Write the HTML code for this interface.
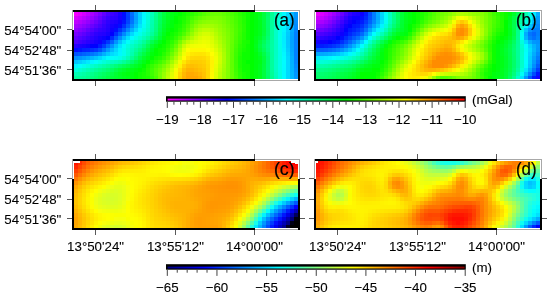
<!DOCTYPE html>
<html><head><meta charset="utf-8"><style>
html,body{margin:0;padding:0;background:#fff;}
svg{display:block;will-change:transform;}
text{font-family:"Liberation Sans",sans-serif;fill:#000;stroke:#000;stroke-width:0.1px;}
</style></head><body>
<svg width="550" height="297" viewBox="0 0 550 297" shape-rendering="crispEdges">
<defs><filter id="bl" x="-2%" y="-5%" width="104%" height="110%"><feGaussianBlur stdDeviation="0.7"/></filter></defs>
<g filter="url(#bl)"><rect x="74" y="12" width="4" height="4" fill="#f700ff"/>
<rect x="78" y="12" width="4" height="4" fill="#e700ff"/>
<rect x="82" y="12" width="4" height="4" fill="#d500ff"/>
<rect x="86" y="12" width="4" height="4" fill="#c100ff"/>
<rect x="90" y="12" width="4" height="4" fill="#ab00ff"/>
<rect x="94" y="12" width="4" height="4" fill="#9400ff"/>
<rect x="98" y="12" width="4" height="4" fill="#7b00ff"/>
<rect x="102" y="12" width="4" height="4" fill="#6200ff"/>
<rect x="106" y="12" width="4" height="4" fill="#4c00ff"/>
<rect x="110" y="12" width="4" height="4" fill="#3c00ff"/>
<rect x="114" y="12" width="4" height="4" fill="#3100ff"/>
<rect x="118" y="12" width="4" height="4" fill="#1b00ff"/>
<rect x="122" y="12" width="4" height="4" fill="#000bff"/>
<rect x="126" y="12" width="4" height="4" fill="#003dff"/>
<rect x="130" y="12" width="4" height="4" fill="#006fff"/>
<rect x="134" y="12" width="4" height="4" fill="#00a1ff"/>
<rect x="138" y="12" width="4" height="4" fill="#00d0ff"/>
<rect x="142" y="12" width="4" height="4" fill="#00f9ff"/>
<rect x="146" y="12" width="4" height="4" fill="#00ffe0"/>
<rect x="150" y="12" width="4" height="4" fill="#00ffbb"/>
<rect x="154" y="12" width="4" height="4" fill="#00ff91"/>
<rect x="158" y="12" width="4" height="4" fill="#00ff64"/>
<rect x="162" y="12" width="4" height="4" fill="#00ff3f"/>
<rect x="166" y="12" width="4" height="4" fill="#00ff26"/>
<rect x="170" y="12" width="4" height="4" fill="#00ff16"/>
<rect x="174" y="12" width="4" height="4" fill="#00ff09"/>
<rect x="178" y="12" width="4" height="4" fill="#04ff00"/>
<rect x="182" y="12" width="4" height="4" fill="#11ff00"/>
<rect x="186" y="12" width="4" height="4" fill="#1dff00"/>
<rect x="190" y="12" width="4" height="4" fill="#2aff00"/>
<rect x="194" y="12" width="4" height="4" fill="#37ff00"/>
<rect x="198" y="12" width="4" height="4" fill="#45ff00"/>
<rect x="202" y="12" width="4" height="4" fill="#53ff00"/>
<rect x="206" y="12" width="4" height="4" fill="#5fff00"/>
<rect x="210" y="12" width="4" height="4" fill="#67ff00"/>
<rect x="214" y="12" width="4" height="4" fill="#6bff00"/>
<rect x="218" y="12" width="4" height="4" fill="#69ff00"/>
<rect x="222" y="12" width="4" height="4" fill="#61ff00"/>
<rect x="226" y="12" width="4" height="4" fill="#56ff00"/>
<rect x="230" y="12" width="4" height="4" fill="#49ff00"/>
<rect x="234" y="12" width="4" height="4" fill="#3aff00"/>
<rect x="238" y="12" width="4" height="4" fill="#2cff00"/>
<rect x="242" y="12" width="4" height="4" fill="#1dff00"/>
<rect x="246" y="12" width="4" height="4" fill="#0eff00"/>
<rect x="250" y="12" width="4" height="4" fill="#00ff00"/>
<rect x="254" y="12" width="4" height="4" fill="#00ff0e"/>
<rect x="258" y="12" width="4" height="4" fill="#00ff1f"/>
<rect x="262" y="12" width="4" height="4" fill="#00ff3c"/>
<rect x="266" y="12" width="4" height="4" fill="#00ff64"/>
<rect x="270" y="12" width="4" height="4" fill="#00ff92"/>
<rect x="274" y="12" width="4" height="4" fill="#00ffbc"/>
<rect x="278" y="12" width="4" height="4" fill="#00ffe0"/>
<rect x="282" y="12" width="4" height="4" fill="#00fbff"/>
<rect x="286" y="12" width="4" height="4" fill="#00daff"/>
<rect x="290" y="12" width="4" height="4" fill="#00b9ff"/>
<rect x="294" y="12" width="4" height="4" fill="#0098ff"/>
<rect x="74" y="16" width="4" height="4" fill="#da00ff"/>
<rect x="78" y="16" width="4" height="4" fill="#cd00ff"/>
<rect x="82" y="16" width="4" height="4" fill="#bd00ff"/>
<rect x="86" y="16" width="4" height="4" fill="#ab00ff"/>
<rect x="90" y="16" width="4" height="4" fill="#9700ff"/>
<rect x="94" y="16" width="4" height="4" fill="#8100ff"/>
<rect x="98" y="16" width="4" height="4" fill="#6900ff"/>
<rect x="102" y="16" width="4" height="4" fill="#5000ff"/>
<rect x="106" y="16" width="4" height="4" fill="#3b00ff"/>
<rect x="110" y="16" width="4" height="4" fill="#2e00ff"/>
<rect x="114" y="16" width="4" height="4" fill="#2900ff"/>
<rect x="118" y="16" width="4" height="4" fill="#1800ff"/>
<rect x="122" y="16" width="4" height="4" fill="#000aff"/>
<rect x="126" y="16" width="4" height="4" fill="#003aff"/>
<rect x="130" y="16" width="4" height="4" fill="#006bff"/>
<rect x="134" y="16" width="4" height="4" fill="#009eff"/>
<rect x="138" y="16" width="4" height="4" fill="#00d0ff"/>
<rect x="142" y="16" width="4" height="4" fill="#00fbff"/>
<rect x="146" y="16" width="4" height="4" fill="#00ffdd"/>
<rect x="150" y="16" width="4" height="4" fill="#00ffb6"/>
<rect x="154" y="16" width="4" height="4" fill="#00ff8d"/>
<rect x="158" y="16" width="4" height="4" fill="#00ff60"/>
<rect x="162" y="16" width="4" height="4" fill="#00ff3b"/>
<rect x="166" y="16" width="4" height="4" fill="#00ff22"/>
<rect x="170" y="16" width="4" height="4" fill="#00ff13"/>
<rect x="174" y="16" width="4" height="4" fill="#00ff04"/>
<rect x="178" y="16" width="4" height="4" fill="#0aff00"/>
<rect x="182" y="16" width="4" height="4" fill="#19ff00"/>
<rect x="186" y="16" width="4" height="4" fill="#2bff00"/>
<rect x="190" y="16" width="4" height="4" fill="#40ff00"/>
<rect x="194" y="16" width="4" height="4" fill="#53ff00"/>
<rect x="198" y="16" width="4" height="4" fill="#62ff00"/>
<rect x="202" y="16" width="4" height="4" fill="#6dff00"/>
<rect x="206" y="16" width="4" height="4" fill="#75ff00"/>
<rect x="210" y="16" width="4" height="4" fill="#7aff00"/>
<rect x="214" y="16" width="4" height="4" fill="#7cff00"/>
<rect x="218" y="16" width="4" height="4" fill="#78ff00"/>
<rect x="222" y="16" width="4" height="4" fill="#6eff00"/>
<rect x="226" y="16" width="4" height="4" fill="#61ff00"/>
<rect x="230" y="16" width="4" height="4" fill="#52ff00"/>
<rect x="234" y="16" width="4" height="4" fill="#42ff00"/>
<rect x="238" y="16" width="4" height="4" fill="#32ff00"/>
<rect x="242" y="16" width="4" height="4" fill="#21ff00"/>
<rect x="246" y="16" width="4" height="4" fill="#10ff00"/>
<rect x="250" y="16" width="4" height="4" fill="#00ff00"/>
<rect x="254" y="16" width="4" height="4" fill="#00ff0f"/>
<rect x="258" y="16" width="4" height="4" fill="#00ff20"/>
<rect x="262" y="16" width="4" height="4" fill="#00ff3d"/>
<rect x="266" y="16" width="4" height="4" fill="#00ff68"/>
<rect x="270" y="16" width="4" height="4" fill="#00ff98"/>
<rect x="274" y="16" width="4" height="4" fill="#00ffc1"/>
<rect x="278" y="16" width="4" height="4" fill="#00ffe2"/>
<rect x="282" y="16" width="4" height="4" fill="#00fcff"/>
<rect x="286" y="16" width="4" height="4" fill="#00dbff"/>
<rect x="290" y="16" width="4" height="4" fill="#00b8ff"/>
<rect x="294" y="16" width="4" height="4" fill="#0094ff"/>
<rect x="74" y="20" width="4" height="4" fill="#bf00ff"/>
<rect x="78" y="20" width="4" height="4" fill="#b300ff"/>
<rect x="82" y="20" width="4" height="4" fill="#a400ff"/>
<rect x="86" y="20" width="4" height="4" fill="#9400ff"/>
<rect x="90" y="20" width="4" height="4" fill="#8100ff"/>
<rect x="94" y="20" width="4" height="4" fill="#6d00ff"/>
<rect x="98" y="20" width="4" height="4" fill="#5800ff"/>
<rect x="102" y="20" width="4" height="4" fill="#4100ff"/>
<rect x="106" y="20" width="4" height="4" fill="#2e00ff"/>
<rect x="110" y="20" width="4" height="4" fill="#2200ff"/>
<rect x="114" y="20" width="4" height="4" fill="#1c00ff"/>
<rect x="118" y="20" width="4" height="4" fill="#0b00ff"/>
<rect x="122" y="20" width="4" height="4" fill="#0017ff"/>
<rect x="126" y="20" width="4" height="4" fill="#0044ff"/>
<rect x="130" y="20" width="4" height="4" fill="#0075ff"/>
<rect x="134" y="20" width="4" height="4" fill="#00a7ff"/>
<rect x="138" y="20" width="4" height="4" fill="#00d7ff"/>
<rect x="142" y="20" width="4" height="4" fill="#00fffc"/>
<rect x="146" y="20" width="4" height="4" fill="#00ffd7"/>
<rect x="150" y="20" width="4" height="4" fill="#00ffb2"/>
<rect x="154" y="20" width="4" height="4" fill="#00ff88"/>
<rect x="158" y="20" width="4" height="4" fill="#00ff5b"/>
<rect x="162" y="20" width="4" height="4" fill="#00ff36"/>
<rect x="166" y="20" width="4" height="4" fill="#00ff1d"/>
<rect x="170" y="20" width="4" height="4" fill="#00ff0e"/>
<rect x="174" y="20" width="4" height="4" fill="#01ff00"/>
<rect x="178" y="20" width="4" height="4" fill="#10ff00"/>
<rect x="182" y="20" width="4" height="4" fill="#22ff00"/>
<rect x="186" y="20" width="4" height="4" fill="#39ff00"/>
<rect x="190" y="20" width="4" height="4" fill="#55ff00"/>
<rect x="194" y="20" width="4" height="4" fill="#6eff00"/>
<rect x="198" y="20" width="4" height="4" fill="#7fff00"/>
<rect x="202" y="20" width="4" height="4" fill="#88ff00"/>
<rect x="206" y="20" width="4" height="4" fill="#8dff00"/>
<rect x="210" y="20" width="4" height="4" fill="#8eff00"/>
<rect x="214" y="20" width="4" height="4" fill="#8bff00"/>
<rect x="218" y="20" width="4" height="4" fill="#84ff00"/>
<rect x="222" y="20" width="4" height="4" fill="#79ff00"/>
<rect x="226" y="20" width="4" height="4" fill="#6aff00"/>
<rect x="230" y="20" width="4" height="4" fill="#5aff00"/>
<rect x="234" y="20" width="4" height="4" fill="#48ff00"/>
<rect x="238" y="20" width="4" height="4" fill="#36ff00"/>
<rect x="242" y="20" width="4" height="4" fill="#24ff00"/>
<rect x="246" y="20" width="4" height="4" fill="#11ff00"/>
<rect x="250" y="20" width="4" height="4" fill="#00ff00"/>
<rect x="254" y="20" width="4" height="4" fill="#00ff0f"/>
<rect x="258" y="20" width="4" height="4" fill="#00ff1f"/>
<rect x="262" y="20" width="4" height="4" fill="#00ff3d"/>
<rect x="266" y="20" width="4" height="4" fill="#00ff69"/>
<rect x="270" y="20" width="4" height="4" fill="#00ff9c"/>
<rect x="274" y="20" width="4" height="4" fill="#00ffc5"/>
<rect x="278" y="20" width="4" height="4" fill="#00ffe4"/>
<rect x="282" y="20" width="4" height="4" fill="#00fcff"/>
<rect x="286" y="20" width="4" height="4" fill="#00daff"/>
<rect x="290" y="20" width="4" height="4" fill="#00b6ff"/>
<rect x="294" y="20" width="4" height="4" fill="#008fff"/>
<rect x="74" y="24" width="4" height="4" fill="#a600ff"/>
<rect x="78" y="24" width="4" height="4" fill="#9a00ff"/>
<rect x="82" y="24" width="4" height="4" fill="#8c00ff"/>
<rect x="86" y="24" width="4" height="4" fill="#7c00ff"/>
<rect x="90" y="24" width="4" height="4" fill="#6b00ff"/>
<rect x="94" y="24" width="4" height="4" fill="#5800ff"/>
<rect x="98" y="24" width="4" height="4" fill="#4700ff"/>
<rect x="102" y="24" width="4" height="4" fill="#3600ff"/>
<rect x="106" y="24" width="4" height="4" fill="#2700ff"/>
<rect x="110" y="24" width="4" height="4" fill="#1800ff"/>
<rect x="114" y="24" width="4" height="4" fill="#0a00ff"/>
<rect x="118" y="24" width="4" height="4" fill="#000dff"/>
<rect x="122" y="24" width="4" height="4" fill="#0031ff"/>
<rect x="126" y="24" width="4" height="4" fill="#005eff"/>
<rect x="130" y="24" width="4" height="4" fill="#008cff"/>
<rect x="134" y="24" width="4" height="4" fill="#00b9ff"/>
<rect x="138" y="24" width="4" height="4" fill="#00e5ff"/>
<rect x="142" y="24" width="4" height="4" fill="#00fff3"/>
<rect x="146" y="24" width="4" height="4" fill="#00ffd1"/>
<rect x="150" y="24" width="4" height="4" fill="#00ffae"/>
<rect x="154" y="24" width="4" height="4" fill="#00ff84"/>
<rect x="158" y="24" width="4" height="4" fill="#00ff55"/>
<rect x="162" y="24" width="4" height="4" fill="#00ff2f"/>
<rect x="166" y="24" width="4" height="4" fill="#00ff17"/>
<rect x="170" y="24" width="4" height="4" fill="#00ff08"/>
<rect x="174" y="24" width="4" height="4" fill="#07ff00"/>
<rect x="178" y="24" width="4" height="4" fill="#18ff00"/>
<rect x="182" y="24" width="4" height="4" fill="#2dff00"/>
<rect x="186" y="24" width="4" height="4" fill="#48ff00"/>
<rect x="190" y="24" width="4" height="4" fill="#69ff00"/>
<rect x="194" y="24" width="4" height="4" fill="#86ff00"/>
<rect x="198" y="24" width="4" height="4" fill="#9aff00"/>
<rect x="202" y="24" width="4" height="4" fill="#a3ff00"/>
<rect x="206" y="24" width="4" height="4" fill="#a5ff00"/>
<rect x="210" y="24" width="4" height="4" fill="#a2ff00"/>
<rect x="214" y="24" width="4" height="4" fill="#9aff00"/>
<rect x="218" y="24" width="4" height="4" fill="#8fff00"/>
<rect x="222" y="24" width="4" height="4" fill="#81ff00"/>
<rect x="226" y="24" width="4" height="4" fill="#72ff00"/>
<rect x="230" y="24" width="4" height="4" fill="#60ff00"/>
<rect x="234" y="24" width="4" height="4" fill="#4dff00"/>
<rect x="238" y="24" width="4" height="4" fill="#39ff00"/>
<rect x="242" y="24" width="4" height="4" fill="#25ff00"/>
<rect x="246" y="24" width="4" height="4" fill="#11ff00"/>
<rect x="250" y="24" width="4" height="4" fill="#00ff00"/>
<rect x="254" y="24" width="4" height="4" fill="#00ff0e"/>
<rect x="258" y="24" width="4" height="4" fill="#00ff1d"/>
<rect x="262" y="24" width="4" height="4" fill="#00ff3b"/>
<rect x="266" y="24" width="4" height="4" fill="#00ff69"/>
<rect x="270" y="24" width="4" height="4" fill="#00ff9d"/>
<rect x="274" y="24" width="4" height="4" fill="#00ffc7"/>
<rect x="278" y="24" width="4" height="4" fill="#00ffe7"/>
<rect x="282" y="24" width="4" height="4" fill="#00f9ff"/>
<rect x="286" y="24" width="4" height="4" fill="#00d7ff"/>
<rect x="290" y="24" width="4" height="4" fill="#00b2ff"/>
<rect x="294" y="24" width="4" height="4" fill="#008aff"/>
<rect x="74" y="28" width="4" height="4" fill="#8f00ff"/>
<rect x="78" y="28" width="4" height="4" fill="#8200ff"/>
<rect x="82" y="28" width="4" height="4" fill="#7400ff"/>
<rect x="86" y="28" width="4" height="4" fill="#6400ff"/>
<rect x="90" y="28" width="4" height="4" fill="#5300ff"/>
<rect x="94" y="28" width="4" height="4" fill="#4200ff"/>
<rect x="98" y="28" width="4" height="4" fill="#3600ff"/>
<rect x="102" y="28" width="4" height="4" fill="#2f00ff"/>
<rect x="106" y="28" width="4" height="4" fill="#2400ff"/>
<rect x="110" y="28" width="4" height="4" fill="#1000ff"/>
<rect x="114" y="28" width="4" height="4" fill="#000dff"/>
<rect x="118" y="28" width="4" height="4" fill="#0030ff"/>
<rect x="122" y="28" width="4" height="4" fill="#0059ff"/>
<rect x="126" y="28" width="4" height="4" fill="#0086ff"/>
<rect x="130" y="28" width="4" height="4" fill="#00b0ff"/>
<rect x="134" y="28" width="4" height="4" fill="#00d7ff"/>
<rect x="138" y="28" width="4" height="4" fill="#00faff"/>
<rect x="142" y="28" width="4" height="4" fill="#00ffe5"/>
<rect x="146" y="28" width="4" height="4" fill="#00ffc9"/>
<rect x="150" y="28" width="4" height="4" fill="#00ffa9"/>
<rect x="154" y="28" width="4" height="4" fill="#00ff80"/>
<rect x="158" y="28" width="4" height="4" fill="#00ff4e"/>
<rect x="162" y="28" width="4" height="4" fill="#00ff27"/>
<rect x="166" y="28" width="4" height="4" fill="#00ff0e"/>
<rect x="170" y="28" width="4" height="4" fill="#00ff01"/>
<rect x="174" y="28" width="4" height="4" fill="#0eff00"/>
<rect x="178" y="28" width="4" height="4" fill="#21ff00"/>
<rect x="182" y="28" width="4" height="4" fill="#39ff00"/>
<rect x="186" y="28" width="4" height="4" fill="#58ff00"/>
<rect x="190" y="28" width="4" height="4" fill="#7dff00"/>
<rect x="194" y="28" width="4" height="4" fill="#9eff00"/>
<rect x="198" y="28" width="4" height="4" fill="#b3ff00"/>
<rect x="202" y="28" width="4" height="4" fill="#beff00"/>
<rect x="206" y="28" width="4" height="4" fill="#bfff00"/>
<rect x="210" y="28" width="4" height="4" fill="#b7ff00"/>
<rect x="214" y="28" width="4" height="4" fill="#a7ff00"/>
<rect x="218" y="28" width="4" height="4" fill="#97ff00"/>
<rect x="222" y="28" width="4" height="4" fill="#88ff00"/>
<rect x="226" y="28" width="4" height="4" fill="#78ff00"/>
<rect x="230" y="28" width="4" height="4" fill="#65ff00"/>
<rect x="234" y="28" width="4" height="4" fill="#50ff00"/>
<rect x="238" y="28" width="4" height="4" fill="#3aff00"/>
<rect x="242" y="28" width="4" height="4" fill="#25ff00"/>
<rect x="246" y="28" width="4" height="4" fill="#11ff00"/>
<rect x="250" y="28" width="4" height="4" fill="#00ff00"/>
<rect x="254" y="28" width="4" height="4" fill="#00ff0d"/>
<rect x="258" y="28" width="4" height="4" fill="#00ff1a"/>
<rect x="262" y="28" width="4" height="4" fill="#00ff38"/>
<rect x="266" y="28" width="4" height="4" fill="#00ff66"/>
<rect x="270" y="28" width="4" height="4" fill="#00ff9c"/>
<rect x="274" y="28" width="4" height="4" fill="#00ffc8"/>
<rect x="278" y="28" width="4" height="4" fill="#00ffea"/>
<rect x="282" y="28" width="4" height="4" fill="#00f4ff"/>
<rect x="286" y="28" width="4" height="4" fill="#00d1ff"/>
<rect x="290" y="28" width="4" height="4" fill="#00acff"/>
<rect x="294" y="28" width="4" height="4" fill="#0084ff"/>
<rect x="74" y="32" width="4" height="4" fill="#7800ff"/>
<rect x="78" y="32" width="4" height="4" fill="#6b00ff"/>
<rect x="82" y="32" width="4" height="4" fill="#5d00ff"/>
<rect x="86" y="32" width="4" height="4" fill="#4e00ff"/>
<rect x="90" y="32" width="4" height="4" fill="#3e00ff"/>
<rect x="94" y="32" width="4" height="4" fill="#2f00ff"/>
<rect x="98" y="32" width="4" height="4" fill="#2600ff"/>
<rect x="102" y="32" width="4" height="4" fill="#2300ff"/>
<rect x="106" y="32" width="4" height="4" fill="#1800ff"/>
<rect x="110" y="32" width="4" height="4" fill="#0003ff"/>
<rect x="114" y="32" width="4" height="4" fill="#002dff"/>
<rect x="118" y="32" width="4" height="4" fill="#005aff"/>
<rect x="122" y="32" width="4" height="4" fill="#0087ff"/>
<rect x="126" y="32" width="4" height="4" fill="#00b2ff"/>
<rect x="130" y="32" width="4" height="4" fill="#00d8ff"/>
<rect x="134" y="32" width="4" height="4" fill="#00f7ff"/>
<rect x="138" y="32" width="4" height="4" fill="#00ffec"/>
<rect x="142" y="32" width="4" height="4" fill="#00ffd2"/>
<rect x="146" y="32" width="4" height="4" fill="#00ffb9"/>
<rect x="150" y="32" width="4" height="4" fill="#00ff9b"/>
<rect x="154" y="32" width="4" height="4" fill="#00ff73"/>
<rect x="158" y="32" width="4" height="4" fill="#00ff43"/>
<rect x="162" y="32" width="4" height="4" fill="#00ff1c"/>
<rect x="166" y="32" width="4" height="4" fill="#00ff05"/>
<rect x="170" y="32" width="4" height="4" fill="#09ff00"/>
<rect x="174" y="32" width="4" height="4" fill="#1aff00"/>
<rect x="178" y="32" width="4" height="4" fill="#32ff00"/>
<rect x="182" y="32" width="4" height="4" fill="#4eff00"/>
<rect x="186" y="32" width="4" height="4" fill="#6fff00"/>
<rect x="190" y="32" width="4" height="4" fill="#94ff00"/>
<rect x="194" y="32" width="4" height="4" fill="#b4ff00"/>
<rect x="198" y="32" width="4" height="4" fill="#c9ff00"/>
<rect x="202" y="32" width="8" height="4" fill="#d5ff00"/>
<rect x="210" y="32" width="4" height="4" fill="#c8ff00"/>
<rect x="214" y="32" width="4" height="4" fill="#b3ff00"/>
<rect x="218" y="32" width="4" height="4" fill="#9fff00"/>
<rect x="222" y="32" width="4" height="4" fill="#8dff00"/>
<rect x="226" y="32" width="4" height="4" fill="#7cff00"/>
<rect x="230" y="32" width="4" height="4" fill="#68ff00"/>
<rect x="234" y="32" width="4" height="4" fill="#50ff00"/>
<rect x="238" y="32" width="4" height="4" fill="#39ff00"/>
<rect x="242" y="32" width="4" height="4" fill="#24ff00"/>
<rect x="246" y="32" width="4" height="4" fill="#11ff00"/>
<rect x="250" y="32" width="4" height="4" fill="#00ff00"/>
<rect x="254" y="32" width="4" height="4" fill="#00ff0e"/>
<rect x="258" y="32" width="4" height="4" fill="#00ff1c"/>
<rect x="262" y="32" width="4" height="4" fill="#00ff3a"/>
<rect x="266" y="32" width="4" height="4" fill="#00ff67"/>
<rect x="270" y="32" width="4" height="4" fill="#00ff9b"/>
<rect x="274" y="32" width="4" height="4" fill="#00ffc8"/>
<rect x="278" y="32" width="4" height="4" fill="#00ffec"/>
<rect x="282" y="32" width="4" height="4" fill="#00efff"/>
<rect x="286" y="32" width="4" height="4" fill="#00cbff"/>
<rect x="290" y="32" width="4" height="4" fill="#00a6ff"/>
<rect x="294" y="32" width="4" height="4" fill="#0080ff"/>
<rect x="74" y="36" width="4" height="4" fill="#6200ff"/>
<rect x="78" y="36" width="4" height="4" fill="#5500ff"/>
<rect x="82" y="36" width="4" height="4" fill="#4800ff"/>
<rect x="86" y="36" width="4" height="4" fill="#3b00ff"/>
<rect x="90" y="36" width="4" height="4" fill="#2e00ff"/>
<rect x="94" y="36" width="4" height="4" fill="#2200ff"/>
<rect x="98" y="36" width="4" height="4" fill="#1700ff"/>
<rect x="102" y="36" width="4" height="4" fill="#0d00ff"/>
<rect x="106" y="36" width="4" height="4" fill="#0006ff"/>
<rect x="110" y="36" width="4" height="4" fill="#0029ff"/>
<rect x="114" y="36" width="4" height="4" fill="#005bff"/>
<rect x="118" y="36" width="4" height="4" fill="#008bff"/>
<rect x="122" y="36" width="4" height="4" fill="#00b7ff"/>
<rect x="126" y="36" width="4" height="4" fill="#00ddff"/>
<rect x="130" y="36" width="4" height="4" fill="#00fdff"/>
<rect x="134" y="36" width="4" height="4" fill="#00ffe8"/>
<rect x="138" y="36" width="4" height="4" fill="#00ffd2"/>
<rect x="142" y="36" width="4" height="4" fill="#00ffb9"/>
<rect x="146" y="36" width="4" height="4" fill="#00ff9d"/>
<rect x="150" y="36" width="4" height="4" fill="#00ff7d"/>
<rect x="154" y="36" width="4" height="4" fill="#00ff59"/>
<rect x="158" y="36" width="4" height="4" fill="#00ff31"/>
<rect x="162" y="36" width="4" height="4" fill="#00ff10"/>
<rect x="166" y="36" width="4" height="4" fill="#07ff00"/>
<rect x="170" y="36" width="4" height="4" fill="#17ff00"/>
<rect x="174" y="36" width="4" height="4" fill="#2fff00"/>
<rect x="178" y="36" width="4" height="4" fill="#4eff00"/>
<rect x="182" y="36" width="4" height="4" fill="#72ff00"/>
<rect x="186" y="36" width="4" height="4" fill="#92ff00"/>
<rect x="190" y="36" width="4" height="4" fill="#b0ff00"/>
<rect x="194" y="36" width="4" height="4" fill="#c9ff00"/>
<rect x="198" y="36" width="4" height="4" fill="#daff00"/>
<rect x="202" y="36" width="4" height="4" fill="#e4ff00"/>
<rect x="206" y="36" width="4" height="4" fill="#e2ff00"/>
<rect x="210" y="36" width="4" height="4" fill="#d5ff00"/>
<rect x="214" y="36" width="4" height="4" fill="#bdff00"/>
<rect x="218" y="36" width="4" height="4" fill="#a7ff00"/>
<rect x="222" y="36" width="4" height="4" fill="#93ff00"/>
<rect x="226" y="36" width="4" height="4" fill="#7fff00"/>
<rect x="230" y="36" width="4" height="4" fill="#68ff00"/>
<rect x="234" y="36" width="4" height="4" fill="#4eff00"/>
<rect x="238" y="36" width="4" height="4" fill="#36ff00"/>
<rect x="242" y="36" width="4" height="4" fill="#22ff00"/>
<rect x="246" y="36" width="4" height="4" fill="#11ff00"/>
<rect x="250" y="36" width="4" height="4" fill="#00ff00"/>
<rect x="254" y="36" width="4" height="4" fill="#00ff12"/>
<rect x="258" y="36" width="4" height="4" fill="#00ff27"/>
<rect x="262" y="36" width="4" height="4" fill="#00ff46"/>
<rect x="266" y="36" width="4" height="4" fill="#00ff6f"/>
<rect x="270" y="36" width="4" height="4" fill="#00ff9d"/>
<rect x="274" y="36" width="4" height="4" fill="#00ffc7"/>
<rect x="278" y="36" width="4" height="4" fill="#00ffed"/>
<rect x="282" y="36" width="4" height="4" fill="#00edff"/>
<rect x="286" y="36" width="4" height="4" fill="#00c8ff"/>
<rect x="290" y="36" width="4" height="4" fill="#00a4ff"/>
<rect x="294" y="36" width="4" height="4" fill="#007fff"/>
<rect x="74" y="40" width="4" height="4" fill="#4b00ff"/>
<rect x="78" y="40" width="4" height="4" fill="#3f00ff"/>
<rect x="82" y="40" width="4" height="4" fill="#3400ff"/>
<rect x="86" y="40" width="4" height="4" fill="#2b00ff"/>
<rect x="90" y="40" width="4" height="4" fill="#2300ff"/>
<rect x="94" y="40" width="4" height="4" fill="#1900ff"/>
<rect x="98" y="40" width="4" height="4" fill="#0700ff"/>
<rect x="102" y="40" width="4" height="4" fill="#0013ff"/>
<rect x="106" y="40" width="4" height="4" fill="#0036ff"/>
<rect x="110" y="40" width="4" height="4" fill="#0061ff"/>
<rect x="114" y="40" width="4" height="4" fill="#0093ff"/>
<rect x="118" y="40" width="4" height="4" fill="#00c1ff"/>
<rect x="122" y="40" width="4" height="4" fill="#00e6ff"/>
<rect x="126" y="40" width="4" height="4" fill="#00fff9"/>
<rect x="130" y="40" width="4" height="4" fill="#00ffdf"/>
<rect x="134" y="40" width="4" height="4" fill="#00ffcb"/>
<rect x="138" y="40" width="4" height="4" fill="#00ffb6"/>
<rect x="142" y="40" width="4" height="4" fill="#00ff9a"/>
<rect x="146" y="40" width="4" height="4" fill="#00ff75"/>
<rect x="150" y="40" width="4" height="4" fill="#00ff51"/>
<rect x="154" y="40" width="4" height="4" fill="#00ff32"/>
<rect x="158" y="40" width="4" height="4" fill="#00ff18"/>
<rect x="162" y="40" width="4" height="4" fill="#00ff01"/>
<rect x="166" y="40" width="4" height="4" fill="#14ff00"/>
<rect x="170" y="40" width="4" height="4" fill="#2aff00"/>
<rect x="174" y="40" width="4" height="4" fill="#4aff00"/>
<rect x="178" y="40" width="4" height="4" fill="#74ff00"/>
<rect x="182" y="40" width="4" height="4" fill="#a1ff00"/>
<rect x="186" y="40" width="4" height="4" fill="#c0ff00"/>
<rect x="190" y="40" width="4" height="4" fill="#d2ff00"/>
<rect x="194" y="40" width="4" height="4" fill="#ddff00"/>
<rect x="198" y="40" width="4" height="4" fill="#e6ff00"/>
<rect x="202" y="40" width="4" height="4" fill="#ecff00"/>
<rect x="206" y="40" width="4" height="4" fill="#e9ff00"/>
<rect x="210" y="40" width="4" height="4" fill="#dcff00"/>
<rect x="214" y="40" width="4" height="4" fill="#c6ff00"/>
<rect x="218" y="40" width="4" height="4" fill="#b0ff00"/>
<rect x="222" y="40" width="4" height="4" fill="#98ff00"/>
<rect x="226" y="40" width="4" height="4" fill="#80ff00"/>
<rect x="230" y="40" width="4" height="4" fill="#66ff00"/>
<rect x="234" y="40" width="4" height="4" fill="#4aff00"/>
<rect x="238" y="40" width="4" height="4" fill="#31ff00"/>
<rect x="242" y="40" width="4" height="4" fill="#1eff00"/>
<rect x="246" y="40" width="4" height="4" fill="#12ff00"/>
<rect x="250" y="40" width="4" height="4" fill="#00ff00"/>
<rect x="254" y="40" width="4" height="4" fill="#00ff19"/>
<rect x="258" y="40" width="4" height="4" fill="#00ff38"/>
<rect x="262" y="40" width="4" height="4" fill="#00ff59"/>
<rect x="266" y="40" width="4" height="4" fill="#00ff7c"/>
<rect x="270" y="40" width="4" height="4" fill="#00ffa0"/>
<rect x="274" y="40" width="4" height="4" fill="#00ffc5"/>
<rect x="278" y="40" width="4" height="4" fill="#00ffeb"/>
<rect x="282" y="40" width="4" height="4" fill="#00edff"/>
<rect x="286" y="40" width="4" height="4" fill="#00c8ff"/>
<rect x="290" y="40" width="4" height="4" fill="#00a3ff"/>
<rect x="294" y="40" width="4" height="4" fill="#007fff"/>
<rect x="74" y="44" width="4" height="4" fill="#2600ff"/>
<rect x="78" y="44" width="4" height="4" fill="#1b00ff"/>
<rect x="82" y="44" width="4" height="4" fill="#1200ff"/>
<rect x="86" y="44" width="4" height="4" fill="#0b00ff"/>
<rect x="90" y="44" width="4" height="4" fill="#0600ff"/>
<rect x="94" y="44" width="4" height="4" fill="#0003ff"/>
<rect x="98" y="44" width="4" height="4" fill="#001aff"/>
<rect x="102" y="44" width="4" height="4" fill="#003eff"/>
<rect x="106" y="44" width="4" height="4" fill="#0068ff"/>
<rect x="110" y="44" width="4" height="4" fill="#0093ff"/>
<rect x="114" y="44" width="4" height="4" fill="#00bfff"/>
<rect x="118" y="44" width="4" height="4" fill="#00e5ff"/>
<rect x="122" y="44" width="4" height="4" fill="#00fff8"/>
<rect x="126" y="44" width="4" height="4" fill="#00ffde"/>
<rect x="130" y="44" width="4" height="4" fill="#00ffc6"/>
<rect x="134" y="44" width="4" height="4" fill="#00ffb2"/>
<rect x="138" y="44" width="4" height="4" fill="#00ff9b"/>
<rect x="142" y="44" width="4" height="4" fill="#00ff7b"/>
<rect x="146" y="44" width="4" height="4" fill="#00ff53"/>
<rect x="150" y="44" width="4" height="4" fill="#00ff2e"/>
<rect x="154" y="44" width="4" height="4" fill="#00ff14"/>
<rect x="158" y="44" width="4" height="4" fill="#00ff04"/>
<rect x="162" y="44" width="4" height="4" fill="#0dff00"/>
<rect x="166" y="44" width="4" height="4" fill="#22ff00"/>
<rect x="170" y="44" width="4" height="4" fill="#3eff00"/>
<rect x="174" y="44" width="4" height="4" fill="#64ff00"/>
<rect x="178" y="44" width="4" height="4" fill="#96ff00"/>
<rect x="182" y="44" width="4" height="4" fill="#c7ff00"/>
<rect x="186" y="44" width="4" height="4" fill="#e5ff00"/>
<rect x="190" y="44" width="4" height="4" fill="#efff00"/>
<rect x="194" y="44" width="4" height="4" fill="#f2ff00"/>
<rect x="198" y="44" width="4" height="4" fill="#f4ff00"/>
<rect x="202" y="44" width="4" height="4" fill="#f7ff00"/>
<rect x="206" y="44" width="4" height="4" fill="#f2ff00"/>
<rect x="210" y="44" width="4" height="4" fill="#e5ff00"/>
<rect x="214" y="44" width="4" height="4" fill="#d1ff00"/>
<rect x="218" y="44" width="4" height="4" fill="#b9ff00"/>
<rect x="222" y="44" width="4" height="4" fill="#9eff00"/>
<rect x="226" y="44" width="4" height="4" fill="#82ff00"/>
<rect x="230" y="44" width="4" height="4" fill="#64ff00"/>
<rect x="234" y="44" width="4" height="4" fill="#45ff00"/>
<rect x="238" y="44" width="4" height="4" fill="#2bff00"/>
<rect x="242" y="44" width="4" height="4" fill="#1aff00"/>
<rect x="246" y="44" width="4" height="4" fill="#11ff00"/>
<rect x="250" y="44" width="4" height="4" fill="#00ff00"/>
<rect x="254" y="44" width="4" height="4" fill="#00ff1b"/>
<rect x="258" y="44" width="4" height="4" fill="#00ff3f"/>
<rect x="262" y="44" width="4" height="4" fill="#00ff62"/>
<rect x="266" y="44" width="4" height="4" fill="#00ff82"/>
<rect x="270" y="44" width="4" height="4" fill="#00ffa2"/>
<rect x="274" y="44" width="4" height="4" fill="#00ffc4"/>
<rect x="278" y="44" width="4" height="4" fill="#00ffe9"/>
<rect x="282" y="44" width="4" height="4" fill="#00efff"/>
<rect x="286" y="44" width="4" height="4" fill="#00c9ff"/>
<rect x="290" y="44" width="4" height="4" fill="#00a4ff"/>
<rect x="294" y="44" width="4" height="4" fill="#0080ff"/>
<rect x="74" y="48" width="4" height="4" fill="#000fff"/>
<rect x="78" y="48" width="4" height="4" fill="#0019ff"/>
<rect x="82" y="48" width="4" height="4" fill="#0021ff"/>
<rect x="86" y="48" width="4" height="4" fill="#0028ff"/>
<rect x="90" y="48" width="4" height="4" fill="#002fff"/>
<rect x="94" y="48" width="4" height="4" fill="#0039ff"/>
<rect x="98" y="48" width="4" height="4" fill="#0050ff"/>
<rect x="102" y="48" width="4" height="4" fill="#0073ff"/>
<rect x="106" y="48" width="4" height="4" fill="#0099ff"/>
<rect x="110" y="48" width="4" height="4" fill="#00baff"/>
<rect x="114" y="48" width="4" height="4" fill="#00d8ff"/>
<rect x="118" y="48" width="4" height="4" fill="#00f5ff"/>
<rect x="122" y="48" width="4" height="4" fill="#00ffee"/>
<rect x="126" y="48" width="4" height="4" fill="#00ffd3"/>
<rect x="130" y="48" width="4" height="4" fill="#00ffb8"/>
<rect x="134" y="48" width="4" height="4" fill="#00ff9d"/>
<rect x="138" y="48" width="4" height="4" fill="#00ff80"/>
<rect x="142" y="48" width="4" height="4" fill="#00ff5f"/>
<rect x="146" y="48" width="4" height="4" fill="#00ff3a"/>
<rect x="150" y="48" width="4" height="4" fill="#00ff1a"/>
<rect x="154" y="48" width="4" height="4" fill="#00ff04"/>
<rect x="158" y="48" width="4" height="4" fill="#08ff00"/>
<rect x="162" y="48" width="4" height="4" fill="#19ff00"/>
<rect x="166" y="48" width="4" height="4" fill="#31ff00"/>
<rect x="170" y="48" width="4" height="4" fill="#51ff00"/>
<rect x="174" y="48" width="4" height="4" fill="#7bff00"/>
<rect x="178" y="48" width="4" height="4" fill="#afff00"/>
<rect x="182" y="48" width="4" height="4" fill="#e1ff00"/>
<rect x="186" y="48" width="4" height="4" fill="#fdff00"/>
<rect x="190" y="48" width="16" height="4" fill="#fff800"/>
<rect x="206" y="48" width="4" height="4" fill="#fffe00"/>
<rect x="210" y="48" width="4" height="4" fill="#f2ff00"/>
<rect x="214" y="48" width="4" height="4" fill="#ddff00"/>
<rect x="218" y="48" width="4" height="4" fill="#c3ff00"/>
<rect x="222" y="48" width="4" height="4" fill="#a5ff00"/>
<rect x="226" y="48" width="4" height="4" fill="#83ff00"/>
<rect x="230" y="48" width="4" height="4" fill="#62ff00"/>
<rect x="234" y="48" width="4" height="4" fill="#41ff00"/>
<rect x="238" y="48" width="4" height="4" fill="#26ff00"/>
<rect x="242" y="48" width="4" height="4" fill="#15ff00"/>
<rect x="246" y="48" width="4" height="4" fill="#0eff00"/>
<rect x="250" y="48" width="4" height="4" fill="#00ff00"/>
<rect x="254" y="48" width="4" height="4" fill="#00ff18"/>
<rect x="258" y="48" width="4" height="4" fill="#00ff38"/>
<rect x="262" y="48" width="4" height="4" fill="#00ff59"/>
<rect x="266" y="48" width="4" height="4" fill="#00ff7d"/>
<rect x="270" y="48" width="4" height="4" fill="#00ffa1"/>
<rect x="274" y="48" width="4" height="4" fill="#00ffc4"/>
<rect x="278" y="48" width="4" height="4" fill="#00ffe7"/>
<rect x="282" y="48" width="4" height="4" fill="#00f3ff"/>
<rect x="286" y="48" width="4" height="4" fill="#00ceff"/>
<rect x="290" y="48" width="4" height="4" fill="#00a7ff"/>
<rect x="294" y="48" width="4" height="4" fill="#007fff"/>
<rect x="74" y="52" width="4" height="4" fill="#0051ff"/>
<rect x="78" y="52" width="4" height="4" fill="#0059ff"/>
<rect x="82" y="52" width="4" height="4" fill="#0062ff"/>
<rect x="86" y="52" width="4" height="4" fill="#006bff"/>
<rect x="90" y="52" width="4" height="4" fill="#0075ff"/>
<rect x="94" y="52" width="4" height="4" fill="#0082ff"/>
<rect x="98" y="52" width="4" height="4" fill="#0096ff"/>
<rect x="102" y="52" width="4" height="4" fill="#00b0ff"/>
<rect x="106" y="52" width="4" height="4" fill="#00c9ff"/>
<rect x="110" y="52" width="4" height="4" fill="#00dbff"/>
<rect x="114" y="52" width="4" height="4" fill="#00e7ff"/>
<rect x="118" y="52" width="4" height="4" fill="#00f8ff"/>
<rect x="122" y="52" width="4" height="4" fill="#00ffee"/>
<rect x="126" y="52" width="4" height="4" fill="#00ffd0"/>
<rect x="130" y="52" width="4" height="4" fill="#00ffaf"/>
<rect x="134" y="52" width="4" height="4" fill="#00ff8a"/>
<rect x="138" y="52" width="4" height="4" fill="#00ff65"/>
<rect x="142" y="52" width="4" height="4" fill="#00ff44"/>
<rect x="146" y="52" width="4" height="4" fill="#00ff28"/>
<rect x="150" y="52" width="4" height="4" fill="#00ff10"/>
<rect x="154" y="52" width="4" height="4" fill="#02ff00"/>
<rect x="158" y="52" width="4" height="4" fill="#11ff00"/>
<rect x="162" y="52" width="4" height="4" fill="#25ff00"/>
<rect x="166" y="52" width="4" height="4" fill="#42ff00"/>
<rect x="170" y="52" width="4" height="4" fill="#67ff00"/>
<rect x="174" y="52" width="4" height="4" fill="#91ff00"/>
<rect x="178" y="52" width="4" height="4" fill="#c2ff00"/>
<rect x="182" y="52" width="4" height="4" fill="#f0ff00"/>
<rect x="186" y="52" width="4" height="4" fill="#fff200"/>
<rect x="190" y="52" width="4" height="4" fill="#ffe800"/>
<rect x="194" y="52" width="4" height="4" fill="#ffe500"/>
<rect x="198" y="52" width="4" height="4" fill="#ffe400"/>
<rect x="202" y="52" width="4" height="4" fill="#ffe600"/>
<rect x="206" y="52" width="4" height="4" fill="#ffef00"/>
<rect x="210" y="52" width="4" height="4" fill="#fffe00"/>
<rect x="214" y="52" width="4" height="4" fill="#eaff00"/>
<rect x="218" y="52" width="4" height="4" fill="#cdff00"/>
<rect x="222" y="52" width="4" height="4" fill="#abff00"/>
<rect x="226" y="52" width="4" height="4" fill="#85ff00"/>
<rect x="230" y="52" width="4" height="4" fill="#61ff00"/>
<rect x="234" y="52" width="4" height="4" fill="#3dff00"/>
<rect x="238" y="52" width="4" height="4" fill="#21ff00"/>
<rect x="242" y="52" width="4" height="4" fill="#10ff00"/>
<rect x="246" y="52" width="4" height="4" fill="#0aff00"/>
<rect x="250" y="52" width="4" height="4" fill="#00ff00"/>
<rect x="254" y="52" width="4" height="4" fill="#00ff10"/>
<rect x="258" y="52" width="4" height="4" fill="#00ff26"/>
<rect x="262" y="52" width="4" height="4" fill="#00ff46"/>
<rect x="266" y="52" width="4" height="4" fill="#00ff70"/>
<rect x="270" y="52" width="4" height="4" fill="#00ff9e"/>
<rect x="274" y="52" width="4" height="4" fill="#00ffc5"/>
<rect x="278" y="52" width="4" height="4" fill="#00ffe5"/>
<rect x="282" y="52" width="4" height="4" fill="#00f8ff"/>
<rect x="286" y="52" width="4" height="4" fill="#00d4ff"/>
<rect x="290" y="52" width="4" height="4" fill="#00abff"/>
<rect x="294" y="52" width="4" height="4" fill="#007fff"/>
<rect x="74" y="56" width="4" height="4" fill="#008eff"/>
<rect x="78" y="56" width="4" height="4" fill="#0096ff"/>
<rect x="82" y="56" width="4" height="4" fill="#00a0ff"/>
<rect x="86" y="56" width="4" height="4" fill="#00acff"/>
<rect x="90" y="56" width="4" height="4" fill="#00b9ff"/>
<rect x="94" y="56" width="4" height="4" fill="#00c7ff"/>
<rect x="98" y="56" width="4" height="4" fill="#00d8ff"/>
<rect x="102" y="56" width="4" height="4" fill="#00ecff"/>
<rect x="106" y="56" width="4" height="4" fill="#00fcff"/>
<rect x="110" y="56" width="4" height="4" fill="#00fff8"/>
<rect x="114" y="56" width="4" height="4" fill="#00fff3"/>
<rect x="118" y="56" width="4" height="4" fill="#00ffe8"/>
<rect x="122" y="56" width="4" height="4" fill="#00ffd3"/>
<rect x="126" y="56" width="4" height="4" fill="#00ffb6"/>
<rect x="130" y="56" width="4" height="4" fill="#00ff94"/>
<rect x="134" y="56" width="4" height="4" fill="#00ff6f"/>
<rect x="138" y="56" width="4" height="4" fill="#00ff49"/>
<rect x="142" y="56" width="4" height="4" fill="#00ff2b"/>
<rect x="146" y="56" width="4" height="4" fill="#00ff13"/>
<rect x="150" y="56" width="4" height="4" fill="#00ff00"/>
<rect x="154" y="56" width="4" height="4" fill="#12ff00"/>
<rect x="158" y="56" width="4" height="4" fill="#22ff00"/>
<rect x="162" y="56" width="4" height="4" fill="#39ff00"/>
<rect x="166" y="56" width="4" height="4" fill="#59ff00"/>
<rect x="170" y="56" width="4" height="4" fill="#80ff00"/>
<rect x="174" y="56" width="4" height="4" fill="#abff00"/>
<rect x="178" y="56" width="4" height="4" fill="#d8ff00"/>
<rect x="182" y="56" width="4" height="4" fill="#fffd00"/>
<rect x="186" y="56" width="4" height="4" fill="#ffe300"/>
<rect x="190" y="56" width="4" height="4" fill="#ffd800"/>
<rect x="194" y="56" width="8" height="4" fill="#ffd600"/>
<rect x="202" y="56" width="4" height="4" fill="#ffd900"/>
<rect x="206" y="56" width="4" height="4" fill="#ffe300"/>
<rect x="210" y="56" width="4" height="4" fill="#fff500"/>
<rect x="214" y="56" width="4" height="4" fill="#f0ff00"/>
<rect x="218" y="56" width="4" height="4" fill="#d1ff00"/>
<rect x="222" y="56" width="4" height="4" fill="#adff00"/>
<rect x="226" y="56" width="4" height="4" fill="#86ff00"/>
<rect x="230" y="56" width="4" height="4" fill="#60ff00"/>
<rect x="234" y="56" width="4" height="4" fill="#3bff00"/>
<rect x="238" y="56" width="4" height="4" fill="#1eff00"/>
<rect x="242" y="56" width="4" height="4" fill="#0dff00"/>
<rect x="246" y="56" width="4" height="4" fill="#07ff00"/>
<rect x="250" y="56" width="4" height="4" fill="#00ff00"/>
<rect x="254" y="56" width="4" height="4" fill="#00ff0b"/>
<rect x="258" y="56" width="4" height="4" fill="#00ff1b"/>
<rect x="262" y="56" width="4" height="4" fill="#00ff3a"/>
<rect x="266" y="56" width="4" height="4" fill="#00ff69"/>
<rect x="270" y="56" width="4" height="4" fill="#00ff9d"/>
<rect x="274" y="56" width="4" height="4" fill="#00ffc6"/>
<rect x="278" y="56" width="4" height="4" fill="#00ffe5"/>
<rect x="282" y="56" width="4" height="4" fill="#00fbff"/>
<rect x="286" y="56" width="4" height="4" fill="#00d8ff"/>
<rect x="290" y="56" width="4" height="4" fill="#00afff"/>
<rect x="294" y="56" width="4" height="4" fill="#0080ff"/>
<rect x="74" y="60" width="4" height="4" fill="#00c5ff"/>
<rect x="78" y="60" width="4" height="4" fill="#00d0ff"/>
<rect x="82" y="60" width="4" height="4" fill="#00dcff"/>
<rect x="86" y="60" width="4" height="4" fill="#00e9ff"/>
<rect x="90" y="60" width="4" height="4" fill="#00f7ff"/>
<rect x="94" y="60" width="4" height="4" fill="#00fff8"/>
<rect x="98" y="60" width="4" height="4" fill="#00ffe9"/>
<rect x="102" y="60" width="4" height="4" fill="#00ffda"/>
<rect x="106" y="60" width="4" height="4" fill="#00ffcc"/>
<rect x="110" y="60" width="4" height="4" fill="#00ffc1"/>
<rect x="114" y="60" width="4" height="4" fill="#00ffb9"/>
<rect x="118" y="60" width="4" height="4" fill="#00ffac"/>
<rect x="122" y="60" width="4" height="4" fill="#00ff99"/>
<rect x="126" y="60" width="4" height="4" fill="#00ff82"/>
<rect x="130" y="60" width="4" height="4" fill="#00ff67"/>
<rect x="134" y="60" width="4" height="4" fill="#00ff4a"/>
<rect x="138" y="60" width="4" height="4" fill="#00ff2d"/>
<rect x="142" y="60" width="4" height="4" fill="#00ff12"/>
<rect x="146" y="60" width="4" height="4" fill="#05ff00"/>
<rect x="150" y="60" width="4" height="4" fill="#19ff00"/>
<rect x="154" y="60" width="4" height="4" fill="#2cff00"/>
<rect x="158" y="60" width="4" height="4" fill="#3dff00"/>
<rect x="162" y="60" width="4" height="4" fill="#55ff00"/>
<rect x="166" y="60" width="4" height="4" fill="#76ff00"/>
<rect x="170" y="60" width="4" height="4" fill="#9eff00"/>
<rect x="174" y="60" width="4" height="4" fill="#c8ff00"/>
<rect x="178" y="60" width="4" height="4" fill="#f2ff00"/>
<rect x="182" y="60" width="4" height="4" fill="#ffe700"/>
<rect x="186" y="60" width="4" height="4" fill="#ffd200"/>
<rect x="190" y="60" width="8" height="4" fill="#ffcb00"/>
<rect x="198" y="60" width="4" height="4" fill="#ffcd00"/>
<rect x="202" y="60" width="4" height="4" fill="#ffd100"/>
<rect x="206" y="60" width="4" height="4" fill="#ffdd00"/>
<rect x="210" y="60" width="4" height="4" fill="#fff200"/>
<rect x="214" y="60" width="4" height="4" fill="#eeff00"/>
<rect x="218" y="60" width="4" height="4" fill="#ceff00"/>
<rect x="222" y="60" width="4" height="4" fill="#aaff00"/>
<rect x="226" y="60" width="4" height="4" fill="#85ff00"/>
<rect x="230" y="60" width="4" height="4" fill="#60ff00"/>
<rect x="234" y="60" width="4" height="4" fill="#3bff00"/>
<rect x="238" y="60" width="4" height="4" fill="#1dff00"/>
<rect x="242" y="60" width="4" height="4" fill="#0cff00"/>
<rect x="246" y="60" width="4" height="4" fill="#06ff00"/>
<rect x="250" y="60" width="4" height="4" fill="#00ff00"/>
<rect x="254" y="60" width="4" height="4" fill="#00ff09"/>
<rect x="258" y="60" width="4" height="4" fill="#00ff19"/>
<rect x="262" y="60" width="4" height="4" fill="#00ff38"/>
<rect x="266" y="60" width="4" height="4" fill="#00ff68"/>
<rect x="270" y="60" width="4" height="4" fill="#00ff9d"/>
<rect x="274" y="60" width="4" height="4" fill="#00ffc7"/>
<rect x="278" y="60" width="4" height="4" fill="#00ffe5"/>
<rect x="282" y="60" width="4" height="4" fill="#00fcff"/>
<rect x="286" y="60" width="4" height="4" fill="#00d9ff"/>
<rect x="290" y="60" width="4" height="4" fill="#00b1ff"/>
<rect x="294" y="60" width="4" height="4" fill="#0084ff"/>
<rect x="74" y="64" width="4" height="4" fill="#00f6ff"/>
<rect x="78" y="64" width="4" height="4" fill="#00fffb"/>
<rect x="82" y="64" width="4" height="4" fill="#00ffed"/>
<rect x="86" y="64" width="4" height="4" fill="#00ffdf"/>
<rect x="90" y="64" width="4" height="4" fill="#00ffd1"/>
<rect x="94" y="64" width="4" height="4" fill="#00ffc3"/>
<rect x="98" y="64" width="4" height="4" fill="#00ffb5"/>
<rect x="102" y="64" width="4" height="4" fill="#00ffa7"/>
<rect x="106" y="64" width="4" height="4" fill="#00ff99"/>
<rect x="110" y="64" width="4" height="4" fill="#00ff89"/>
<rect x="114" y="64" width="4" height="4" fill="#00ff78"/>
<rect x="118" y="64" width="4" height="4" fill="#00ff66"/>
<rect x="122" y="64" width="4" height="4" fill="#00ff56"/>
<rect x="126" y="64" width="4" height="4" fill="#00ff46"/>
<rect x="130" y="64" width="4" height="4" fill="#00ff35"/>
<rect x="134" y="64" width="4" height="4" fill="#00ff25"/>
<rect x="138" y="64" width="4" height="4" fill="#00ff13"/>
<rect x="142" y="64" width="4" height="4" fill="#03ff00"/>
<rect x="146" y="64" width="4" height="4" fill="#1bff00"/>
<rect x="150" y="64" width="4" height="4" fill="#32ff00"/>
<rect x="154" y="64" width="4" height="4" fill="#47ff00"/>
<rect x="158" y="64" width="4" height="4" fill="#5bff00"/>
<rect x="162" y="64" width="4" height="4" fill="#74ff00"/>
<rect x="166" y="64" width="4" height="4" fill="#95ff00"/>
<rect x="170" y="64" width="4" height="4" fill="#bcff00"/>
<rect x="174" y="64" width="4" height="4" fill="#e4ff00"/>
<rect x="178" y="64" width="4" height="4" fill="#fff300"/>
<rect x="182" y="64" width="4" height="4" fill="#ffd200"/>
<rect x="186" y="64" width="4" height="4" fill="#ffc000"/>
<rect x="190" y="64" width="4" height="4" fill="#ffbe00"/>
<rect x="194" y="64" width="4" height="4" fill="#ffc200"/>
<rect x="198" y="64" width="4" height="4" fill="#ffc700"/>
<rect x="202" y="64" width="4" height="4" fill="#ffcc00"/>
<rect x="206" y="64" width="4" height="4" fill="#ffda00"/>
<rect x="210" y="64" width="4" height="4" fill="#fff300"/>
<rect x="214" y="64" width="4" height="4" fill="#e9ff00"/>
<rect x="218" y="64" width="4" height="4" fill="#c7ff00"/>
<rect x="222" y="64" width="4" height="4" fill="#a6ff00"/>
<rect x="226" y="64" width="4" height="4" fill="#84ff00"/>
<rect x="230" y="64" width="4" height="4" fill="#61ff00"/>
<rect x="234" y="64" width="4" height="4" fill="#3cff00"/>
<rect x="238" y="64" width="4" height="4" fill="#1eff00"/>
<rect x="242" y="64" width="4" height="4" fill="#0dff00"/>
<rect x="246" y="64" width="4" height="4" fill="#07ff00"/>
<rect x="250" y="64" width="4" height="4" fill="#00ff00"/>
<rect x="254" y="64" width="4" height="4" fill="#00ff0b"/>
<rect x="258" y="64" width="4" height="4" fill="#00ff1c"/>
<rect x="262" y="64" width="4" height="4" fill="#00ff3b"/>
<rect x="266" y="64" width="4" height="4" fill="#00ff6a"/>
<rect x="270" y="64" width="4" height="4" fill="#00ff9d"/>
<rect x="274" y="64" width="4" height="4" fill="#00ffc7"/>
<rect x="278" y="64" width="4" height="4" fill="#00ffe6"/>
<rect x="282" y="64" width="4" height="4" fill="#00fbff"/>
<rect x="286" y="64" width="4" height="4" fill="#00d9ff"/>
<rect x="290" y="64" width="4" height="4" fill="#00b3ff"/>
<rect x="294" y="64" width="4" height="4" fill="#008aff"/>
<rect x="74" y="68" width="4" height="4" fill="#00ffde"/>
<rect x="78" y="68" width="4" height="4" fill="#00ffd0"/>
<rect x="82" y="68" width="4" height="4" fill="#00ffc3"/>
<rect x="86" y="68" width="4" height="4" fill="#00ffb5"/>
<rect x="90" y="68" width="4" height="4" fill="#00ffa8"/>
<rect x="94" y="68" width="4" height="4" fill="#00ff9a"/>
<rect x="98" y="68" width="4" height="4" fill="#00ff8c"/>
<rect x="102" y="68" width="4" height="4" fill="#00ff7f"/>
<rect x="106" y="68" width="4" height="4" fill="#00ff71"/>
<rect x="110" y="68" width="4" height="4" fill="#00ff5f"/>
<rect x="114" y="68" width="4" height="4" fill="#00ff4b"/>
<rect x="118" y="68" width="4" height="4" fill="#00ff39"/>
<rect x="122" y="68" width="4" height="4" fill="#00ff2a"/>
<rect x="126" y="68" width="4" height="4" fill="#00ff1f"/>
<rect x="130" y="68" width="4" height="4" fill="#00ff15"/>
<rect x="134" y="68" width="4" height="4" fill="#00ff0c"/>
<rect x="138" y="68" width="4" height="4" fill="#00ff01"/>
<rect x="142" y="68" width="4" height="4" fill="#10ff00"/>
<rect x="146" y="68" width="4" height="4" fill="#26ff00"/>
<rect x="150" y="68" width="4" height="4" fill="#3eff00"/>
<rect x="154" y="68" width="4" height="4" fill="#56ff00"/>
<rect x="158" y="68" width="4" height="4" fill="#6dff00"/>
<rect x="162" y="68" width="4" height="4" fill="#89ff00"/>
<rect x="166" y="68" width="4" height="4" fill="#abff00"/>
<rect x="170" y="68" width="4" height="4" fill="#d2ff00"/>
<rect x="174" y="68" width="4" height="4" fill="#f8ff00"/>
<rect x="178" y="68" width="4" height="4" fill="#ffe100"/>
<rect x="182" y="68" width="4" height="4" fill="#ffc200"/>
<rect x="186" y="68" width="8" height="4" fill="#ffb300"/>
<rect x="194" y="68" width="4" height="4" fill="#ffb900"/>
<rect x="198" y="68" width="4" height="4" fill="#ffc000"/>
<rect x="202" y="68" width="4" height="4" fill="#ffc700"/>
<rect x="206" y="68" width="4" height="4" fill="#ffd800"/>
<rect x="210" y="68" width="4" height="4" fill="#fff500"/>
<rect x="214" y="68" width="4" height="4" fill="#e4ff00"/>
<rect x="218" y="68" width="4" height="4" fill="#c1ff00"/>
<rect x="222" y="68" width="4" height="4" fill="#a1ff00"/>
<rect x="226" y="68" width="4" height="4" fill="#83ff00"/>
<rect x="230" y="68" width="4" height="4" fill="#62ff00"/>
<rect x="234" y="68" width="4" height="4" fill="#3eff00"/>
<rect x="238" y="68" width="4" height="4" fill="#21ff00"/>
<rect x="242" y="68" width="4" height="4" fill="#0fff00"/>
<rect x="246" y="68" width="4" height="4" fill="#08ff00"/>
<rect x="250" y="68" width="4" height="4" fill="#00ff00"/>
<rect x="254" y="68" width="4" height="4" fill="#00ff0c"/>
<rect x="258" y="68" width="4" height="4" fill="#00ff1e"/>
<rect x="262" y="68" width="4" height="4" fill="#00ff3d"/>
<rect x="266" y="68" width="4" height="4" fill="#00ff6a"/>
<rect x="270" y="68" width="4" height="4" fill="#00ff9b"/>
<rect x="274" y="68" width="4" height="4" fill="#00ffc5"/>
<rect x="278" y="68" width="4" height="4" fill="#00ffe5"/>
<rect x="282" y="68" width="4" height="4" fill="#00faff"/>
<rect x="286" y="68" width="4" height="4" fill="#00d9ff"/>
<rect x="290" y="68" width="4" height="4" fill="#00b5ff"/>
<rect x="294" y="68" width="4" height="4" fill="#008fff"/>
<rect x="74" y="72" width="4" height="4" fill="#00ffb8"/>
<rect x="78" y="72" width="4" height="4" fill="#00ffaf"/>
<rect x="82" y="72" width="4" height="4" fill="#00ffa5"/>
<rect x="86" y="72" width="4" height="4" fill="#00ff99"/>
<rect x="90" y="72" width="4" height="4" fill="#00ff8c"/>
<rect x="94" y="72" width="4" height="4" fill="#00ff7d"/>
<rect x="98" y="72" width="4" height="4" fill="#00ff70"/>
<rect x="102" y="72" width="4" height="4" fill="#00ff62"/>
<rect x="106" y="72" width="4" height="4" fill="#00ff54"/>
<rect x="110" y="72" width="4" height="4" fill="#00ff44"/>
<rect x="114" y="72" width="4" height="4" fill="#00ff33"/>
<rect x="118" y="72" width="4" height="4" fill="#00ff23"/>
<rect x="122" y="72" width="4" height="4" fill="#00ff18"/>
<rect x="126" y="72" width="4" height="4" fill="#00ff0f"/>
<rect x="130" y="72" width="4" height="4" fill="#00ff07"/>
<rect x="134" y="72" width="4" height="4" fill="#00ff00"/>
<rect x="138" y="72" width="4" height="4" fill="#08ff00"/>
<rect x="142" y="72" width="4" height="4" fill="#15ff00"/>
<rect x="146" y="72" width="4" height="4" fill="#26ff00"/>
<rect x="150" y="72" width="4" height="4" fill="#3cff00"/>
<rect x="154" y="72" width="4" height="4" fill="#56ff00"/>
<rect x="158" y="72" width="4" height="4" fill="#74ff00"/>
<rect x="162" y="72" width="4" height="4" fill="#96ff00"/>
<rect x="166" y="72" width="4" height="4" fill="#b9ff00"/>
<rect x="170" y="72" width="4" height="4" fill="#dfff00"/>
<rect x="174" y="72" width="4" height="4" fill="#fffa00"/>
<rect x="178" y="72" width="4" height="4" fill="#ffd600"/>
<rect x="182" y="72" width="4" height="4" fill="#ffb900"/>
<rect x="186" y="72" width="8" height="4" fill="#ffa900"/>
<rect x="194" y="72" width="4" height="4" fill="#ffaf00"/>
<rect x="198" y="72" width="4" height="4" fill="#ffb700"/>
<rect x="202" y="72" width="4" height="4" fill="#ffc300"/>
<rect x="206" y="72" width="4" height="4" fill="#ffd800"/>
<rect x="210" y="72" width="4" height="4" fill="#fff800"/>
<rect x="214" y="72" width="4" height="4" fill="#dfff00"/>
<rect x="218" y="72" width="4" height="4" fill="#bbff00"/>
<rect x="222" y="72" width="4" height="4" fill="#9dff00"/>
<rect x="226" y="72" width="4" height="4" fill="#82ff00"/>
<rect x="230" y="72" width="4" height="4" fill="#63ff00"/>
<rect x="234" y="72" width="4" height="4" fill="#42ff00"/>
<rect x="238" y="72" width="4" height="4" fill="#25ff00"/>
<rect x="242" y="72" width="4" height="4" fill="#13ff00"/>
<rect x="246" y="72" width="4" height="4" fill="#0aff00"/>
<rect x="250" y="72" width="4" height="4" fill="#00ff00"/>
<rect x="254" y="72" width="4" height="4" fill="#00ff0d"/>
<rect x="258" y="72" width="4" height="4" fill="#00ff1f"/>
<rect x="262" y="72" width="4" height="4" fill="#00ff3d"/>
<rect x="266" y="72" width="4" height="4" fill="#00ff67"/>
<rect x="270" y="72" width="4" height="4" fill="#00ff97"/>
<rect x="274" y="72" width="4" height="4" fill="#00ffc0"/>
<rect x="278" y="72" width="4" height="4" fill="#00ffe3"/>
<rect x="282" y="72" width="4" height="4" fill="#00faff"/>
<rect x="286" y="72" width="4" height="4" fill="#00d9ff"/>
<rect x="290" y="72" width="4" height="4" fill="#00b7ff"/>
<rect x="294" y="72" width="4" height="4" fill="#0094ff"/>
<rect x="74" y="76" width="4" height="3" fill="#00ff9d"/>
<rect x="78" y="76" width="4" height="3" fill="#00ff9a"/>
<rect x="82" y="76" width="4" height="3" fill="#00ff94"/>
<rect x="86" y="76" width="4" height="3" fill="#00ff8b"/>
<rect x="90" y="76" width="4" height="3" fill="#00ff7e"/>
<rect x="94" y="76" width="4" height="3" fill="#00ff6f"/>
<rect x="98" y="76" width="4" height="3" fill="#00ff60"/>
<rect x="102" y="76" width="4" height="3" fill="#00ff52"/>
<rect x="106" y="76" width="4" height="3" fill="#00ff44"/>
<rect x="110" y="76" width="4" height="3" fill="#00ff39"/>
<rect x="114" y="76" width="4" height="3" fill="#00ff2e"/>
<rect x="118" y="76" width="4" height="3" fill="#00ff25"/>
<rect x="122" y="76" width="4" height="3" fill="#00ff1b"/>
<rect x="126" y="76" width="4" height="3" fill="#00ff12"/>
<rect x="130" y="76" width="4" height="3" fill="#00ff09"/>
<rect x="134" y="76" width="4" height="3" fill="#00ff00"/>
<rect x="138" y="76" width="4" height="3" fill="#08ff00"/>
<rect x="142" y="76" width="4" height="3" fill="#12ff00"/>
<rect x="146" y="76" width="4" height="3" fill="#1eff00"/>
<rect x="150" y="76" width="4" height="3" fill="#30ff00"/>
<rect x="154" y="76" width="4" height="3" fill="#4cff00"/>
<rect x="158" y="76" width="4" height="3" fill="#72ff00"/>
<rect x="162" y="76" width="4" height="3" fill="#99ff00"/>
<rect x="166" y="76" width="4" height="3" fill="#bfff00"/>
<rect x="170" y="76" width="4" height="3" fill="#e4ff00"/>
<rect x="174" y="76" width="4" height="3" fill="#fff600"/>
<rect x="178" y="76" width="4" height="3" fill="#ffd300"/>
<rect x="182" y="76" width="4" height="3" fill="#ffb500"/>
<rect x="186" y="76" width="12" height="3" fill="#ffa600"/>
<rect x="198" y="76" width="4" height="3" fill="#ffaf00"/>
<rect x="202" y="76" width="4" height="3" fill="#ffc000"/>
<rect x="206" y="76" width="4" height="3" fill="#ffd900"/>
<rect x="210" y="76" width="4" height="3" fill="#fffb00"/>
<rect x="214" y="76" width="4" height="3" fill="#dbff00"/>
<rect x="218" y="76" width="4" height="3" fill="#b8ff00"/>
<rect x="222" y="76" width="4" height="3" fill="#9bff00"/>
<rect x="226" y="76" width="4" height="3" fill="#81ff00"/>
<rect x="230" y="76" width="4" height="3" fill="#64ff00"/>
<rect x="234" y="76" width="4" height="3" fill="#46ff00"/>
<rect x="238" y="76" width="4" height="3" fill="#2bff00"/>
<rect x="242" y="76" width="4" height="3" fill="#18ff00"/>
<rect x="246" y="76" width="4" height="3" fill="#0cff00"/>
<rect x="250" y="76" width="4" height="3" fill="#00ff00"/>
<rect x="254" y="76" width="4" height="3" fill="#00ff0e"/>
<rect x="258" y="76" width="4" height="3" fill="#00ff1f"/>
<rect x="262" y="76" width="4" height="3" fill="#00ff3b"/>
<rect x="266" y="76" width="4" height="3" fill="#00ff64"/>
<rect x="270" y="76" width="4" height="3" fill="#00ff91"/>
<rect x="274" y="76" width="4" height="3" fill="#00ffbb"/>
<rect x="278" y="76" width="4" height="3" fill="#00ffe0"/>
<rect x="282" y="76" width="4" height="3" fill="#00fbff"/>
<rect x="286" y="76" width="4" height="3" fill="#00d9ff"/>
<rect x="290" y="76" width="4" height="3" fill="#00b8ff"/>
<rect x="294" y="76" width="4" height="3" fill="#0098ff"/></g>
<g filter="url(#bl)"><rect x="316" y="12" width="4" height="4" fill="#ec00ff"/>
<rect x="320" y="12" width="4" height="4" fill="#db00ff"/>
<rect x="324" y="12" width="4" height="4" fill="#c900ff"/>
<rect x="328" y="12" width="4" height="4" fill="#b500ff"/>
<rect x="332" y="12" width="4" height="4" fill="#9f00ff"/>
<rect x="336" y="12" width="4" height="4" fill="#8600ff"/>
<rect x="340" y="12" width="4" height="4" fill="#6b00ff"/>
<rect x="344" y="12" width="4" height="4" fill="#4c00ff"/>
<rect x="348" y="12" width="4" height="4" fill="#3300ff"/>
<rect x="352" y="12" width="4" height="4" fill="#2300ff"/>
<rect x="356" y="12" width="4" height="4" fill="#1c00ff"/>
<rect x="360" y="12" width="4" height="4" fill="#0900ff"/>
<rect x="364" y="12" width="4" height="4" fill="#001bff"/>
<rect x="368" y="12" width="4" height="4" fill="#004dff"/>
<rect x="372" y="12" width="4" height="4" fill="#007dff"/>
<rect x="376" y="12" width="4" height="4" fill="#00aaff"/>
<rect x="380" y="12" width="4" height="4" fill="#00d7ff"/>
<rect x="384" y="12" width="4" height="4" fill="#00fff5"/>
<rect x="388" y="12" width="4" height="4" fill="#00ffc0"/>
<rect x="392" y="12" width="4" height="4" fill="#00ff8d"/>
<rect x="396" y="12" width="4" height="4" fill="#00ff5f"/>
<rect x="400" y="12" width="4" height="4" fill="#00ff38"/>
<rect x="404" y="12" width="4" height="4" fill="#00ff1a"/>
<rect x="408" y="12" width="4" height="4" fill="#00ff07"/>
<rect x="412" y="12" width="4" height="4" fill="#02ff00"/>
<rect x="416" y="12" width="4" height="4" fill="#0dff00"/>
<rect x="420" y="12" width="4" height="4" fill="#1bff00"/>
<rect x="424" y="12" width="4" height="4" fill="#2bff00"/>
<rect x="428" y="12" width="4" height="4" fill="#3dff00"/>
<rect x="432" y="12" width="4" height="4" fill="#50ff00"/>
<rect x="436" y="12" width="4" height="4" fill="#62ff00"/>
<rect x="440" y="12" width="4" height="4" fill="#70ff00"/>
<rect x="444" y="12" width="4" height="4" fill="#7aff00"/>
<rect x="448" y="12" width="4" height="4" fill="#87ff00"/>
<rect x="452" y="12" width="4" height="4" fill="#97ff00"/>
<rect x="456" y="12" width="4" height="4" fill="#a8ff00"/>
<rect x="460" y="12" width="4" height="4" fill="#afff00"/>
<rect x="464" y="12" width="4" height="4" fill="#aaff00"/>
<rect x="468" y="12" width="4" height="4" fill="#9eff00"/>
<rect x="472" y="12" width="4" height="4" fill="#96ff00"/>
<rect x="476" y="12" width="4" height="4" fill="#8fff00"/>
<rect x="480" y="12" width="4" height="4" fill="#85ff00"/>
<rect x="484" y="12" width="4" height="4" fill="#73ff00"/>
<rect x="488" y="12" width="4" height="4" fill="#5aff00"/>
<rect x="492" y="12" width="4" height="4" fill="#43ff00"/>
<rect x="496" y="12" width="4" height="4" fill="#2eff00"/>
<rect x="500" y="12" width="4" height="4" fill="#1cff00"/>
<rect x="504" y="12" width="4" height="4" fill="#08ff00"/>
<rect x="508" y="12" width="4" height="4" fill="#00ff0f"/>
<rect x="512" y="12" width="4" height="4" fill="#00ff2a"/>
<rect x="516" y="12" width="4" height="4" fill="#00ff4d"/>
<rect x="520" y="12" width="4" height="4" fill="#00ff79"/>
<rect x="524" y="12" width="4" height="4" fill="#00ffaa"/>
<rect x="528" y="12" width="4" height="4" fill="#00ffde"/>
<rect x="532" y="12" width="4" height="4" fill="#00e9ff"/>
<rect x="536" y="12" width="4" height="4" fill="#00aeff"/>
<rect x="316" y="16" width="4" height="4" fill="#d100ff"/>
<rect x="320" y="16" width="4" height="4" fill="#c400ff"/>
<rect x="324" y="16" width="4" height="4" fill="#b300ff"/>
<rect x="328" y="16" width="4" height="4" fill="#9f00ff"/>
<rect x="332" y="16" width="4" height="4" fill="#8700ff"/>
<rect x="336" y="16" width="4" height="4" fill="#6e00ff"/>
<rect x="340" y="16" width="4" height="4" fill="#5200ff"/>
<rect x="344" y="16" width="4" height="4" fill="#3600ff"/>
<rect x="348" y="16" width="4" height="4" fill="#1f00ff"/>
<rect x="352" y="16" width="4" height="4" fill="#1000ff"/>
<rect x="356" y="16" width="4" height="4" fill="#0900ff"/>
<rect x="360" y="16" width="4" height="4" fill="#0008ff"/>
<rect x="364" y="16" width="4" height="4" fill="#0028ff"/>
<rect x="368" y="16" width="4" height="4" fill="#0052ff"/>
<rect x="372" y="16" width="4" height="4" fill="#007dff"/>
<rect x="376" y="16" width="4" height="4" fill="#00a8ff"/>
<rect x="380" y="16" width="4" height="4" fill="#00d4ff"/>
<rect x="384" y="16" width="4" height="4" fill="#00fff9"/>
<rect x="388" y="16" width="4" height="4" fill="#00ffc3"/>
<rect x="392" y="16" width="4" height="4" fill="#00ff8e"/>
<rect x="396" y="16" width="4" height="4" fill="#00ff60"/>
<rect x="400" y="16" width="4" height="4" fill="#00ff38"/>
<rect x="404" y="16" width="4" height="4" fill="#00ff1b"/>
<rect x="408" y="16" width="4" height="4" fill="#00ff09"/>
<rect x="412" y="16" width="4" height="4" fill="#00ff01"/>
<rect x="416" y="16" width="4" height="4" fill="#0cff00"/>
<rect x="420" y="16" width="4" height="4" fill="#1eff00"/>
<rect x="424" y="16" width="4" height="4" fill="#34ff00"/>
<rect x="428" y="16" width="4" height="4" fill="#47ff00"/>
<rect x="432" y="16" width="4" height="4" fill="#5aff00"/>
<rect x="436" y="16" width="4" height="4" fill="#6bff00"/>
<rect x="440" y="16" width="4" height="4" fill="#7dff00"/>
<rect x="444" y="16" width="4" height="4" fill="#8eff00"/>
<rect x="448" y="16" width="4" height="4" fill="#a6ff00"/>
<rect x="452" y="16" width="4" height="4" fill="#c8ff00"/>
<rect x="456" y="16" width="4" height="4" fill="#edff00"/>
<rect x="460" y="16" width="4" height="4" fill="#fbff00"/>
<rect x="464" y="16" width="4" height="4" fill="#f0ff00"/>
<rect x="468" y="16" width="4" height="4" fill="#d6ff00"/>
<rect x="472" y="16" width="4" height="4" fill="#bdff00"/>
<rect x="476" y="16" width="4" height="4" fill="#a7ff00"/>
<rect x="480" y="16" width="4" height="4" fill="#90ff00"/>
<rect x="484" y="16" width="4" height="4" fill="#79ff00"/>
<rect x="488" y="16" width="4" height="4" fill="#61ff00"/>
<rect x="492" y="16" width="4" height="4" fill="#4bff00"/>
<rect x="496" y="16" width="4" height="4" fill="#36ff00"/>
<rect x="500" y="16" width="4" height="4" fill="#21ff00"/>
<rect x="504" y="16" width="4" height="4" fill="#07ff00"/>
<rect x="508" y="16" width="4" height="4" fill="#00ff1a"/>
<rect x="512" y="16" width="4" height="4" fill="#00ff3f"/>
<rect x="516" y="16" width="4" height="4" fill="#00ff67"/>
<rect x="520" y="16" width="4" height="4" fill="#00ff92"/>
<rect x="524" y="16" width="4" height="4" fill="#00ffc0"/>
<rect x="528" y="16" width="4" height="4" fill="#00fff2"/>
<rect x="532" y="16" width="4" height="4" fill="#00d7ff"/>
<rect x="536" y="16" width="4" height="4" fill="#009fff"/>
<rect x="316" y="20" width="4" height="4" fill="#b500ff"/>
<rect x="320" y="20" width="4" height="4" fill="#a900ff"/>
<rect x="324" y="20" width="4" height="4" fill="#9a00ff"/>
<rect x="328" y="20" width="4" height="4" fill="#8700ff"/>
<rect x="332" y="20" width="4" height="4" fill="#7000ff"/>
<rect x="336" y="20" width="4" height="4" fill="#5700ff"/>
<rect x="340" y="20" width="4" height="4" fill="#3d00ff"/>
<rect x="344" y="20" width="4" height="4" fill="#2300ff"/>
<rect x="348" y="20" width="4" height="4" fill="#0d00ff"/>
<rect x="352" y="20" width="4" height="4" fill="#0002ff"/>
<rect x="356" y="20" width="4" height="4" fill="#000aff"/>
<rect x="360" y="20" width="4" height="4" fill="#001cff"/>
<rect x="364" y="20" width="4" height="4" fill="#003aff"/>
<rect x="368" y="20" width="4" height="4" fill="#0062ff"/>
<rect x="372" y="20" width="4" height="4" fill="#008aff"/>
<rect x="376" y="20" width="4" height="4" fill="#00b3ff"/>
<rect x="380" y="20" width="4" height="4" fill="#00deff"/>
<rect x="384" y="20" width="4" height="4" fill="#00fff0"/>
<rect x="388" y="20" width="4" height="4" fill="#00ffb9"/>
<rect x="392" y="20" width="4" height="4" fill="#00ff86"/>
<rect x="396" y="20" width="4" height="4" fill="#00ff5a"/>
<rect x="400" y="20" width="4" height="4" fill="#00ff36"/>
<rect x="404" y="20" width="4" height="4" fill="#00ff1a"/>
<rect x="408" y="20" width="4" height="4" fill="#00ff08"/>
<rect x="412" y="20" width="4" height="4" fill="#04ff00"/>
<rect x="416" y="20" width="4" height="4" fill="#16ff00"/>
<rect x="420" y="20" width="4" height="4" fill="#2eff00"/>
<rect x="424" y="20" width="4" height="4" fill="#49ff00"/>
<rect x="428" y="20" width="4" height="4" fill="#60ff00"/>
<rect x="432" y="20" width="4" height="4" fill="#72ff00"/>
<rect x="436" y="20" width="4" height="4" fill="#83ff00"/>
<rect x="440" y="20" width="4" height="4" fill="#95ff00"/>
<rect x="444" y="20" width="4" height="4" fill="#a9ff00"/>
<rect x="448" y="20" width="4" height="4" fill="#c8ff00"/>
<rect x="452" y="20" width="4" height="4" fill="#f4ff00"/>
<rect x="456" y="20" width="4" height="4" fill="#ffda00"/>
<rect x="460" y="20" width="4" height="4" fill="#ffc800"/>
<rect x="464" y="20" width="4" height="4" fill="#ffd800"/>
<rect x="468" y="20" width="4" height="4" fill="#fffd00"/>
<rect x="472" y="20" width="4" height="4" fill="#deff00"/>
<rect x="476" y="20" width="4" height="4" fill="#bcff00"/>
<rect x="480" y="20" width="4" height="4" fill="#9bff00"/>
<rect x="484" y="20" width="4" height="4" fill="#7fff00"/>
<rect x="488" y="20" width="4" height="4" fill="#65ff00"/>
<rect x="492" y="20" width="4" height="4" fill="#4dff00"/>
<rect x="496" y="20" width="4" height="4" fill="#38ff00"/>
<rect x="500" y="20" width="4" height="4" fill="#22ff00"/>
<rect x="504" y="20" width="4" height="4" fill="#05ff00"/>
<rect x="508" y="20" width="4" height="4" fill="#00ff1f"/>
<rect x="512" y="20" width="4" height="4" fill="#00ff4b"/>
<rect x="516" y="20" width="4" height="4" fill="#00ff7a"/>
<rect x="520" y="20" width="4" height="4" fill="#00ffac"/>
<rect x="524" y="20" width="4" height="4" fill="#00ffdf"/>
<rect x="528" y="20" width="4" height="4" fill="#00eeff"/>
<rect x="532" y="20" width="4" height="4" fill="#00bfff"/>
<rect x="536" y="20" width="4" height="4" fill="#0092ff"/>
<rect x="316" y="24" width="4" height="4" fill="#9600ff"/>
<rect x="320" y="24" width="4" height="4" fill="#8c00ff"/>
<rect x="324" y="24" width="4" height="4" fill="#7f00ff"/>
<rect x="328" y="24" width="4" height="4" fill="#6e00ff"/>
<rect x="332" y="24" width="4" height="4" fill="#5900ff"/>
<rect x="336" y="24" width="4" height="4" fill="#4200ff"/>
<rect x="340" y="24" width="4" height="4" fill="#2a00ff"/>
<rect x="344" y="24" width="4" height="4" fill="#1100ff"/>
<rect x="348" y="24" width="4" height="4" fill="#0004ff"/>
<rect x="352" y="24" width="4" height="4" fill="#0013ff"/>
<rect x="356" y="24" width="4" height="4" fill="#001eff"/>
<rect x="360" y="24" width="4" height="4" fill="#0031ff"/>
<rect x="364" y="24" width="4" height="4" fill="#0052ff"/>
<rect x="368" y="24" width="4" height="4" fill="#007cff"/>
<rect x="372" y="24" width="4" height="4" fill="#00a6ff"/>
<rect x="376" y="24" width="4" height="4" fill="#00cdff"/>
<rect x="380" y="24" width="4" height="4" fill="#00f5ff"/>
<rect x="384" y="24" width="4" height="4" fill="#00ffda"/>
<rect x="388" y="24" width="4" height="4" fill="#00ffa5"/>
<rect x="392" y="24" width="4" height="4" fill="#00ff74"/>
<rect x="396" y="24" width="4" height="4" fill="#00ff4d"/>
<rect x="400" y="24" width="4" height="4" fill="#00ff31"/>
<rect x="404" y="24" width="4" height="4" fill="#00ff19"/>
<rect x="408" y="24" width="4" height="4" fill="#00ff03"/>
<rect x="412" y="24" width="4" height="4" fill="#12ff00"/>
<rect x="416" y="24" width="4" height="4" fill="#2cff00"/>
<rect x="420" y="24" width="4" height="4" fill="#4cff00"/>
<rect x="424" y="24" width="4" height="4" fill="#6cff00"/>
<rect x="428" y="24" width="4" height="4" fill="#86ff00"/>
<rect x="432" y="24" width="4" height="4" fill="#99ff00"/>
<rect x="436" y="24" width="4" height="4" fill="#aaff00"/>
<rect x="440" y="24" width="4" height="4" fill="#baff00"/>
<rect x="444" y="24" width="4" height="4" fill="#ccff00"/>
<rect x="448" y="24" width="4" height="4" fill="#eaff00"/>
<rect x="452" y="24" width="4" height="4" fill="#ffe500"/>
<rect x="456" y="24" width="4" height="4" fill="#ffb100"/>
<rect x="460" y="24" width="4" height="4" fill="#ff9f00"/>
<rect x="464" y="24" width="4" height="4" fill="#ffb200"/>
<rect x="468" y="24" width="4" height="4" fill="#ffdd00"/>
<rect x="472" y="24" width="4" height="4" fill="#f7ff00"/>
<rect x="476" y="24" width="4" height="4" fill="#ceff00"/>
<rect x="480" y="24" width="4" height="4" fill="#a7ff00"/>
<rect x="484" y="24" width="4" height="4" fill="#84ff00"/>
<rect x="488" y="24" width="4" height="4" fill="#65ff00"/>
<rect x="492" y="24" width="4" height="4" fill="#4aff00"/>
<rect x="496" y="24" width="4" height="4" fill="#34ff00"/>
<rect x="500" y="24" width="4" height="4" fill="#20ff00"/>
<rect x="504" y="24" width="4" height="4" fill="#04ff00"/>
<rect x="508" y="24" width="4" height="4" fill="#00ff20"/>
<rect x="512" y="24" width="4" height="4" fill="#00ff4e"/>
<rect x="516" y="24" width="4" height="4" fill="#00ff86"/>
<rect x="520" y="24" width="4" height="4" fill="#00ffc8"/>
<rect x="524" y="24" width="4" height="4" fill="#00f7ff"/>
<rect x="528" y="24" width="4" height="4" fill="#00c5ff"/>
<rect x="532" y="24" width="4" height="4" fill="#00a0ff"/>
<rect x="536" y="24" width="4" height="4" fill="#0088ff"/>
<rect x="316" y="28" width="4" height="4" fill="#7500ff"/>
<rect x="320" y="28" width="4" height="4" fill="#6c00ff"/>
<rect x="324" y="28" width="4" height="4" fill="#6000ff"/>
<rect x="328" y="28" width="4" height="4" fill="#5200ff"/>
<rect x="332" y="28" width="4" height="4" fill="#4200ff"/>
<rect x="336" y="28" width="4" height="4" fill="#2f00ff"/>
<rect x="340" y="28" width="4" height="4" fill="#1a00ff"/>
<rect x="344" y="28" width="4" height="4" fill="#0200ff"/>
<rect x="348" y="28" width="4" height="4" fill="#0014ff"/>
<rect x="352" y="28" width="4" height="4" fill="#0024ff"/>
<rect x="356" y="28" width="4" height="4" fill="#0031ff"/>
<rect x="360" y="28" width="4" height="4" fill="#0049ff"/>
<rect x="364" y="28" width="4" height="4" fill="#0070ff"/>
<rect x="368" y="28" width="4" height="4" fill="#00a2ff"/>
<rect x="372" y="28" width="4" height="4" fill="#00cfff"/>
<rect x="376" y="28" width="4" height="4" fill="#00f5ff"/>
<rect x="380" y="28" width="4" height="4" fill="#00ffe5"/>
<rect x="384" y="28" width="4" height="4" fill="#00ffb9"/>
<rect x="388" y="28" width="4" height="4" fill="#00ff85"/>
<rect x="392" y="28" width="4" height="4" fill="#00ff57"/>
<rect x="396" y="28" width="4" height="4" fill="#00ff39"/>
<rect x="400" y="28" width="4" height="4" fill="#00ff29"/>
<rect x="404" y="28" width="4" height="4" fill="#00ff16"/>
<rect x="408" y="28" width="4" height="4" fill="#06ff00"/>
<rect x="412" y="28" width="4" height="4" fill="#28ff00"/>
<rect x="416" y="28" width="4" height="4" fill="#4eff00"/>
<rect x="420" y="28" width="4" height="4" fill="#76ff00"/>
<rect x="424" y="28" width="4" height="4" fill="#9cff00"/>
<rect x="428" y="28" width="4" height="4" fill="#baff00"/>
<rect x="432" y="28" width="4" height="4" fill="#cfff00"/>
<rect x="436" y="28" width="4" height="4" fill="#dfff00"/>
<rect x="440" y="28" width="4" height="4" fill="#ebff00"/>
<rect x="444" y="28" width="4" height="4" fill="#f7ff00"/>
<rect x="448" y="28" width="4" height="4" fill="#ffef00"/>
<rect x="452" y="28" width="4" height="4" fill="#ffc500"/>
<rect x="456" y="28" width="4" height="4" fill="#ff9500"/>
<rect x="460" y="28" width="4" height="4" fill="#ff8c00"/>
<rect x="464" y="28" width="4" height="4" fill="#ff9c00"/>
<rect x="468" y="28" width="4" height="4" fill="#ffc900"/>
<rect x="472" y="28" width="4" height="4" fill="#fff500"/>
<rect x="476" y="28" width="4" height="4" fill="#deff00"/>
<rect x="480" y="28" width="4" height="4" fill="#b3ff00"/>
<rect x="484" y="28" width="4" height="4" fill="#8aff00"/>
<rect x="488" y="28" width="4" height="4" fill="#62ff00"/>
<rect x="492" y="28" width="4" height="4" fill="#42ff00"/>
<rect x="496" y="28" width="4" height="4" fill="#2bff00"/>
<rect x="500" y="28" width="4" height="4" fill="#1aff00"/>
<rect x="504" y="28" width="4" height="4" fill="#03ff00"/>
<rect x="508" y="28" width="4" height="4" fill="#00ff1c"/>
<rect x="512" y="28" width="4" height="4" fill="#00ff48"/>
<rect x="516" y="28" width="4" height="4" fill="#00ff8b"/>
<rect x="520" y="28" width="4" height="4" fill="#00ffe5"/>
<rect x="524" y="28" width="4" height="4" fill="#00c7ff"/>
<rect x="528" y="28" width="4" height="4" fill="#0093ff"/>
<rect x="532" y="28" width="4" height="4" fill="#007bff"/>
<rect x="536" y="28" width="4" height="4" fill="#0080ff"/>
<rect x="316" y="32" width="4" height="4" fill="#5500ff"/>
<rect x="320" y="32" width="4" height="4" fill="#4c00ff"/>
<rect x="324" y="32" width="4" height="4" fill="#4200ff"/>
<rect x="328" y="32" width="4" height="4" fill="#3700ff"/>
<rect x="332" y="32" width="4" height="4" fill="#2a00ff"/>
<rect x="336" y="32" width="4" height="4" fill="#1b00ff"/>
<rect x="340" y="32" width="4" height="4" fill="#0800ff"/>
<rect x="344" y="32" width="4" height="4" fill="#0010ff"/>
<rect x="348" y="32" width="4" height="4" fill="#0027ff"/>
<rect x="352" y="32" width="4" height="4" fill="#003bff"/>
<rect x="356" y="32" width="4" height="4" fill="#004cff"/>
<rect x="360" y="32" width="4" height="4" fill="#0069ff"/>
<rect x="364" y="32" width="4" height="4" fill="#0096ff"/>
<rect x="368" y="32" width="4" height="4" fill="#00ceff"/>
<rect x="372" y="32" width="4" height="4" fill="#00feff"/>
<rect x="376" y="32" width="4" height="4" fill="#00ffda"/>
<rect x="380" y="32" width="4" height="4" fill="#00ffb8"/>
<rect x="384" y="32" width="4" height="4" fill="#00ff8f"/>
<rect x="388" y="32" width="4" height="4" fill="#00ff5f"/>
<rect x="392" y="32" width="4" height="4" fill="#00ff36"/>
<rect x="396" y="32" width="4" height="4" fill="#00ff1f"/>
<rect x="400" y="32" width="4" height="4" fill="#00ff17"/>
<rect x="404" y="32" width="4" height="4" fill="#00ff07"/>
<rect x="408" y="32" width="4" height="4" fill="#1aff00"/>
<rect x="412" y="32" width="4" height="4" fill="#47ff00"/>
<rect x="416" y="32" width="4" height="4" fill="#74ff00"/>
<rect x="420" y="32" width="4" height="4" fill="#a2ff00"/>
<rect x="424" y="32" width="4" height="4" fill="#cbff00"/>
<rect x="428" y="32" width="4" height="4" fill="#eaff00"/>
<rect x="432" y="32" width="4" height="4" fill="#ffff00"/>
<rect x="436" y="32" width="4" height="4" fill="#fff100"/>
<rect x="440" y="32" width="4" height="4" fill="#ffe700"/>
<rect x="444" y="32" width="4" height="4" fill="#ffe200"/>
<rect x="448" y="32" width="4" height="4" fill="#ffd100"/>
<rect x="452" y="32" width="4" height="4" fill="#ffb300"/>
<rect x="456" y="32" width="4" height="4" fill="#ff9000"/>
<rect x="460" y="32" width="4" height="4" fill="#ff8c00"/>
<rect x="464" y="32" width="4" height="4" fill="#ffa000"/>
<rect x="468" y="32" width="4" height="4" fill="#ffcb00"/>
<rect x="472" y="32" width="4" height="4" fill="#fff600"/>
<rect x="476" y="32" width="4" height="4" fill="#deff00"/>
<rect x="480" y="32" width="4" height="4" fill="#b4ff00"/>
<rect x="484" y="32" width="4" height="4" fill="#87ff00"/>
<rect x="488" y="32" width="4" height="4" fill="#5aff00"/>
<rect x="492" y="32" width="4" height="4" fill="#36ff00"/>
<rect x="496" y="32" width="4" height="4" fill="#1fff00"/>
<rect x="500" y="32" width="4" height="4" fill="#10ff00"/>
<rect x="504" y="32" width="4" height="4" fill="#00ff03"/>
<rect x="508" y="32" width="4" height="4" fill="#00ff1c"/>
<rect x="512" y="32" width="4" height="4" fill="#00ff45"/>
<rect x="516" y="32" width="4" height="4" fill="#00ff8e"/>
<rect x="520" y="32" width="4" height="4" fill="#00fff6"/>
<rect x="524" y="32" width="4" height="4" fill="#00abff"/>
<rect x="528" y="32" width="4" height="4" fill="#0076ff"/>
<rect x="532" y="32" width="4" height="4" fill="#0067ff"/>
<rect x="536" y="32" width="4" height="4" fill="#007fff"/>
<rect x="316" y="36" width="4" height="4" fill="#3500ff"/>
<rect x="320" y="36" width="4" height="4" fill="#2e00ff"/>
<rect x="324" y="36" width="4" height="4" fill="#2600ff"/>
<rect x="328" y="36" width="4" height="4" fill="#1d00ff"/>
<rect x="332" y="36" width="4" height="4" fill="#1200ff"/>
<rect x="336" y="36" width="4" height="4" fill="#0400ff"/>
<rect x="340" y="36" width="4" height="4" fill="#0010ff"/>
<rect x="344" y="36" width="4" height="4" fill="#0029ff"/>
<rect x="348" y="36" width="4" height="4" fill="#0043ff"/>
<rect x="352" y="36" width="4" height="4" fill="#005bff"/>
<rect x="356" y="36" width="4" height="4" fill="#0073ff"/>
<rect x="360" y="36" width="4" height="4" fill="#0095ff"/>
<rect x="364" y="36" width="4" height="4" fill="#00c5ff"/>
<rect x="368" y="36" width="4" height="4" fill="#00feff"/>
<rect x="372" y="36" width="4" height="4" fill="#00ffcf"/>
<rect x="376" y="36" width="4" height="4" fill="#00ffa9"/>
<rect x="380" y="36" width="4" height="4" fill="#00ff87"/>
<rect x="384" y="36" width="4" height="4" fill="#00ff60"/>
<rect x="388" y="36" width="4" height="4" fill="#00ff36"/>
<rect x="392" y="36" width="4" height="4" fill="#00ff12"/>
<rect x="396" y="36" width="4" height="4" fill="#02ff00"/>
<rect x="400" y="36" width="4" height="4" fill="#09ff00"/>
<rect x="404" y="36" width="4" height="4" fill="#1bff00"/>
<rect x="408" y="36" width="4" height="4" fill="#3eff00"/>
<rect x="412" y="36" width="4" height="4" fill="#6dff00"/>
<rect x="416" y="36" width="4" height="4" fill="#9cff00"/>
<rect x="420" y="36" width="4" height="4" fill="#c8ff00"/>
<rect x="424" y="36" width="4" height="4" fill="#efff00"/>
<rect x="428" y="36" width="4" height="4" fill="#fff300"/>
<rect x="432" y="36" width="4" height="4" fill="#ffe100"/>
<rect x="436" y="36" width="4" height="4" fill="#ffd600"/>
<rect x="440" y="36" width="4" height="4" fill="#ffce00"/>
<rect x="444" y="36" width="4" height="4" fill="#ffc900"/>
<rect x="448" y="36" width="4" height="4" fill="#ffc000"/>
<rect x="452" y="36" width="4" height="4" fill="#ffb300"/>
<rect x="456" y="36" width="4" height="4" fill="#ffa500"/>
<rect x="460" y="36" width="4" height="4" fill="#ffab00"/>
<rect x="464" y="36" width="4" height="4" fill="#ffc500"/>
<rect x="468" y="36" width="4" height="4" fill="#ffeb00"/>
<rect x="472" y="36" width="4" height="4" fill="#edff00"/>
<rect x="476" y="36" width="4" height="4" fill="#c7ff00"/>
<rect x="480" y="36" width="4" height="4" fill="#a0ff00"/>
<rect x="484" y="36" width="4" height="4" fill="#76ff00"/>
<rect x="488" y="36" width="4" height="4" fill="#4aff00"/>
<rect x="492" y="36" width="4" height="4" fill="#28ff00"/>
<rect x="496" y="36" width="4" height="4" fill="#11ff00"/>
<rect x="500" y="36" width="4" height="4" fill="#03ff00"/>
<rect x="504" y="36" width="4" height="4" fill="#00ff0f"/>
<rect x="508" y="36" width="4" height="4" fill="#00ff26"/>
<rect x="512" y="36" width="4" height="4" fill="#00ff4d"/>
<rect x="516" y="36" width="4" height="4" fill="#00ff91"/>
<rect x="520" y="36" width="4" height="4" fill="#00fff3"/>
<rect x="524" y="36" width="4" height="4" fill="#00b4ff"/>
<rect x="528" y="36" width="4" height="4" fill="#0081ff"/>
<rect x="532" y="36" width="4" height="4" fill="#0071ff"/>
<rect x="536" y="36" width="4" height="4" fill="#0085ff"/>
<rect x="316" y="40" width="4" height="4" fill="#1500ff"/>
<rect x="320" y="40" width="4" height="4" fill="#1100ff"/>
<rect x="324" y="40" width="4" height="4" fill="#0b00ff"/>
<rect x="328" y="40" width="4" height="4" fill="#0200ff"/>
<rect x="332" y="40" width="4" height="4" fill="#0009ff"/>
<rect x="336" y="40" width="4" height="4" fill="#0018ff"/>
<rect x="340" y="40" width="4" height="4" fill="#002dff"/>
<rect x="344" y="40" width="4" height="4" fill="#0048ff"/>
<rect x="348" y="40" width="4" height="4" fill="#0066ff"/>
<rect x="352" y="40" width="4" height="4" fill="#0085ff"/>
<rect x="356" y="40" width="4" height="4" fill="#00a6ff"/>
<rect x="360" y="40" width="4" height="4" fill="#00cdff"/>
<rect x="364" y="40" width="4" height="4" fill="#00fdff"/>
<rect x="368" y="40" width="4" height="4" fill="#00ffcc"/>
<rect x="372" y="40" width="4" height="4" fill="#00ff9d"/>
<rect x="376" y="40" width="4" height="4" fill="#00ff75"/>
<rect x="380" y="40" width="4" height="4" fill="#00ff51"/>
<rect x="384" y="40" width="4" height="4" fill="#00ff2e"/>
<rect x="388" y="40" width="4" height="4" fill="#00ff0b"/>
<rect x="392" y="40" width="4" height="4" fill="#12ff00"/>
<rect x="396" y="40" width="4" height="4" fill="#28ff00"/>
<rect x="400" y="40" width="4" height="4" fill="#36ff00"/>
<rect x="404" y="40" width="4" height="4" fill="#4cff00"/>
<rect x="408" y="40" width="4" height="4" fill="#6fff00"/>
<rect x="412" y="40" width="4" height="4" fill="#9aff00"/>
<rect x="416" y="40" width="4" height="4" fill="#c3ff00"/>
<rect x="420" y="40" width="4" height="4" fill="#e9ff00"/>
<rect x="424" y="40" width="4" height="4" fill="#fff500"/>
<rect x="428" y="40" width="4" height="4" fill="#ffdf00"/>
<rect x="432" y="40" width="4" height="4" fill="#ffd400"/>
<rect x="436" y="40" width="4" height="4" fill="#ffcc00"/>
<rect x="440" y="40" width="4" height="4" fill="#ffc400"/>
<rect x="444" y="40" width="4" height="4" fill="#ffbc00"/>
<rect x="448" y="40" width="4" height="4" fill="#ffbb00"/>
<rect x="452" y="40" width="4" height="4" fill="#ffc200"/>
<rect x="456" y="40" width="4" height="4" fill="#ffd200"/>
<rect x="460" y="40" width="4" height="4" fill="#ffe800"/>
<rect x="464" y="40" width="4" height="4" fill="#fbff00"/>
<rect x="468" y="40" width="4" height="4" fill="#dcff00"/>
<rect x="472" y="40" width="4" height="4" fill="#bdff00"/>
<rect x="476" y="40" width="4" height="4" fill="#9dff00"/>
<rect x="480" y="40" width="4" height="4" fill="#7dff00"/>
<rect x="484" y="40" width="4" height="4" fill="#5aff00"/>
<rect x="488" y="40" width="4" height="4" fill="#35ff00"/>
<rect x="492" y="40" width="4" height="4" fill="#17ff00"/>
<rect x="496" y="40" width="4" height="4" fill="#03ff00"/>
<rect x="500" y="40" width="4" height="4" fill="#00ff0c"/>
<rect x="504" y="40" width="4" height="4" fill="#00ff20"/>
<rect x="508" y="40" width="4" height="4" fill="#00ff3a"/>
<rect x="512" y="40" width="4" height="4" fill="#00ff5e"/>
<rect x="516" y="40" width="4" height="4" fill="#00ff94"/>
<rect x="520" y="40" width="4" height="4" fill="#00ffdd"/>
<rect x="524" y="40" width="4" height="4" fill="#00deff"/>
<rect x="528" y="40" width="4" height="4" fill="#00b0ff"/>
<rect x="532" y="40" width="4" height="4" fill="#0097ff"/>
<rect x="536" y="40" width="4" height="4" fill="#0092ff"/>
<rect x="316" y="44" width="4" height="4" fill="#001aff"/>
<rect x="320" y="44" width="4" height="4" fill="#001bff"/>
<rect x="324" y="44" width="4" height="4" fill="#0021ff"/>
<rect x="328" y="44" width="4" height="4" fill="#0029ff"/>
<rect x="332" y="44" width="4" height="4" fill="#0034ff"/>
<rect x="336" y="44" width="4" height="4" fill="#0043ff"/>
<rect x="340" y="44" width="4" height="4" fill="#0058ff"/>
<rect x="344" y="44" width="4" height="4" fill="#0072ff"/>
<rect x="348" y="44" width="4" height="4" fill="#0091ff"/>
<rect x="352" y="44" width="4" height="4" fill="#00b2ff"/>
<rect x="356" y="44" width="4" height="4" fill="#00d6ff"/>
<rect x="360" y="44" width="4" height="4" fill="#00ffff"/>
<rect x="364" y="44" width="4" height="4" fill="#00ffd2"/>
<rect x="368" y="44" width="4" height="4" fill="#00ffa1"/>
<rect x="372" y="44" width="4" height="4" fill="#00ff75"/>
<rect x="376" y="44" width="4" height="4" fill="#00ff4d"/>
<rect x="380" y="44" width="4" height="4" fill="#00ff2a"/>
<rect x="384" y="44" width="4" height="4" fill="#00ff0a"/>
<rect x="388" y="44" width="4" height="4" fill="#13ff00"/>
<rect x="392" y="44" width="4" height="4" fill="#2dff00"/>
<rect x="396" y="44" width="4" height="4" fill="#44ff00"/>
<rect x="400" y="44" width="4" height="4" fill="#58ff00"/>
<rect x="404" y="44" width="4" height="4" fill="#73ff00"/>
<rect x="408" y="44" width="4" height="4" fill="#95ff00"/>
<rect x="412" y="44" width="4" height="4" fill="#bdff00"/>
<rect x="416" y="44" width="4" height="4" fill="#e1ff00"/>
<rect x="420" y="44" width="4" height="4" fill="#fffd00"/>
<rect x="424" y="44" width="4" height="4" fill="#ffe300"/>
<rect x="428" y="44" width="4" height="4" fill="#ffd100"/>
<rect x="432" y="44" width="4" height="4" fill="#ffc800"/>
<rect x="436" y="44" width="4" height="4" fill="#ffc100"/>
<rect x="440" y="44" width="4" height="4" fill="#ffb800"/>
<rect x="444" y="44" width="4" height="4" fill="#ffaf00"/>
<rect x="448" y="44" width="4" height="4" fill="#ffb300"/>
<rect x="452" y="44" width="4" height="4" fill="#ffc600"/>
<rect x="456" y="44" width="4" height="4" fill="#ffe700"/>
<rect x="460" y="44" width="4" height="4" fill="#f7ff00"/>
<rect x="464" y="44" width="4" height="4" fill="#dbff00"/>
<rect x="468" y="44" width="4" height="4" fill="#c0ff00"/>
<rect x="472" y="44" width="4" height="4" fill="#a5ff00"/>
<rect x="476" y="44" width="4" height="4" fill="#8bff00"/>
<rect x="480" y="44" width="4" height="4" fill="#6eff00"/>
<rect x="484" y="44" width="4" height="4" fill="#4dff00"/>
<rect x="488" y="44" width="4" height="4" fill="#2aff00"/>
<rect x="492" y="44" width="4" height="4" fill="#0dff00"/>
<rect x="496" y="44" width="4" height="4" fill="#00ff08"/>
<rect x="500" y="44" width="4" height="4" fill="#00ff17"/>
<rect x="504" y="44" width="4" height="4" fill="#00ff2c"/>
<rect x="508" y="44" width="4" height="4" fill="#00ff47"/>
<rect x="512" y="44" width="4" height="4" fill="#00ff6a"/>
<rect x="516" y="44" width="4" height="4" fill="#00ff97"/>
<rect x="520" y="44" width="4" height="4" fill="#00ffcd"/>
<rect x="524" y="44" width="4" height="4" fill="#00feff"/>
<rect x="528" y="44" width="4" height="4" fill="#00d3ff"/>
<rect x="532" y="44" width="4" height="4" fill="#00b2ff"/>
<rect x="536" y="44" width="4" height="4" fill="#0099ff"/>
<rect x="316" y="48" width="4" height="4" fill="#0059ff"/>
<rect x="320" y="48" width="4" height="4" fill="#005bff"/>
<rect x="324" y="48" width="4" height="4" fill="#005fff"/>
<rect x="328" y="48" width="4" height="4" fill="#0067ff"/>
<rect x="332" y="48" width="4" height="4" fill="#0071ff"/>
<rect x="336" y="48" width="4" height="4" fill="#007fff"/>
<rect x="340" y="48" width="4" height="4" fill="#0091ff"/>
<rect x="344" y="48" width="4" height="4" fill="#00a8ff"/>
<rect x="348" y="48" width="4" height="4" fill="#00c2ff"/>
<rect x="352" y="48" width="4" height="4" fill="#00e0ff"/>
<rect x="356" y="48" width="4" height="4" fill="#00fffc"/>
<rect x="360" y="48" width="4" height="4" fill="#00ffd7"/>
<rect x="364" y="48" width="4" height="4" fill="#00ffad"/>
<rect x="368" y="48" width="4" height="4" fill="#00ff81"/>
<rect x="372" y="48" width="4" height="4" fill="#00ff59"/>
<rect x="376" y="48" width="4" height="4" fill="#00ff35"/>
<rect x="380" y="48" width="4" height="4" fill="#00ff16"/>
<rect x="384" y="48" width="4" height="4" fill="#07ff00"/>
<rect x="388" y="48" width="4" height="4" fill="#22ff00"/>
<rect x="392" y="48" width="4" height="4" fill="#3bff00"/>
<rect x="396" y="48" width="4" height="4" fill="#53ff00"/>
<rect x="400" y="48" width="4" height="4" fill="#6aff00"/>
<rect x="404" y="48" width="4" height="4" fill="#87ff00"/>
<rect x="408" y="48" width="4" height="4" fill="#aaff00"/>
<rect x="412" y="48" width="4" height="4" fill="#d2ff00"/>
<rect x="416" y="48" width="4" height="4" fill="#f4ff00"/>
<rect x="420" y="48" width="4" height="4" fill="#ffee00"/>
<rect x="424" y="48" width="4" height="4" fill="#ffd800"/>
<rect x="428" y="48" width="4" height="4" fill="#ffc600"/>
<rect x="432" y="48" width="4" height="4" fill="#ffbb00"/>
<rect x="436" y="48" width="4" height="4" fill="#ffb100"/>
<rect x="440" y="48" width="4" height="4" fill="#ffa700"/>
<rect x="444" y="48" width="4" height="4" fill="#ffa000"/>
<rect x="448" y="48" width="4" height="4" fill="#ffa400"/>
<rect x="452" y="48" width="4" height="4" fill="#ffb800"/>
<rect x="456" y="48" width="4" height="4" fill="#ffd800"/>
<rect x="460" y="48" width="4" height="4" fill="#fff700"/>
<rect x="464" y="48" width="4" height="4" fill="#e9ff00"/>
<rect x="468" y="48" width="4" height="4" fill="#cdff00"/>
<rect x="472" y="48" width="4" height="4" fill="#b3ff00"/>
<rect x="476" y="48" width="4" height="4" fill="#9aff00"/>
<rect x="480" y="48" width="4" height="4" fill="#7dff00"/>
<rect x="484" y="48" width="4" height="4" fill="#58ff00"/>
<rect x="488" y="48" width="4" height="4" fill="#2dff00"/>
<rect x="492" y="48" width="4" height="4" fill="#0aff00"/>
<rect x="496" y="48" width="4" height="4" fill="#00ff0d"/>
<rect x="500" y="48" width="4" height="4" fill="#00ff1b"/>
<rect x="504" y="48" width="4" height="4" fill="#00ff30"/>
<rect x="508" y="48" width="4" height="4" fill="#00ff4c"/>
<rect x="512" y="48" width="4" height="4" fill="#00ff6f"/>
<rect x="516" y="48" width="4" height="4" fill="#00ff98"/>
<rect x="520" y="48" width="4" height="4" fill="#00ffc7"/>
<rect x="524" y="48" width="4" height="4" fill="#00fff6"/>
<rect x="528" y="48" width="4" height="4" fill="#00ddff"/>
<rect x="532" y="48" width="4" height="4" fill="#00b7ff"/>
<rect x="536" y="48" width="4" height="4" fill="#0096ff"/>
<rect x="316" y="52" width="4" height="4" fill="#00a5ff"/>
<rect x="320" y="52" width="4" height="4" fill="#00a8ff"/>
<rect x="324" y="52" width="4" height="4" fill="#00acff"/>
<rect x="328" y="52" width="4" height="4" fill="#00b3ff"/>
<rect x="332" y="52" width="4" height="4" fill="#00bcff"/>
<rect x="336" y="52" width="4" height="4" fill="#00c7ff"/>
<rect x="340" y="52" width="4" height="4" fill="#00d5ff"/>
<rect x="344" y="52" width="4" height="4" fill="#00e5ff"/>
<rect x="348" y="52" width="4" height="4" fill="#00f9ff"/>
<rect x="352" y="52" width="4" height="4" fill="#00ffee"/>
<rect x="356" y="52" width="4" height="4" fill="#00ffd4"/>
<rect x="360" y="52" width="4" height="4" fill="#00ffb5"/>
<rect x="364" y="52" width="4" height="4" fill="#00ff91"/>
<rect x="368" y="52" width="4" height="4" fill="#00ff69"/>
<rect x="372" y="52" width="4" height="4" fill="#00ff46"/>
<rect x="376" y="52" width="4" height="4" fill="#00ff2a"/>
<rect x="380" y="52" width="4" height="4" fill="#00ff10"/>
<rect x="384" y="52" width="4" height="4" fill="#0aff00"/>
<rect x="388" y="52" width="4" height="4" fill="#25ff00"/>
<rect x="392" y="52" width="4" height="4" fill="#3fff00"/>
<rect x="396" y="52" width="4" height="4" fill="#58ff00"/>
<rect x="400" y="52" width="4" height="4" fill="#70ff00"/>
<rect x="404" y="52" width="4" height="4" fill="#8eff00"/>
<rect x="408" y="52" width="4" height="4" fill="#b2ff00"/>
<rect x="412" y="52" width="4" height="4" fill="#dbff00"/>
<rect x="416" y="52" width="4" height="4" fill="#feff00"/>
<rect x="420" y="52" width="4" height="4" fill="#ffe600"/>
<rect x="424" y="52" width="4" height="4" fill="#ffd100"/>
<rect x="428" y="52" width="4" height="4" fill="#ffbe00"/>
<rect x="432" y="52" width="4" height="4" fill="#ffab00"/>
<rect x="436" y="52" width="4" height="4" fill="#ff9c00"/>
<rect x="440" y="52" width="4" height="4" fill="#ff9300"/>
<rect x="444" y="52" width="4" height="4" fill="#ff8f00"/>
<rect x="448" y="52" width="4" height="4" fill="#ff9300"/>
<rect x="452" y="52" width="4" height="4" fill="#ff9e00"/>
<rect x="456" y="52" width="4" height="4" fill="#ffb000"/>
<rect x="460" y="52" width="4" height="4" fill="#ffc900"/>
<rect x="464" y="52" width="4" height="4" fill="#ffe700"/>
<rect x="468" y="52" width="4" height="4" fill="#f6ff00"/>
<rect x="472" y="52" width="4" height="4" fill="#d9ff00"/>
<rect x="476" y="52" width="4" height="4" fill="#beff00"/>
<rect x="480" y="52" width="4" height="4" fill="#9eff00"/>
<rect x="484" y="52" width="4" height="4" fill="#70ff00"/>
<rect x="488" y="52" width="4" height="4" fill="#38ff00"/>
<rect x="492" y="52" width="4" height="4" fill="#0dff00"/>
<rect x="496" y="52" width="4" height="4" fill="#00ff0d"/>
<rect x="500" y="52" width="4" height="4" fill="#00ff1a"/>
<rect x="504" y="52" width="4" height="4" fill="#00ff2d"/>
<rect x="508" y="52" width="4" height="4" fill="#00ff49"/>
<rect x="512" y="52" width="4" height="4" fill="#00ff6d"/>
<rect x="516" y="52" width="4" height="4" fill="#00ff98"/>
<rect x="520" y="52" width="4" height="4" fill="#00ffca"/>
<rect x="524" y="52" width="4" height="4" fill="#00fffc"/>
<rect x="528" y="52" width="4" height="4" fill="#00d5ff"/>
<rect x="532" y="52" width="4" height="4" fill="#00adff"/>
<rect x="536" y="52" width="4" height="4" fill="#008aff"/>
<rect x="316" y="56" width="4" height="4" fill="#00e9ff"/>
<rect x="320" y="56" width="4" height="4" fill="#00ecff"/>
<rect x="324" y="56" width="4" height="4" fill="#00f1ff"/>
<rect x="328" y="56" width="4" height="4" fill="#00f7ff"/>
<rect x="332" y="56" width="4" height="4" fill="#00fffe"/>
<rect x="336" y="56" width="4" height="4" fill="#00fff5"/>
<rect x="340" y="56" width="4" height="4" fill="#00ffea"/>
<rect x="344" y="56" width="4" height="4" fill="#00ffde"/>
<rect x="348" y="56" width="4" height="4" fill="#00ffd0"/>
<rect x="352" y="56" width="4" height="4" fill="#00ffbe"/>
<rect x="356" y="56" width="4" height="4" fill="#00ffa9"/>
<rect x="360" y="56" width="4" height="4" fill="#00ff8f"/>
<rect x="364" y="56" width="4" height="4" fill="#00ff71"/>
<rect x="368" y="56" width="4" height="4" fill="#00ff50"/>
<rect x="372" y="56" width="4" height="4" fill="#00ff34"/>
<rect x="376" y="56" width="4" height="4" fill="#00ff1e"/>
<rect x="380" y="56" width="4" height="4" fill="#00ff0a"/>
<rect x="384" y="56" width="4" height="4" fill="#0eff00"/>
<rect x="388" y="56" width="4" height="4" fill="#2bff00"/>
<rect x="392" y="56" width="4" height="4" fill="#49ff00"/>
<rect x="396" y="56" width="4" height="4" fill="#64ff00"/>
<rect x="400" y="56" width="4" height="4" fill="#7fff00"/>
<rect x="404" y="56" width="4" height="4" fill="#9eff00"/>
<rect x="408" y="56" width="4" height="4" fill="#c2ff00"/>
<rect x="412" y="56" width="4" height="4" fill="#e9ff00"/>
<rect x="416" y="56" width="4" height="4" fill="#fff400"/>
<rect x="420" y="56" width="4" height="4" fill="#ffdb00"/>
<rect x="424" y="56" width="4" height="4" fill="#ffc600"/>
<rect x="428" y="56" width="4" height="4" fill="#ffb100"/>
<rect x="432" y="56" width="4" height="4" fill="#ff9b00"/>
<rect x="436" y="56" width="16" height="4" fill="#ff8c00"/>
<rect x="452" y="56" width="4" height="4" fill="#ff9400"/>
<rect x="456" y="56" width="4" height="4" fill="#ffa200"/>
<rect x="460" y="56" width="4" height="4" fill="#ffb800"/>
<rect x="464" y="56" width="4" height="4" fill="#ffd700"/>
<rect x="468" y="56" width="4" height="4" fill="#fffb00"/>
<rect x="472" y="56" width="4" height="4" fill="#e2ff00"/>
<rect x="476" y="56" width="4" height="4" fill="#c5ff00"/>
<rect x="480" y="56" width="4" height="4" fill="#a1ff00"/>
<rect x="484" y="56" width="4" height="4" fill="#72ff00"/>
<rect x="488" y="56" width="4" height="4" fill="#39ff00"/>
<rect x="492" y="56" width="4" height="4" fill="#0cff00"/>
<rect x="496" y="56" width="4" height="4" fill="#00ff0d"/>
<rect x="500" y="56" width="4" height="4" fill="#00ff19"/>
<rect x="504" y="56" width="4" height="4" fill="#00ff2b"/>
<rect x="508" y="56" width="4" height="4" fill="#00ff46"/>
<rect x="512" y="56" width="4" height="4" fill="#00ff6a"/>
<rect x="516" y="56" width="4" height="4" fill="#00ff96"/>
<rect x="520" y="56" width="4" height="4" fill="#00ffcb"/>
<rect x="524" y="56" width="4" height="4" fill="#00feff"/>
<rect x="528" y="56" width="4" height="4" fill="#00ceff"/>
<rect x="532" y="56" width="4" height="4" fill="#00a2ff"/>
<rect x="536" y="56" width="4" height="4" fill="#007cff"/>
<rect x="316" y="60" width="4" height="4" fill="#00ffdb"/>
<rect x="320" y="60" width="4" height="4" fill="#00ffd8"/>
<rect x="324" y="60" width="4" height="4" fill="#00ffd3"/>
<rect x="328" y="60" width="4" height="4" fill="#00ffcd"/>
<rect x="332" y="60" width="4" height="4" fill="#00ffc4"/>
<rect x="336" y="60" width="4" height="4" fill="#00ffbb"/>
<rect x="340" y="60" width="4" height="4" fill="#00ffb2"/>
<rect x="344" y="60" width="4" height="4" fill="#00ffa9"/>
<rect x="348" y="60" width="4" height="4" fill="#00ff9d"/>
<rect x="352" y="60" width="4" height="4" fill="#00ff8d"/>
<rect x="356" y="60" width="4" height="4" fill="#00ff78"/>
<rect x="360" y="60" width="4" height="4" fill="#00ff63"/>
<rect x="364" y="60" width="4" height="4" fill="#00ff4c"/>
<rect x="368" y="60" width="4" height="4" fill="#00ff35"/>
<rect x="372" y="60" width="4" height="4" fill="#00ff22"/>
<rect x="376" y="60" width="4" height="4" fill="#00ff13"/>
<rect x="380" y="60" width="4" height="4" fill="#00ff03"/>
<rect x="384" y="60" width="4" height="4" fill="#15ff00"/>
<rect x="388" y="60" width="4" height="4" fill="#36ff00"/>
<rect x="392" y="60" width="4" height="4" fill="#58ff00"/>
<rect x="396" y="60" width="4" height="4" fill="#79ff00"/>
<rect x="400" y="60" width="4" height="4" fill="#99ff00"/>
<rect x="404" y="60" width="4" height="4" fill="#baff00"/>
<rect x="408" y="60" width="4" height="4" fill="#dcff00"/>
<rect x="412" y="60" width="4" height="4" fill="#fdff00"/>
<rect x="416" y="60" width="4" height="4" fill="#ffe400"/>
<rect x="420" y="60" width="4" height="4" fill="#ffcb00"/>
<rect x="424" y="60" width="4" height="4" fill="#ffb500"/>
<rect x="428" y="60" width="4" height="4" fill="#ffa000"/>
<rect x="432" y="60" width="16" height="4" fill="#ff8c00"/>
<rect x="448" y="60" width="4" height="4" fill="#ff9000"/>
<rect x="452" y="60" width="4" height="4" fill="#ff9e00"/>
<rect x="456" y="60" width="4" height="4" fill="#ffb000"/>
<rect x="460" y="60" width="4" height="4" fill="#ffc900"/>
<rect x="464" y="60" width="4" height="4" fill="#ffea00"/>
<rect x="468" y="60" width="4" height="4" fill="#efff00"/>
<rect x="472" y="60" width="4" height="4" fill="#cbff00"/>
<rect x="476" y="60" width="4" height="4" fill="#a8ff00"/>
<rect x="480" y="60" width="4" height="4" fill="#84ff00"/>
<rect x="484" y="60" width="4" height="4" fill="#5aff00"/>
<rect x="488" y="60" width="4" height="4" fill="#2cff00"/>
<rect x="492" y="60" width="4" height="4" fill="#09ff00"/>
<rect x="496" y="60" width="4" height="4" fill="#00ff0d"/>
<rect x="500" y="60" width="4" height="4" fill="#00ff18"/>
<rect x="504" y="60" width="4" height="4" fill="#00ff2a"/>
<rect x="508" y="60" width="4" height="4" fill="#00ff44"/>
<rect x="512" y="60" width="4" height="4" fill="#00ff67"/>
<rect x="516" y="60" width="4" height="4" fill="#00ff93"/>
<rect x="520" y="60" width="4" height="4" fill="#00ffc8"/>
<rect x="524" y="60" width="4" height="4" fill="#00ffff"/>
<rect x="528" y="60" width="4" height="4" fill="#00cbff"/>
<rect x="532" y="60" width="4" height="4" fill="#009aff"/>
<rect x="536" y="60" width="4" height="4" fill="#006dff"/>
<rect x="316" y="64" width="4" height="4" fill="#00ffac"/>
<rect x="320" y="64" width="4" height="4" fill="#00ffa9"/>
<rect x="324" y="64" width="4" height="4" fill="#00ffa4"/>
<rect x="328" y="64" width="4" height="4" fill="#00ff9d"/>
<rect x="332" y="64" width="4" height="4" fill="#00ff94"/>
<rect x="336" y="64" width="4" height="4" fill="#00ff8b"/>
<rect x="340" y="64" width="4" height="4" fill="#00ff82"/>
<rect x="344" y="64" width="4" height="4" fill="#00ff7a"/>
<rect x="348" y="64" width="4" height="4" fill="#00ff6f"/>
<rect x="352" y="64" width="4" height="4" fill="#00ff5f"/>
<rect x="356" y="64" width="4" height="4" fill="#00ff4a"/>
<rect x="360" y="64" width="4" height="4" fill="#00ff37"/>
<rect x="364" y="64" width="4" height="4" fill="#00ff28"/>
<rect x="368" y="64" width="4" height="4" fill="#00ff1c"/>
<rect x="372" y="64" width="4" height="4" fill="#00ff11"/>
<rect x="376" y="64" width="4" height="4" fill="#00ff07"/>
<rect x="380" y="64" width="4" height="4" fill="#08ff00"/>
<rect x="384" y="64" width="4" height="4" fill="#20ff00"/>
<rect x="388" y="64" width="4" height="4" fill="#44ff00"/>
<rect x="392" y="64" width="4" height="4" fill="#6bff00"/>
<rect x="396" y="64" width="4" height="4" fill="#92ff00"/>
<rect x="400" y="64" width="4" height="4" fill="#b8ff00"/>
<rect x="404" y="64" width="4" height="4" fill="#d9ff00"/>
<rect x="408" y="64" width="4" height="4" fill="#f7ff00"/>
<rect x="412" y="64" width="4" height="4" fill="#ffee00"/>
<rect x="416" y="64" width="4" height="4" fill="#ffd600"/>
<rect x="420" y="64" width="4" height="4" fill="#ffbf00"/>
<rect x="424" y="64" width="4" height="4" fill="#ffaa00"/>
<rect x="428" y="64" width="4" height="4" fill="#ff9800"/>
<rect x="432" y="64" width="12" height="4" fill="#ff8c00"/>
<rect x="444" y="64" width="4" height="4" fill="#ff9500"/>
<rect x="448" y="64" width="4" height="4" fill="#ffa700"/>
<rect x="452" y="64" width="4" height="4" fill="#ffbc00"/>
<rect x="456" y="64" width="4" height="4" fill="#ffd400"/>
<rect x="460" y="64" width="4" height="4" fill="#fff100"/>
<rect x="464" y="64" width="4" height="4" fill="#ecff00"/>
<rect x="468" y="64" width="4" height="4" fill="#c9ff00"/>
<rect x="472" y="64" width="4" height="4" fill="#a3ff00"/>
<rect x="476" y="64" width="4" height="4" fill="#7cff00"/>
<rect x="480" y="64" width="4" height="4" fill="#58ff00"/>
<rect x="484" y="64" width="4" height="4" fill="#36ff00"/>
<rect x="488" y="64" width="4" height="4" fill="#19ff00"/>
<rect x="492" y="64" width="4" height="4" fill="#03ff00"/>
<rect x="496" y="64" width="4" height="4" fill="#00ff0d"/>
<rect x="500" y="64" width="4" height="4" fill="#00ff18"/>
<rect x="504" y="64" width="4" height="4" fill="#00ff2b"/>
<rect x="508" y="64" width="4" height="4" fill="#00ff45"/>
<rect x="512" y="64" width="4" height="4" fill="#00ff67"/>
<rect x="516" y="64" width="4" height="4" fill="#00ff93"/>
<rect x="520" y="64" width="4" height="4" fill="#00ffca"/>
<rect x="524" y="64" width="4" height="4" fill="#00fcff"/>
<rect x="528" y="64" width="4" height="4" fill="#00c4ff"/>
<rect x="532" y="64" width="4" height="4" fill="#008eff"/>
<rect x="536" y="64" width="4" height="4" fill="#005aff"/>
<rect x="316" y="68" width="4" height="4" fill="#00ff89"/>
<rect x="320" y="68" width="4" height="4" fill="#00ff86"/>
<rect x="324" y="68" width="4" height="4" fill="#00ff81"/>
<rect x="328" y="68" width="4" height="4" fill="#00ff7a"/>
<rect x="332" y="68" width="4" height="4" fill="#00ff71"/>
<rect x="336" y="68" width="4" height="4" fill="#00ff67"/>
<rect x="340" y="68" width="4" height="4" fill="#00ff5e"/>
<rect x="344" y="68" width="4" height="4" fill="#00ff57"/>
<rect x="348" y="68" width="4" height="4" fill="#00ff4d"/>
<rect x="352" y="68" width="4" height="4" fill="#00ff3d"/>
<rect x="356" y="68" width="4" height="4" fill="#00ff28"/>
<rect x="360" y="68" width="4" height="4" fill="#00ff18"/>
<rect x="364" y="68" width="4" height="4" fill="#00ff10"/>
<rect x="368" y="68" width="4" height="4" fill="#00ff0c"/>
<rect x="372" y="68" width="4" height="4" fill="#00ff05"/>
<rect x="376" y="68" width="4" height="4" fill="#05ff00"/>
<rect x="380" y="68" width="4" height="4" fill="#15ff00"/>
<rect x="384" y="68" width="4" height="4" fill="#30ff00"/>
<rect x="388" y="68" width="4" height="4" fill="#56ff00"/>
<rect x="392" y="68" width="4" height="4" fill="#80ff00"/>
<rect x="396" y="68" width="4" height="4" fill="#a8ff00"/>
<rect x="400" y="68" width="4" height="4" fill="#cfff00"/>
<rect x="404" y="68" width="4" height="4" fill="#efff00"/>
<rect x="408" y="68" width="4" height="4" fill="#fff700"/>
<rect x="412" y="68" width="4" height="4" fill="#ffe500"/>
<rect x="416" y="68" width="4" height="4" fill="#ffd400"/>
<rect x="420" y="68" width="4" height="4" fill="#ffc300"/>
<rect x="424" y="68" width="4" height="4" fill="#ffb600"/>
<rect x="428" y="68" width="4" height="4" fill="#ffb000"/>
<rect x="432" y="68" width="4" height="4" fill="#ffb100"/>
<rect x="436" y="68" width="4" height="4" fill="#ffb800"/>
<rect x="440" y="68" width="4" height="4" fill="#ffc200"/>
<rect x="444" y="68" width="4" height="4" fill="#ffd000"/>
<rect x="448" y="68" width="4" height="4" fill="#ffdf00"/>
<rect x="452" y="68" width="4" height="4" fill="#fff100"/>
<rect x="456" y="68" width="4" height="4" fill="#f9ff00"/>
<rect x="460" y="68" width="4" height="4" fill="#e2ff00"/>
<rect x="464" y="68" width="4" height="4" fill="#c7ff00"/>
<rect x="468" y="68" width="4" height="4" fill="#a8ff00"/>
<rect x="472" y="68" width="4" height="4" fill="#86ff00"/>
<rect x="476" y="68" width="4" height="4" fill="#5fff00"/>
<rect x="480" y="68" width="4" height="4" fill="#3cff00"/>
<rect x="484" y="68" width="4" height="4" fill="#21ff00"/>
<rect x="488" y="68" width="4" height="4" fill="#0dff00"/>
<rect x="492" y="68" width="4" height="4" fill="#00ff03"/>
<rect x="496" y="68" width="4" height="4" fill="#00ff0f"/>
<rect x="500" y="68" width="4" height="4" fill="#00ff1a"/>
<rect x="504" y="68" width="4" height="4" fill="#00ff2d"/>
<rect x="508" y="68" width="4" height="4" fill="#00ff49"/>
<rect x="512" y="68" width="4" height="4" fill="#00ff6f"/>
<rect x="516" y="68" width="4" height="4" fill="#00ff9e"/>
<rect x="520" y="68" width="4" height="4" fill="#00ffd9"/>
<rect x="524" y="68" width="4" height="4" fill="#00e8ff"/>
<rect x="528" y="68" width="4" height="4" fill="#00adff"/>
<rect x="532" y="68" width="4" height="4" fill="#0074ff"/>
<rect x="536" y="68" width="4" height="4" fill="#003dff"/>
<rect x="316" y="72" width="4" height="4" fill="#00ff71"/>
<rect x="320" y="72" width="4" height="4" fill="#00ff6f"/>
<rect x="324" y="72" width="4" height="4" fill="#00ff6a"/>
<rect x="328" y="72" width="4" height="4" fill="#00ff63"/>
<rect x="332" y="72" width="4" height="4" fill="#00ff5a"/>
<rect x="336" y="72" width="4" height="4" fill="#00ff4f"/>
<rect x="340" y="72" width="4" height="4" fill="#00ff47"/>
<rect x="344" y="72" width="4" height="4" fill="#00ff40"/>
<rect x="348" y="72" width="4" height="4" fill="#00ff36"/>
<rect x="352" y="72" width="4" height="4" fill="#00ff26"/>
<rect x="356" y="72" width="4" height="4" fill="#00ff13"/>
<rect x="360" y="72" width="4" height="4" fill="#00ff06"/>
<rect x="364" y="72" width="4" height="4" fill="#00ff02"/>
<rect x="368" y="72" width="4" height="4" fill="#00ff04"/>
<rect x="372" y="72" width="4" height="4" fill="#02ff00"/>
<rect x="376" y="72" width="4" height="4" fill="#10ff00"/>
<rect x="380" y="72" width="4" height="4" fill="#26ff00"/>
<rect x="384" y="72" width="4" height="4" fill="#45ff00"/>
<rect x="388" y="72" width="4" height="4" fill="#6cff00"/>
<rect x="392" y="72" width="4" height="4" fill="#94ff00"/>
<rect x="396" y="72" width="4" height="4" fill="#bbff00"/>
<rect x="400" y="72" width="4" height="4" fill="#e0ff00"/>
<rect x="404" y="72" width="4" height="4" fill="#fcff00"/>
<rect x="408" y="72" width="4" height="4" fill="#fff000"/>
<rect x="412" y="72" width="4" height="4" fill="#ffe600"/>
<rect x="416" y="72" width="4" height="4" fill="#ffde00"/>
<rect x="420" y="72" width="4" height="4" fill="#ffd800"/>
<rect x="424" y="72" width="4" height="4" fill="#ffd900"/>
<rect x="428" y="72" width="4" height="4" fill="#ffe600"/>
<rect x="432" y="72" width="4" height="4" fill="#feff00"/>
<rect x="436" y="72" width="4" height="4" fill="#e5ff00"/>
<rect x="440" y="72" width="4" height="4" fill="#d4ff00"/>
<rect x="444" y="72" width="4" height="4" fill="#cbff00"/>
<rect x="448" y="72" width="4" height="4" fill="#c6ff00"/>
<rect x="452" y="72" width="4" height="4" fill="#c2ff00"/>
<rect x="456" y="72" width="4" height="4" fill="#bdff00"/>
<rect x="460" y="72" width="4" height="4" fill="#b3ff00"/>
<rect x="464" y="72" width="4" height="4" fill="#a4ff00"/>
<rect x="468" y="72" width="4" height="4" fill="#8eff00"/>
<rect x="472" y="72" width="4" height="4" fill="#73ff00"/>
<rect x="476" y="72" width="4" height="4" fill="#52ff00"/>
<rect x="480" y="72" width="4" height="4" fill="#32ff00"/>
<rect x="484" y="72" width="4" height="4" fill="#19ff00"/>
<rect x="488" y="72" width="4" height="4" fill="#07ff00"/>
<rect x="492" y="72" width="4" height="4" fill="#00ff08"/>
<rect x="496" y="72" width="4" height="4" fill="#00ff13"/>
<rect x="500" y="72" width="4" height="4" fill="#00ff1e"/>
<rect x="504" y="72" width="4" height="4" fill="#00ff33"/>
<rect x="508" y="72" width="4" height="4" fill="#00ff52"/>
<rect x="512" y="72" width="4" height="4" fill="#00ff7d"/>
<rect x="516" y="72" width="4" height="4" fill="#00ffb4"/>
<rect x="520" y="72" width="4" height="4" fill="#00fff6"/>
<rect x="524" y="72" width="4" height="4" fill="#00c5ff"/>
<rect x="528" y="72" width="4" height="4" fill="#0086ff"/>
<rect x="532" y="72" width="4" height="4" fill="#004cff"/>
<rect x="536" y="72" width="4" height="4" fill="#0016ff"/>
<rect x="316" y="76" width="4" height="3" fill="#00ff67"/>
<rect x="320" y="76" width="4" height="3" fill="#00ff64"/>
<rect x="324" y="76" width="4" height="3" fill="#00ff5f"/>
<rect x="328" y="76" width="4" height="3" fill="#00ff58"/>
<rect x="332" y="76" width="4" height="3" fill="#00ff4f"/>
<rect x="336" y="76" width="4" height="3" fill="#00ff45"/>
<rect x="340" y="76" width="4" height="3" fill="#00ff3c"/>
<rect x="344" y="76" width="4" height="3" fill="#00ff34"/>
<rect x="348" y="76" width="4" height="3" fill="#00ff2a"/>
<rect x="352" y="76" width="4" height="3" fill="#00ff1c"/>
<rect x="356" y="76" width="4" height="3" fill="#00ff0a"/>
<rect x="360" y="76" width="4" height="3" fill="#00ff00"/>
<rect x="364" y="76" width="4" height="3" fill="#01ff00"/>
<rect x="368" y="76" width="4" height="3" fill="#00ff04"/>
<rect x="372" y="76" width="4" height="3" fill="#03ff00"/>
<rect x="376" y="76" width="4" height="3" fill="#19ff00"/>
<rect x="380" y="76" width="4" height="3" fill="#38ff00"/>
<rect x="384" y="76" width="4" height="3" fill="#5bff00"/>
<rect x="388" y="76" width="4" height="3" fill="#81ff00"/>
<rect x="392" y="76" width="4" height="3" fill="#a7ff00"/>
<rect x="396" y="76" width="4" height="3" fill="#caff00"/>
<rect x="400" y="76" width="4" height="3" fill="#e9ff00"/>
<rect x="404" y="76" width="4" height="3" fill="#ffff00"/>
<rect x="408" y="76" width="4" height="3" fill="#fff200"/>
<rect x="412" y="76" width="4" height="3" fill="#ffee00"/>
<rect x="416" y="76" width="4" height="3" fill="#fff000"/>
<rect x="420" y="76" width="4" height="3" fill="#fff800"/>
<rect x="424" y="76" width="4" height="3" fill="#f3ff00"/>
<rect x="428" y="76" width="4" height="3" fill="#cfff00"/>
<rect x="432" y="76" width="4" height="3" fill="#98ff00"/>
<rect x="436" y="76" width="4" height="3" fill="#69ff00"/>
<rect x="440" y="76" width="4" height="3" fill="#53ff00"/>
<rect x="444" y="76" width="4" height="3" fill="#54ff00"/>
<rect x="448" y="76" width="4" height="3" fill="#5dff00"/>
<rect x="452" y="76" width="4" height="3" fill="#6dff00"/>
<rect x="456" y="76" width="4" height="3" fill="#7fff00"/>
<rect x="460" y="76" width="4" height="3" fill="#88ff00"/>
<rect x="464" y="76" width="4" height="3" fill="#86ff00"/>
<rect x="468" y="76" width="4" height="3" fill="#7cff00"/>
<rect x="472" y="76" width="4" height="3" fill="#6aff00"/>
<rect x="476" y="76" width="4" height="3" fill="#52ff00"/>
<rect x="480" y="76" width="4" height="3" fill="#38ff00"/>
<rect x="484" y="76" width="4" height="3" fill="#1eff00"/>
<rect x="488" y="76" width="4" height="3" fill="#06ff00"/>
<rect x="492" y="76" width="4" height="3" fill="#00ff0c"/>
<rect x="496" y="76" width="4" height="3" fill="#00ff18"/>
<rect x="500" y="76" width="4" height="3" fill="#00ff22"/>
<rect x="504" y="76" width="4" height="3" fill="#00ff39"/>
<rect x="508" y="76" width="4" height="3" fill="#00ff5e"/>
<rect x="512" y="76" width="4" height="3" fill="#00ff91"/>
<rect x="516" y="76" width="4" height="3" fill="#00ffd0"/>
<rect x="520" y="76" width="4" height="3" fill="#00e3ff"/>
<rect x="524" y="76" width="4" height="3" fill="#0098ff"/>
<rect x="528" y="76" width="4" height="3" fill="#0056ff"/>
<rect x="532" y="76" width="4" height="3" fill="#001dff"/>
<rect x="536" y="76" width="4" height="3" fill="#1300ff"/></g>
<g filter="url(#bl)"><rect x="74" y="161" width="4" height="4" fill="#ff1200"/>
<rect x="78" y="161" width="4" height="4" fill="#ff3100"/>
<rect x="82" y="161" width="4" height="4" fill="#ff4c00"/>
<rect x="86" y="161" width="4" height="4" fill="#ff6200"/>
<rect x="90" y="161" width="4" height="4" fill="#ff7200"/>
<rect x="94" y="161" width="4" height="4" fill="#ff7e00"/>
<rect x="98" y="161" width="4" height="4" fill="#ff8900"/>
<rect x="102" y="161" width="4" height="4" fill="#ff9200"/>
<rect x="106" y="161" width="4" height="4" fill="#ff9b00"/>
<rect x="110" y="161" width="4" height="4" fill="#ffa500"/>
<rect x="114" y="161" width="4" height="4" fill="#ffaf00"/>
<rect x="118" y="161" width="4" height="4" fill="#ffb800"/>
<rect x="122" y="161" width="4" height="4" fill="#ffbe00"/>
<rect x="126" y="161" width="4" height="4" fill="#ffc200"/>
<rect x="130" y="161" width="4" height="4" fill="#ffc700"/>
<rect x="134" y="161" width="4" height="4" fill="#ffcd00"/>
<rect x="138" y="161" width="4" height="4" fill="#ffd300"/>
<rect x="142" y="161" width="4" height="4" fill="#ffda00"/>
<rect x="146" y="161" width="4" height="4" fill="#ffe100"/>
<rect x="150" y="161" width="4" height="4" fill="#ffe800"/>
<rect x="154" y="161" width="4" height="4" fill="#ffed00"/>
<rect x="158" y="161" width="4" height="4" fill="#fff200"/>
<rect x="162" y="161" width="4" height="4" fill="#fff500"/>
<rect x="166" y="161" width="4" height="4" fill="#fff800"/>
<rect x="170" y="161" width="4" height="4" fill="#fffb00"/>
<rect x="174" y="161" width="4" height="4" fill="#ffff00"/>
<rect x="178" y="161" width="4" height="4" fill="#faff05"/>
<rect x="182" y="161" width="4" height="4" fill="#f6ff09"/>
<rect x="186" y="161" width="4" height="4" fill="#f5ff0a"/>
<rect x="190" y="161" width="4" height="4" fill="#f7ff08"/>
<rect x="194" y="161" width="4" height="4" fill="#fbff04"/>
<rect x="198" y="161" width="4" height="4" fill="#ffff00"/>
<rect x="202" y="161" width="4" height="4" fill="#fffc00"/>
<rect x="206" y="161" width="4" height="4" fill="#fff700"/>
<rect x="210" y="161" width="4" height="4" fill="#fff100"/>
<rect x="214" y="161" width="4" height="4" fill="#ffe900"/>
<rect x="218" y="161" width="4" height="4" fill="#ffe200"/>
<rect x="222" y="161" width="4" height="4" fill="#ffda00"/>
<rect x="226" y="161" width="4" height="4" fill="#ffd300"/>
<rect x="230" y="161" width="4" height="4" fill="#ffcc00"/>
<rect x="234" y="161" width="4" height="4" fill="#ffc600"/>
<rect x="238" y="161" width="4" height="4" fill="#ffbf00"/>
<rect x="242" y="161" width="4" height="4" fill="#ffb700"/>
<rect x="246" y="161" width="4" height="4" fill="#ffae00"/>
<rect x="250" y="161" width="4" height="4" fill="#ffa300"/>
<rect x="254" y="161" width="4" height="4" fill="#ff9700"/>
<rect x="258" y="161" width="4" height="4" fill="#ff8800"/>
<rect x="262" y="161" width="4" height="4" fill="#ff7900"/>
<rect x="266" y="161" width="4" height="4" fill="#ff6700"/>
<rect x="270" y="161" width="4" height="4" fill="#ff5500"/>
<rect x="274" y="161" width="4" height="4" fill="#ff4200"/>
<rect x="278" y="161" width="4" height="4" fill="#ff2e00"/>
<rect x="282" y="161" width="4" height="4" fill="#ff1d00"/>
<rect x="286" y="161" width="4" height="4" fill="#ff0f00"/>
<rect x="290" y="161" width="4" height="4" fill="#ff0500"/>
<rect x="294" y="161" width="4" height="4" fill="#ff0000"/>
<rect x="74" y="165" width="4" height="4" fill="#ff2700"/>
<rect x="78" y="165" width="4" height="4" fill="#ff4400"/>
<rect x="82" y="165" width="4" height="4" fill="#ff5d00"/>
<rect x="86" y="165" width="4" height="4" fill="#ff7200"/>
<rect x="90" y="165" width="4" height="4" fill="#ff8300"/>
<rect x="94" y="165" width="4" height="4" fill="#ff9000"/>
<rect x="98" y="165" width="4" height="4" fill="#ff9b00"/>
<rect x="102" y="165" width="4" height="4" fill="#ffa400"/>
<rect x="106" y="165" width="4" height="4" fill="#ffad00"/>
<rect x="110" y="165" width="4" height="4" fill="#ffb800"/>
<rect x="114" y="165" width="4" height="4" fill="#ffc500"/>
<rect x="118" y="165" width="4" height="4" fill="#ffcf00"/>
<rect x="122" y="165" width="4" height="4" fill="#ffd500"/>
<rect x="126" y="165" width="4" height="4" fill="#ffd900"/>
<rect x="130" y="165" width="4" height="4" fill="#ffdc00"/>
<rect x="134" y="165" width="4" height="4" fill="#ffdf00"/>
<rect x="138" y="165" width="4" height="4" fill="#ffe300"/>
<rect x="142" y="165" width="4" height="4" fill="#ffe800"/>
<rect x="146" y="165" width="4" height="4" fill="#ffee00"/>
<rect x="150" y="165" width="4" height="4" fill="#fff400"/>
<rect x="154" y="165" width="4" height="4" fill="#fff700"/>
<rect x="158" y="165" width="4" height="4" fill="#fff900"/>
<rect x="162" y="165" width="4" height="4" fill="#fffc00"/>
<rect x="166" y="165" width="4" height="4" fill="#fdff02"/>
<rect x="170" y="165" width="4" height="4" fill="#f7ff08"/>
<rect x="174" y="165" width="4" height="4" fill="#f2ff0d"/>
<rect x="178" y="165" width="4" height="4" fill="#efff10"/>
<rect x="182" y="165" width="4" height="4" fill="#edff12"/>
<rect x="186" y="165" width="4" height="4" fill="#eeff11"/>
<rect x="190" y="165" width="4" height="4" fill="#f1ff0e"/>
<rect x="194" y="165" width="4" height="4" fill="#f6ff09"/>
<rect x="198" y="165" width="4" height="4" fill="#fdff02"/>
<rect x="202" y="165" width="4" height="4" fill="#fff800"/>
<rect x="206" y="165" width="4" height="4" fill="#ffef00"/>
<rect x="210" y="165" width="4" height="4" fill="#ffe700"/>
<rect x="214" y="165" width="4" height="4" fill="#ffe000"/>
<rect x="218" y="165" width="4" height="4" fill="#ffd800"/>
<rect x="222" y="165" width="4" height="4" fill="#ffd000"/>
<rect x="226" y="165" width="4" height="4" fill="#ffc800"/>
<rect x="230" y="165" width="4" height="4" fill="#ffc200"/>
<rect x="234" y="165" width="4" height="4" fill="#ffbd00"/>
<rect x="238" y="165" width="4" height="4" fill="#ffb800"/>
<rect x="242" y="165" width="4" height="4" fill="#ffb200"/>
<rect x="246" y="165" width="4" height="4" fill="#ffa900"/>
<rect x="250" y="165" width="4" height="4" fill="#ff9e00"/>
<rect x="254" y="165" width="4" height="4" fill="#ff9200"/>
<rect x="258" y="165" width="4" height="4" fill="#ff8400"/>
<rect x="262" y="165" width="4" height="4" fill="#ff7600"/>
<rect x="266" y="165" width="4" height="4" fill="#ff6800"/>
<rect x="270" y="165" width="4" height="4" fill="#ff5a00"/>
<rect x="274" y="165" width="4" height="4" fill="#ff4900"/>
<rect x="278" y="165" width="4" height="4" fill="#ff3700"/>
<rect x="282" y="165" width="4" height="4" fill="#ff2600"/>
<rect x="286" y="165" width="4" height="4" fill="#ff1800"/>
<rect x="290" y="165" width="4" height="4" fill="#ff0e00"/>
<rect x="294" y="165" width="4" height="4" fill="#ff0700"/>
<rect x="74" y="169" width="4" height="4" fill="#ff3f00"/>
<rect x="78" y="169" width="4" height="4" fill="#ff5a00"/>
<rect x="82" y="169" width="4" height="4" fill="#ff7200"/>
<rect x="86" y="169" width="4" height="4" fill="#ff8600"/>
<rect x="90" y="169" width="4" height="4" fill="#ff9600"/>
<rect x="94" y="169" width="4" height="4" fill="#ffa300"/>
<rect x="98" y="169" width="4" height="4" fill="#ffae00"/>
<rect x="102" y="169" width="4" height="4" fill="#ffb700"/>
<rect x="106" y="169" width="4" height="4" fill="#ffc000"/>
<rect x="110" y="169" width="4" height="4" fill="#ffcb00"/>
<rect x="114" y="169" width="4" height="4" fill="#ffd800"/>
<rect x="118" y="169" width="4" height="4" fill="#ffe300"/>
<rect x="122" y="169" width="4" height="4" fill="#ffe900"/>
<rect x="126" y="169" width="4" height="4" fill="#ffeb00"/>
<rect x="130" y="169" width="4" height="4" fill="#ffec00"/>
<rect x="134" y="169" width="4" height="4" fill="#ffed00"/>
<rect x="138" y="169" width="4" height="4" fill="#ffee00"/>
<rect x="142" y="169" width="4" height="4" fill="#fff000"/>
<rect x="146" y="169" width="4" height="4" fill="#fff500"/>
<rect x="150" y="169" width="4" height="4" fill="#fff900"/>
<rect x="154" y="169" width="8" height="4" fill="#fffa00"/>
<rect x="162" y="169" width="4" height="4" fill="#fffc00"/>
<rect x="166" y="169" width="4" height="4" fill="#feff01"/>
<rect x="170" y="169" width="4" height="4" fill="#f7ff08"/>
<rect x="174" y="169" width="4" height="4" fill="#f3ff0c"/>
<rect x="178" y="169" width="8" height="4" fill="#f1ff0e"/>
<rect x="186" y="169" width="4" height="4" fill="#f3ff0c"/>
<rect x="190" y="169" width="4" height="4" fill="#f6ff09"/>
<rect x="194" y="169" width="4" height="4" fill="#fcff03"/>
<rect x="198" y="169" width="4" height="4" fill="#fff900"/>
<rect x="202" y="169" width="4" height="4" fill="#ffed00"/>
<rect x="206" y="169" width="4" height="4" fill="#ffe200"/>
<rect x="210" y="169" width="4" height="4" fill="#ffd900"/>
<rect x="214" y="169" width="4" height="4" fill="#ffd200"/>
<rect x="218" y="169" width="4" height="4" fill="#ffcb00"/>
<rect x="222" y="169" width="4" height="4" fill="#ffc300"/>
<rect x="226" y="169" width="4" height="4" fill="#ffbc00"/>
<rect x="230" y="169" width="4" height="4" fill="#ffb600"/>
<rect x="234" y="169" width="4" height="4" fill="#ffb300"/>
<rect x="238" y="169" width="4" height="4" fill="#ffb100"/>
<rect x="242" y="169" width="4" height="4" fill="#ffac00"/>
<rect x="246" y="169" width="4" height="4" fill="#ffa600"/>
<rect x="250" y="169" width="4" height="4" fill="#ff9e00"/>
<rect x="254" y="169" width="4" height="4" fill="#ff9300"/>
<rect x="258" y="169" width="4" height="4" fill="#ff8700"/>
<rect x="262" y="169" width="4" height="4" fill="#ff7d00"/>
<rect x="266" y="169" width="4" height="4" fill="#ff7300"/>
<rect x="270" y="169" width="4" height="4" fill="#ff6a00"/>
<rect x="274" y="169" width="4" height="4" fill="#ff5e00"/>
<rect x="278" y="169" width="4" height="4" fill="#ff4f00"/>
<rect x="282" y="169" width="4" height="4" fill="#ff4100"/>
<rect x="286" y="169" width="4" height="4" fill="#ff3600"/>
<rect x="290" y="169" width="4" height="4" fill="#ff2d00"/>
<rect x="294" y="169" width="4" height="4" fill="#ff2700"/>
<rect x="74" y="173" width="4" height="4" fill="#ff5a00"/>
<rect x="78" y="173" width="4" height="4" fill="#ff7300"/>
<rect x="82" y="173" width="4" height="4" fill="#ff8900"/>
<rect x="86" y="173" width="4" height="4" fill="#ff9c00"/>
<rect x="90" y="173" width="4" height="4" fill="#ffaa00"/>
<rect x="94" y="173" width="4" height="4" fill="#ffb600"/>
<rect x="98" y="173" width="4" height="4" fill="#ffc000"/>
<rect x="102" y="173" width="4" height="4" fill="#ffc900"/>
<rect x="106" y="173" width="4" height="4" fill="#ffd300"/>
<rect x="110" y="173" width="4" height="4" fill="#ffde00"/>
<rect x="114" y="173" width="4" height="4" fill="#ffeb00"/>
<rect x="118" y="173" width="4" height="4" fill="#fff400"/>
<rect x="122" y="173" width="8" height="4" fill="#fff800"/>
<rect x="130" y="173" width="4" height="4" fill="#fff700"/>
<rect x="134" y="173" width="4" height="4" fill="#fff500"/>
<rect x="138" y="173" width="8" height="4" fill="#fff400"/>
<rect x="146" y="173" width="12" height="4" fill="#fff600"/>
<rect x="158" y="173" width="8" height="4" fill="#fff400"/>
<rect x="166" y="173" width="4" height="4" fill="#fff600"/>
<rect x="170" y="173" width="4" height="4" fill="#fffb00"/>
<rect x="174" y="173" width="4" height="4" fill="#fffd00"/>
<rect x="178" y="173" width="4" height="4" fill="#fffe00"/>
<rect x="182" y="173" width="4" height="4" fill="#fffc00"/>
<rect x="186" y="173" width="4" height="4" fill="#fffa00"/>
<rect x="190" y="173" width="4" height="4" fill="#fff700"/>
<rect x="194" y="173" width="4" height="4" fill="#fff000"/>
<rect x="198" y="173" width="4" height="4" fill="#ffe600"/>
<rect x="202" y="173" width="4" height="4" fill="#ffd900"/>
<rect x="206" y="173" width="4" height="4" fill="#ffce00"/>
<rect x="210" y="173" width="4" height="4" fill="#ffc700"/>
<rect x="214" y="173" width="4" height="4" fill="#ffc100"/>
<rect x="218" y="173" width="4" height="4" fill="#ffbb00"/>
<rect x="222" y="173" width="4" height="4" fill="#ffb400"/>
<rect x="226" y="173" width="4" height="4" fill="#ffae00"/>
<rect x="230" y="173" width="4" height="4" fill="#ffaa00"/>
<rect x="234" y="173" width="4" height="4" fill="#ffa900"/>
<rect x="238" y="173" width="4" height="4" fill="#ffa800"/>
<rect x="242" y="173" width="4" height="4" fill="#ffa700"/>
<rect x="246" y="173" width="4" height="4" fill="#ffa500"/>
<rect x="250" y="173" width="4" height="4" fill="#ffa100"/>
<rect x="254" y="173" width="4" height="4" fill="#ff9b00"/>
<rect x="258" y="173" width="4" height="4" fill="#ff9300"/>
<rect x="262" y="173" width="4" height="4" fill="#ff8d00"/>
<rect x="266" y="173" width="4" height="4" fill="#ff8900"/>
<rect x="270" y="173" width="4" height="4" fill="#ff8600"/>
<rect x="274" y="173" width="4" height="4" fill="#ff8000"/>
<rect x="278" y="173" width="4" height="4" fill="#ff7700"/>
<rect x="282" y="173" width="4" height="4" fill="#ff6e00"/>
<rect x="286" y="173" width="4" height="4" fill="#ff6600"/>
<rect x="290" y="173" width="4" height="4" fill="#ff6100"/>
<rect x="294" y="173" width="4" height="4" fill="#ff5e00"/>
<rect x="74" y="177" width="4" height="4" fill="#ff7800"/>
<rect x="78" y="177" width="4" height="4" fill="#ff9000"/>
<rect x="82" y="177" width="4" height="4" fill="#ffa400"/>
<rect x="86" y="177" width="4" height="4" fill="#ffb400"/>
<rect x="90" y="177" width="4" height="4" fill="#ffc000"/>
<rect x="94" y="177" width="4" height="4" fill="#ffc900"/>
<rect x="98" y="177" width="4" height="4" fill="#ffd300"/>
<rect x="102" y="177" width="4" height="4" fill="#ffdc00"/>
<rect x="106" y="177" width="4" height="4" fill="#ffe600"/>
<rect x="110" y="177" width="4" height="4" fill="#fff100"/>
<rect x="114" y="177" width="4" height="4" fill="#fffd00"/>
<rect x="118" y="177" width="8" height="4" fill="#faff05"/>
<rect x="126" y="177" width="4" height="4" fill="#ffff00"/>
<rect x="130" y="177" width="4" height="4" fill="#fffb00"/>
<rect x="134" y="177" width="4" height="4" fill="#fff900"/>
<rect x="138" y="177" width="4" height="4" fill="#fff600"/>
<rect x="142" y="177" width="4" height="4" fill="#fff400"/>
<rect x="146" y="177" width="4" height="4" fill="#fff000"/>
<rect x="150" y="177" width="4" height="4" fill="#ffed00"/>
<rect x="154" y="177" width="4" height="4" fill="#ffea00"/>
<rect x="158" y="177" width="4" height="4" fill="#ffe700"/>
<rect x="162" y="177" width="4" height="4" fill="#ffe500"/>
<rect x="166" y="177" width="8" height="4" fill="#ffe300"/>
<rect x="174" y="177" width="4" height="4" fill="#ffe200"/>
<rect x="178" y="177" width="4" height="4" fill="#ffe100"/>
<rect x="182" y="177" width="4" height="4" fill="#ffdf00"/>
<rect x="186" y="177" width="4" height="4" fill="#ffdd00"/>
<rect x="190" y="177" width="4" height="4" fill="#ffd900"/>
<rect x="194" y="177" width="4" height="4" fill="#ffd300"/>
<rect x="198" y="177" width="4" height="4" fill="#ffca00"/>
<rect x="202" y="177" width="4" height="4" fill="#ffbf00"/>
<rect x="206" y="177" width="4" height="4" fill="#ffb600"/>
<rect x="210" y="177" width="4" height="4" fill="#ffb000"/>
<rect x="214" y="177" width="4" height="4" fill="#ffad00"/>
<rect x="218" y="177" width="4" height="4" fill="#ffa900"/>
<rect x="222" y="177" width="4" height="4" fill="#ffa400"/>
<rect x="226" y="177" width="4" height="4" fill="#ff9f00"/>
<rect x="230" y="177" width="8" height="4" fill="#ff9d00"/>
<rect x="238" y="177" width="4" height="4" fill="#ff9f00"/>
<rect x="242" y="177" width="4" height="4" fill="#ffa200"/>
<rect x="246" y="177" width="4" height="4" fill="#ffa700"/>
<rect x="250" y="177" width="8" height="4" fill="#ffa900"/>
<rect x="258" y="177" width="4" height="4" fill="#ffa600"/>
<rect x="262" y="177" width="4" height="4" fill="#ffa700"/>
<rect x="266" y="177" width="4" height="4" fill="#ffaa00"/>
<rect x="270" y="177" width="4" height="4" fill="#ffae00"/>
<rect x="274" y="177" width="4" height="4" fill="#ffaf00"/>
<rect x="278" y="177" width="4" height="4" fill="#ffae00"/>
<rect x="282" y="177" width="4" height="4" fill="#ffac00"/>
<rect x="286" y="177" width="4" height="4" fill="#ffab00"/>
<rect x="290" y="177" width="4" height="4" fill="#ffac00"/>
<rect x="294" y="177" width="4" height="4" fill="#ffae00"/>
<rect x="74" y="181" width="4" height="4" fill="#ff9300"/>
<rect x="78" y="181" width="4" height="4" fill="#ffa900"/>
<rect x="82" y="181" width="4" height="4" fill="#ffbc00"/>
<rect x="86" y="181" width="4" height="4" fill="#ffca00"/>
<rect x="90" y="181" width="4" height="4" fill="#ffd400"/>
<rect x="94" y="181" width="4" height="4" fill="#ffdd00"/>
<rect x="98" y="181" width="4" height="4" fill="#ffe500"/>
<rect x="102" y="181" width="4" height="4" fill="#ffee00"/>
<rect x="106" y="181" width="4" height="4" fill="#fff800"/>
<rect x="110" y="181" width="4" height="4" fill="#fcff03"/>
<rect x="114" y="181" width="4" height="4" fill="#f2ff0d"/>
<rect x="118" y="181" width="4" height="4" fill="#eeff11"/>
<rect x="122" y="181" width="4" height="4" fill="#f2ff0d"/>
<rect x="126" y="181" width="4" height="4" fill="#faff05"/>
<rect x="130" y="181" width="4" height="4" fill="#fffd00"/>
<rect x="134" y="181" width="4" height="4" fill="#fff900"/>
<rect x="138" y="181" width="4" height="4" fill="#fff500"/>
<rect x="142" y="181" width="4" height="4" fill="#fff000"/>
<rect x="146" y="181" width="4" height="4" fill="#ffe900"/>
<rect x="150" y="181" width="4" height="4" fill="#ffe300"/>
<rect x="154" y="181" width="4" height="4" fill="#ffdd00"/>
<rect x="158" y="181" width="4" height="4" fill="#ffd900"/>
<rect x="162" y="181" width="4" height="4" fill="#ffd500"/>
<rect x="166" y="181" width="4" height="4" fill="#ffd100"/>
<rect x="170" y="181" width="4" height="4" fill="#ffcc00"/>
<rect x="174" y="181" width="4" height="4" fill="#ffc900"/>
<rect x="178" y="181" width="4" height="4" fill="#ffc700"/>
<rect x="182" y="181" width="4" height="4" fill="#ffc500"/>
<rect x="186" y="181" width="4" height="4" fill="#ffc200"/>
<rect x="190" y="181" width="4" height="4" fill="#ffbe00"/>
<rect x="194" y="181" width="4" height="4" fill="#ffb900"/>
<rect x="198" y="181" width="4" height="4" fill="#ffb100"/>
<rect x="202" y="181" width="4" height="4" fill="#ffa900"/>
<rect x="206" y="181" width="4" height="4" fill="#ffa200"/>
<rect x="210" y="181" width="4" height="4" fill="#ff9e00"/>
<rect x="214" y="181" width="4" height="4" fill="#ff9d00"/>
<rect x="218" y="181" width="4" height="4" fill="#ff9a00"/>
<rect x="222" y="181" width="4" height="4" fill="#ff9700"/>
<rect x="226" y="181" width="4" height="4" fill="#ff9400"/>
<rect x="230" y="181" width="4" height="4" fill="#ff9300"/>
<rect x="234" y="181" width="4" height="4" fill="#ff9400"/>
<rect x="238" y="181" width="4" height="4" fill="#ff9800"/>
<rect x="242" y="181" width="4" height="4" fill="#ff9f00"/>
<rect x="246" y="181" width="4" height="4" fill="#ffa900"/>
<rect x="250" y="181" width="4" height="4" fill="#ffb100"/>
<rect x="254" y="181" width="4" height="4" fill="#ffb700"/>
<rect x="258" y="181" width="4" height="4" fill="#ffbb00"/>
<rect x="262" y="181" width="4" height="4" fill="#ffc200"/>
<rect x="266" y="181" width="4" height="4" fill="#ffcc00"/>
<rect x="270" y="181" width="4" height="4" fill="#ffd700"/>
<rect x="274" y="181" width="4" height="4" fill="#ffe000"/>
<rect x="278" y="181" width="4" height="4" fill="#ffe700"/>
<rect x="282" y="181" width="4" height="4" fill="#ffed00"/>
<rect x="286" y="181" width="4" height="4" fill="#fff400"/>
<rect x="290" y="181" width="4" height="4" fill="#fffc00"/>
<rect x="294" y="181" width="4" height="4" fill="#faff05"/>
<rect x="74" y="185" width="4" height="4" fill="#ffa800"/>
<rect x="78" y="185" width="4" height="4" fill="#ffbc00"/>
<rect x="82" y="185" width="4" height="4" fill="#ffcd00"/>
<rect x="86" y="185" width="4" height="4" fill="#ffdb00"/>
<rect x="90" y="185" width="4" height="4" fill="#ffe600"/>
<rect x="94" y="185" width="4" height="4" fill="#ffef00"/>
<rect x="98" y="185" width="4" height="4" fill="#fff800"/>
<rect x="102" y="185" width="4" height="4" fill="#fdff02"/>
<rect x="106" y="185" width="4" height="4" fill="#f4ff0b"/>
<rect x="110" y="185" width="4" height="4" fill="#edff12"/>
<rect x="114" y="185" width="4" height="4" fill="#e6ff18"/>
<rect x="118" y="185" width="4" height="4" fill="#e6ff19"/>
<rect x="122" y="185" width="4" height="4" fill="#ecff13"/>
<rect x="126" y="185" width="4" height="4" fill="#f7ff08"/>
<rect x="130" y="185" width="4" height="4" fill="#fffe00"/>
<rect x="134" y="185" width="4" height="4" fill="#fff800"/>
<rect x="138" y="185" width="4" height="4" fill="#fff200"/>
<rect x="142" y="185" width="4" height="4" fill="#ffeb00"/>
<rect x="146" y="185" width="4" height="4" fill="#ffe300"/>
<rect x="150" y="185" width="4" height="4" fill="#ffdb00"/>
<rect x="154" y="185" width="4" height="4" fill="#ffd500"/>
<rect x="158" y="185" width="4" height="4" fill="#ffcf00"/>
<rect x="162" y="185" width="4" height="4" fill="#ffca00"/>
<rect x="166" y="185" width="4" height="4" fill="#ffc500"/>
<rect x="170" y="185" width="4" height="4" fill="#ffc000"/>
<rect x="174" y="185" width="4" height="4" fill="#ffbc00"/>
<rect x="178" y="185" width="4" height="4" fill="#ffb900"/>
<rect x="182" y="185" width="4" height="4" fill="#ffb700"/>
<rect x="186" y="185" width="4" height="4" fill="#ffb400"/>
<rect x="190" y="185" width="4" height="4" fill="#ffaf00"/>
<rect x="194" y="185" width="4" height="4" fill="#ffaa00"/>
<rect x="198" y="185" width="4" height="4" fill="#ffa400"/>
<rect x="202" y="185" width="4" height="4" fill="#ff9f00"/>
<rect x="206" y="185" width="4" height="4" fill="#ff9a00"/>
<rect x="210" y="185" width="4" height="4" fill="#ff9700"/>
<rect x="214" y="185" width="4" height="4" fill="#ff9600"/>
<rect x="218" y="185" width="4" height="4" fill="#ff9400"/>
<rect x="222" y="185" width="4" height="4" fill="#ff9300"/>
<rect x="226" y="185" width="8" height="4" fill="#ff9100"/>
<rect x="234" y="185" width="4" height="4" fill="#ff9200"/>
<rect x="238" y="185" width="4" height="4" fill="#ff9600"/>
<rect x="242" y="185" width="4" height="4" fill="#ff9e00"/>
<rect x="246" y="185" width="4" height="4" fill="#ffa900"/>
<rect x="250" y="185" width="4" height="4" fill="#ffb500"/>
<rect x="254" y="185" width="4" height="4" fill="#ffc000"/>
<rect x="258" y="185" width="4" height="4" fill="#ffcc00"/>
<rect x="262" y="185" width="4" height="4" fill="#ffd900"/>
<rect x="266" y="185" width="4" height="4" fill="#ffe800"/>
<rect x="270" y="185" width="4" height="4" fill="#fff900"/>
<rect x="274" y="185" width="4" height="4" fill="#f5ff0a"/>
<rect x="278" y="185" width="4" height="4" fill="#e5ff1a"/>
<rect x="282" y="185" width="4" height="4" fill="#d5ff2a"/>
<rect x="286" y="185" width="4" height="4" fill="#c6ff39"/>
<rect x="290" y="185" width="4" height="4" fill="#b7ff47"/>
<rect x="294" y="185" width="4" height="4" fill="#a9ff55"/>
<rect x="74" y="189" width="4" height="4" fill="#ffb600"/>
<rect x="78" y="189" width="4" height="4" fill="#ffc800"/>
<rect x="82" y="189" width="4" height="4" fill="#ffd900"/>
<rect x="86" y="189" width="4" height="4" fill="#ffe800"/>
<rect x="90" y="189" width="4" height="4" fill="#fff500"/>
<rect x="94" y="189" width="4" height="4" fill="#feff01"/>
<rect x="98" y="189" width="4" height="4" fill="#f4ff0b"/>
<rect x="102" y="189" width="4" height="4" fill="#ebff14"/>
<rect x="106" y="189" width="4" height="4" fill="#e4ff1b"/>
<rect x="110" y="189" width="4" height="4" fill="#e0ff1f"/>
<rect x="114" y="189" width="4" height="4" fill="#deff21"/>
<rect x="118" y="189" width="4" height="4" fill="#e1ff1e"/>
<rect x="122" y="189" width="4" height="4" fill="#eaff15"/>
<rect x="126" y="189" width="4" height="4" fill="#f6ff09"/>
<rect x="130" y="189" width="4" height="4" fill="#fffe00"/>
<rect x="134" y="189" width="4" height="4" fill="#fff500"/>
<rect x="138" y="189" width="4" height="4" fill="#ffed00"/>
<rect x="142" y="189" width="4" height="4" fill="#ffe600"/>
<rect x="146" y="189" width="4" height="4" fill="#ffde00"/>
<rect x="150" y="189" width="4" height="4" fill="#ffd700"/>
<rect x="154" y="189" width="4" height="4" fill="#ffd000"/>
<rect x="158" y="189" width="4" height="4" fill="#ffc900"/>
<rect x="162" y="189" width="4" height="4" fill="#ffc300"/>
<rect x="166" y="189" width="4" height="4" fill="#ffbf00"/>
<rect x="170" y="189" width="4" height="4" fill="#ffbc00"/>
<rect x="174" y="189" width="4" height="4" fill="#ffb900"/>
<rect x="178" y="189" width="4" height="4" fill="#ffb700"/>
<rect x="182" y="189" width="4" height="4" fill="#ffb400"/>
<rect x="186" y="189" width="4" height="4" fill="#ffb000"/>
<rect x="190" y="189" width="4" height="4" fill="#ffab00"/>
<rect x="194" y="189" width="4" height="4" fill="#ffa600"/>
<rect x="198" y="189" width="4" height="4" fill="#ffa200"/>
<rect x="202" y="189" width="4" height="4" fill="#ff9f00"/>
<rect x="206" y="189" width="4" height="4" fill="#ff9d00"/>
<rect x="210" y="189" width="4" height="4" fill="#ff9a00"/>
<rect x="214" y="189" width="4" height="4" fill="#ff9800"/>
<rect x="218" y="189" width="4" height="4" fill="#ff9600"/>
<rect x="222" y="189" width="16" height="4" fill="#ff9500"/>
<rect x="238" y="189" width="4" height="4" fill="#ff9800"/>
<rect x="242" y="189" width="4" height="4" fill="#ff9f00"/>
<rect x="246" y="189" width="4" height="4" fill="#ffa900"/>
<rect x="250" y="189" width="4" height="4" fill="#ffb700"/>
<rect x="254" y="189" width="4" height="4" fill="#ffc700"/>
<rect x="258" y="189" width="4" height="4" fill="#ffda00"/>
<rect x="262" y="189" width="4" height="4" fill="#ffed00"/>
<rect x="266" y="189" width="4" height="4" fill="#fdff02"/>
<rect x="270" y="189" width="4" height="4" fill="#e9ff16"/>
<rect x="274" y="189" width="4" height="4" fill="#d1ff2d"/>
<rect x="278" y="189" width="4" height="4" fill="#b8ff47"/>
<rect x="282" y="189" width="4" height="4" fill="#9eff60"/>
<rect x="286" y="189" width="4" height="4" fill="#87ff78"/>
<rect x="290" y="189" width="4" height="4" fill="#71ff8d"/>
<rect x="294" y="189" width="4" height="4" fill="#5dffa1"/>
<rect x="74" y="193" width="4" height="4" fill="#ffbf00"/>
<rect x="78" y="193" width="4" height="4" fill="#ffd000"/>
<rect x="82" y="193" width="4" height="4" fill="#ffe000"/>
<rect x="86" y="193" width="4" height="4" fill="#fff000"/>
<rect x="90" y="193" width="4" height="4" fill="#ffff00"/>
<rect x="94" y="193" width="4" height="4" fill="#f2ff0d"/>
<rect x="98" y="193" width="4" height="4" fill="#e7ff18"/>
<rect x="102" y="193" width="4" height="4" fill="#deff20"/>
<rect x="106" y="193" width="4" height="4" fill="#d9ff25"/>
<rect x="110" y="193" width="4" height="4" fill="#d8ff27"/>
<rect x="114" y="193" width="4" height="4" fill="#d9ff25"/>
<rect x="118" y="193" width="4" height="4" fill="#dfff20"/>
<rect x="122" y="193" width="4" height="4" fill="#e9ff16"/>
<rect x="126" y="193" width="4" height="4" fill="#f6ff09"/>
<rect x="130" y="193" width="4" height="4" fill="#fffc00"/>
<rect x="134" y="193" width="4" height="4" fill="#fff200"/>
<rect x="138" y="193" width="4" height="4" fill="#ffe900"/>
<rect x="142" y="193" width="4" height="4" fill="#ffe200"/>
<rect x="146" y="193" width="4" height="4" fill="#ffdb00"/>
<rect x="150" y="193" width="4" height="4" fill="#ffd400"/>
<rect x="154" y="193" width="4" height="4" fill="#ffcd00"/>
<rect x="158" y="193" width="4" height="4" fill="#ffc500"/>
<rect x="162" y="193" width="4" height="4" fill="#ffbf00"/>
<rect x="166" y="193" width="4" height="4" fill="#ffbb00"/>
<rect x="170" y="193" width="4" height="4" fill="#ffba00"/>
<rect x="174" y="193" width="4" height="4" fill="#ffb800"/>
<rect x="178" y="193" width="4" height="4" fill="#ffb600"/>
<rect x="182" y="193" width="4" height="4" fill="#ffb400"/>
<rect x="186" y="193" width="4" height="4" fill="#ffb000"/>
<rect x="190" y="193" width="4" height="4" fill="#ffab00"/>
<rect x="194" y="193" width="4" height="4" fill="#ffa600"/>
<rect x="198" y="193" width="4" height="4" fill="#ffa300"/>
<rect x="202" y="193" width="4" height="4" fill="#ffa100"/>
<rect x="206" y="193" width="4" height="4" fill="#ff9f00"/>
<rect x="210" y="193" width="4" height="4" fill="#ff9d00"/>
<rect x="214" y="193" width="4" height="4" fill="#ff9a00"/>
<rect x="218" y="193" width="12" height="4" fill="#ff9800"/>
<rect x="230" y="193" width="4" height="4" fill="#ff9900"/>
<rect x="234" y="193" width="4" height="4" fill="#ff9a00"/>
<rect x="238" y="193" width="4" height="4" fill="#ff9e00"/>
<rect x="242" y="193" width="4" height="4" fill="#ffa500"/>
<rect x="246" y="193" width="4" height="4" fill="#ffb000"/>
<rect x="250" y="193" width="4" height="4" fill="#ffbf00"/>
<rect x="254" y="193" width="4" height="4" fill="#ffd300"/>
<rect x="258" y="193" width="4" height="4" fill="#ffec00"/>
<rect x="262" y="193" width="4" height="4" fill="#f8ff06"/>
<rect x="266" y="193" width="4" height="4" fill="#deff21"/>
<rect x="270" y="193" width="4" height="4" fill="#c1ff3d"/>
<rect x="274" y="193" width="4" height="4" fill="#a2ff5c"/>
<rect x="278" y="193" width="4" height="4" fill="#81ff7d"/>
<rect x="282" y="193" width="4" height="4" fill="#61ff9e"/>
<rect x="286" y="193" width="4" height="4" fill="#42ffbc"/>
<rect x="290" y="193" width="4" height="4" fill="#26ffd8"/>
<rect x="294" y="193" width="4" height="4" fill="#0dfff2"/>
<rect x="74" y="197" width="4" height="4" fill="#ffc300"/>
<rect x="78" y="197" width="4" height="4" fill="#ffd300"/>
<rect x="82" y="197" width="4" height="4" fill="#ffe400"/>
<rect x="86" y="197" width="4" height="4" fill="#fff400"/>
<rect x="90" y="197" width="4" height="4" fill="#faff05"/>
<rect x="94" y="197" width="4" height="4" fill="#ecff13"/>
<rect x="98" y="197" width="4" height="4" fill="#e1ff1e"/>
<rect x="102" y="197" width="4" height="4" fill="#daff25"/>
<rect x="106" y="197" width="4" height="4" fill="#d6ff29"/>
<rect x="110" y="197" width="4" height="4" fill="#d5ff29"/>
<rect x="114" y="197" width="4" height="4" fill="#d8ff27"/>
<rect x="118" y="197" width="4" height="4" fill="#dfff20"/>
<rect x="122" y="197" width="4" height="4" fill="#eaff15"/>
<rect x="126" y="197" width="4" height="4" fill="#f8ff07"/>
<rect x="130" y="197" width="4" height="4" fill="#fffa00"/>
<rect x="134" y="197" width="4" height="4" fill="#fff000"/>
<rect x="138" y="197" width="4" height="4" fill="#ffe700"/>
<rect x="142" y="197" width="4" height="4" fill="#ffe000"/>
<rect x="146" y="197" width="4" height="4" fill="#ffd900"/>
<rect x="150" y="197" width="4" height="4" fill="#ffd300"/>
<rect x="154" y="197" width="4" height="4" fill="#ffcb00"/>
<rect x="158" y="197" width="4" height="4" fill="#ffc300"/>
<rect x="162" y="197" width="4" height="4" fill="#ffbd00"/>
<rect x="166" y="197" width="4" height="4" fill="#ffb900"/>
<rect x="170" y="197" width="4" height="4" fill="#ffb700"/>
<rect x="174" y="197" width="4" height="4" fill="#ffb500"/>
<rect x="178" y="197" width="4" height="4" fill="#ffb400"/>
<rect x="182" y="197" width="4" height="4" fill="#ffb300"/>
<rect x="186" y="197" width="4" height="4" fill="#ffb100"/>
<rect x="190" y="197" width="4" height="4" fill="#ffad00"/>
<rect x="194" y="197" width="4" height="4" fill="#ffa900"/>
<rect x="198" y="197" width="4" height="4" fill="#ffa500"/>
<rect x="202" y="197" width="4" height="4" fill="#ffa100"/>
<rect x="206" y="197" width="4" height="4" fill="#ff9e00"/>
<rect x="210" y="197" width="4" height="4" fill="#ff9b00"/>
<rect x="214" y="197" width="4" height="4" fill="#ff9900"/>
<rect x="218" y="197" width="4" height="4" fill="#ff9800"/>
<rect x="222" y="197" width="4" height="4" fill="#ff9900"/>
<rect x="226" y="197" width="4" height="4" fill="#ff9a00"/>
<rect x="230" y="197" width="4" height="4" fill="#ff9c00"/>
<rect x="234" y="197" width="4" height="4" fill="#ff9f00"/>
<rect x="238" y="197" width="4" height="4" fill="#ffa600"/>
<rect x="242" y="197" width="4" height="4" fill="#ffb000"/>
<rect x="246" y="197" width="4" height="4" fill="#ffbe00"/>
<rect x="250" y="197" width="4" height="4" fill="#ffd000"/>
<rect x="254" y="197" width="4" height="4" fill="#ffe700"/>
<rect x="258" y="197" width="4" height="4" fill="#faff05"/>
<rect x="262" y="197" width="4" height="4" fill="#d9ff25"/>
<rect x="266" y="197" width="4" height="4" fill="#b4ff4b"/>
<rect x="270" y="197" width="4" height="4" fill="#8bff73"/>
<rect x="274" y="197" width="4" height="4" fill="#64ff9a"/>
<rect x="278" y="197" width="4" height="4" fill="#3effc1"/>
<rect x="282" y="197" width="4" height="4" fill="#19ffe5"/>
<rect x="286" y="197" width="4" height="4" fill="#00f5ff"/>
<rect x="290" y="197" width="4" height="4" fill="#00d4ff"/>
<rect x="294" y="197" width="4" height="4" fill="#00b4ff"/>
<rect x="74" y="201" width="4" height="4" fill="#ffc300"/>
<rect x="78" y="201" width="4" height="4" fill="#ffd300"/>
<rect x="82" y="201" width="4" height="4" fill="#ffe300"/>
<rect x="86" y="201" width="4" height="4" fill="#fff300"/>
<rect x="90" y="201" width="4" height="4" fill="#fbff04"/>
<rect x="94" y="201" width="4" height="4" fill="#edff12"/>
<rect x="98" y="201" width="4" height="4" fill="#e2ff1c"/>
<rect x="102" y="201" width="4" height="4" fill="#dcff23"/>
<rect x="106" y="201" width="8" height="4" fill="#d9ff26"/>
<rect x="114" y="201" width="4" height="4" fill="#dbff24"/>
<rect x="118" y="201" width="4" height="4" fill="#e1ff1d"/>
<rect x="122" y="201" width="4" height="4" fill="#edff12"/>
<rect x="126" y="201" width="4" height="4" fill="#fbff04"/>
<rect x="130" y="201" width="4" height="4" fill="#fff700"/>
<rect x="134" y="201" width="4" height="4" fill="#ffee00"/>
<rect x="138" y="201" width="4" height="4" fill="#ffe700"/>
<rect x="142" y="201" width="4" height="4" fill="#ffe000"/>
<rect x="146" y="201" width="4" height="4" fill="#ffda00"/>
<rect x="150" y="201" width="4" height="4" fill="#ffd300"/>
<rect x="154" y="201" width="4" height="4" fill="#ffcc00"/>
<rect x="158" y="201" width="4" height="4" fill="#ffc400"/>
<rect x="162" y="201" width="4" height="4" fill="#ffbd00"/>
<rect x="166" y="201" width="4" height="4" fill="#ffb800"/>
<rect x="170" y="201" width="4" height="4" fill="#ffb400"/>
<rect x="174" y="201" width="16" height="4" fill="#ffb200"/>
<rect x="190" y="201" width="4" height="4" fill="#ffb000"/>
<rect x="194" y="201" width="4" height="4" fill="#ffad00"/>
<rect x="198" y="201" width="4" height="4" fill="#ffa700"/>
<rect x="202" y="201" width="4" height="4" fill="#ff9f00"/>
<rect x="206" y="201" width="4" height="4" fill="#ff9a00"/>
<rect x="210" y="201" width="8" height="4" fill="#ff9700"/>
<rect x="218" y="201" width="8" height="4" fill="#ff9800"/>
<rect x="226" y="201" width="4" height="4" fill="#ff9a00"/>
<rect x="230" y="201" width="4" height="4" fill="#ff9f00"/>
<rect x="234" y="201" width="4" height="4" fill="#ffa600"/>
<rect x="238" y="201" width="4" height="4" fill="#ffb000"/>
<rect x="242" y="201" width="4" height="4" fill="#ffbf00"/>
<rect x="246" y="201" width="4" height="4" fill="#ffd200"/>
<rect x="250" y="201" width="4" height="4" fill="#ffe900"/>
<rect x="254" y="201" width="4" height="4" fill="#faff05"/>
<rect x="258" y="201" width="4" height="4" fill="#dbff24"/>
<rect x="262" y="201" width="4" height="4" fill="#b2ff4c"/>
<rect x="266" y="201" width="4" height="4" fill="#80ff7e"/>
<rect x="270" y="201" width="4" height="4" fill="#4affb4"/>
<rect x="274" y="201" width="4" height="4" fill="#1bffe4"/>
<rect x="278" y="201" width="4" height="4" fill="#00f1ff"/>
<rect x="282" y="201" width="4" height="4" fill="#00cbff"/>
<rect x="286" y="201" width="4" height="4" fill="#00a5ff"/>
<rect x="290" y="201" width="4" height="4" fill="#007fff"/>
<rect x="294" y="201" width="4" height="4" fill="#0059ff"/>
<rect x="74" y="205" width="4" height="4" fill="#ffbd00"/>
<rect x="78" y="205" width="4" height="4" fill="#ffce00"/>
<rect x="82" y="205" width="4" height="4" fill="#ffde00"/>
<rect x="86" y="205" width="4" height="4" fill="#ffee00"/>
<rect x="90" y="205" width="4" height="4" fill="#fffd00"/>
<rect x="94" y="205" width="4" height="4" fill="#f3ff0c"/>
<rect x="98" y="205" width="4" height="4" fill="#eaff15"/>
<rect x="102" y="205" width="4" height="4" fill="#e5ff1a"/>
<rect x="106" y="205" width="4" height="4" fill="#e2ff1d"/>
<rect x="110" y="205" width="4" height="4" fill="#e1ff1e"/>
<rect x="114" y="205" width="4" height="4" fill="#e2ff1d"/>
<rect x="118" y="205" width="4" height="4" fill="#e7ff18"/>
<rect x="122" y="205" width="4" height="4" fill="#f1ff0e"/>
<rect x="126" y="205" width="4" height="4" fill="#fdff02"/>
<rect x="130" y="205" width="4" height="4" fill="#fff600"/>
<rect x="134" y="205" width="4" height="4" fill="#ffef00"/>
<rect x="138" y="205" width="4" height="4" fill="#ffe900"/>
<rect x="142" y="205" width="4" height="4" fill="#ffe300"/>
<rect x="146" y="205" width="4" height="4" fill="#ffdc00"/>
<rect x="150" y="205" width="4" height="4" fill="#ffd400"/>
<rect x="154" y="205" width="4" height="4" fill="#ffcd00"/>
<rect x="158" y="205" width="4" height="4" fill="#ffc600"/>
<rect x="162" y="205" width="4" height="4" fill="#ffc000"/>
<rect x="166" y="205" width="4" height="4" fill="#ffba00"/>
<rect x="170" y="205" width="4" height="4" fill="#ffb500"/>
<rect x="174" y="205" width="16" height="4" fill="#ffb200"/>
<rect x="190" y="205" width="4" height="4" fill="#ffb000"/>
<rect x="194" y="205" width="4" height="4" fill="#ffad00"/>
<rect x="198" y="205" width="4" height="4" fill="#ffa600"/>
<rect x="202" y="205" width="4" height="4" fill="#ff9e00"/>
<rect x="206" y="205" width="4" height="4" fill="#ff9900"/>
<rect x="210" y="205" width="4" height="4" fill="#ff9700"/>
<rect x="214" y="205" width="4" height="4" fill="#ff9800"/>
<rect x="218" y="205" width="4" height="4" fill="#ff9a00"/>
<rect x="222" y="205" width="4" height="4" fill="#ff9b00"/>
<rect x="226" y="205" width="4" height="4" fill="#ff9e00"/>
<rect x="230" y="205" width="4" height="4" fill="#ffa400"/>
<rect x="234" y="205" width="4" height="4" fill="#ffaf00"/>
<rect x="238" y="205" width="4" height="4" fill="#ffbf00"/>
<rect x="242" y="205" width="4" height="4" fill="#ffd200"/>
<rect x="246" y="205" width="4" height="4" fill="#ffea00"/>
<rect x="250" y="205" width="4" height="4" fill="#f7ff08"/>
<rect x="254" y="205" width="4" height="4" fill="#d5ff29"/>
<rect x="258" y="205" width="4" height="4" fill="#aeff51"/>
<rect x="262" y="205" width="4" height="4" fill="#7eff80"/>
<rect x="266" y="205" width="4" height="4" fill="#45ffb9"/>
<rect x="270" y="205" width="4" height="4" fill="#0afff5"/>
<rect x="274" y="205" width="4" height="4" fill="#00d7ff"/>
<rect x="278" y="205" width="4" height="4" fill="#00adff"/>
<rect x="282" y="205" width="4" height="4" fill="#0085ff"/>
<rect x="286" y="205" width="4" height="4" fill="#005cff"/>
<rect x="290" y="205" width="4" height="4" fill="#0032ff"/>
<rect x="294" y="205" width="4" height="4" fill="#0005ff"/>
<rect x="74" y="209" width="4" height="4" fill="#ffb300"/>
<rect x="78" y="209" width="4" height="4" fill="#ffc400"/>
<rect x="82" y="209" width="4" height="4" fill="#ffd500"/>
<rect x="86" y="209" width="4" height="4" fill="#ffe400"/>
<rect x="90" y="209" width="4" height="4" fill="#fff200"/>
<rect x="94" y="209" width="4" height="4" fill="#fffe00"/>
<rect x="98" y="209" width="4" height="4" fill="#f8ff07"/>
<rect x="102" y="209" width="4" height="4" fill="#f3ff0c"/>
<rect x="106" y="209" width="4" height="4" fill="#f1ff0e"/>
<rect x="110" y="209" width="4" height="4" fill="#efff10"/>
<rect x="114" y="209" width="4" height="4" fill="#eeff10"/>
<rect x="118" y="209" width="4" height="4" fill="#f1ff0e"/>
<rect x="122" y="209" width="4" height="4" fill="#f6ff08"/>
<rect x="126" y="209" width="4" height="4" fill="#ffff00"/>
<rect x="130" y="209" width="4" height="4" fill="#fff800"/>
<rect x="134" y="209" width="4" height="4" fill="#fff300"/>
<rect x="138" y="209" width="4" height="4" fill="#ffee00"/>
<rect x="142" y="209" width="4" height="4" fill="#ffe700"/>
<rect x="146" y="209" width="4" height="4" fill="#ffdf00"/>
<rect x="150" y="209" width="4" height="4" fill="#ffd700"/>
<rect x="154" y="209" width="4" height="4" fill="#ffd000"/>
<rect x="158" y="209" width="4" height="4" fill="#ffca00"/>
<rect x="162" y="209" width="4" height="4" fill="#ffc400"/>
<rect x="166" y="209" width="4" height="4" fill="#ffbe00"/>
<rect x="170" y="209" width="4" height="4" fill="#ffb900"/>
<rect x="174" y="209" width="4" height="4" fill="#ffb600"/>
<rect x="178" y="209" width="4" height="4" fill="#ffb400"/>
<rect x="182" y="209" width="4" height="4" fill="#ffb300"/>
<rect x="186" y="209" width="4" height="4" fill="#ffb100"/>
<rect x="190" y="209" width="4" height="4" fill="#ffad00"/>
<rect x="194" y="209" width="4" height="4" fill="#ffa800"/>
<rect x="198" y="209" width="4" height="4" fill="#ffa300"/>
<rect x="202" y="209" width="4" height="4" fill="#ff9e00"/>
<rect x="206" y="209" width="4" height="4" fill="#ff9b00"/>
<rect x="210" y="209" width="4" height="4" fill="#ff9a00"/>
<rect x="214" y="209" width="4" height="4" fill="#ff9c00"/>
<rect x="218" y="209" width="4" height="4" fill="#ff9e00"/>
<rect x="222" y="209" width="4" height="4" fill="#ffa000"/>
<rect x="226" y="209" width="4" height="4" fill="#ffa400"/>
<rect x="230" y="209" width="4" height="4" fill="#ffae00"/>
<rect x="234" y="209" width="4" height="4" fill="#ffbd00"/>
<rect x="238" y="209" width="4" height="4" fill="#ffd100"/>
<rect x="242" y="209" width="4" height="4" fill="#ffe800"/>
<rect x="246" y="209" width="4" height="4" fill="#f9ff05"/>
<rect x="250" y="209" width="4" height="4" fill="#d5ff2a"/>
<rect x="254" y="209" width="4" height="4" fill="#a7ff57"/>
<rect x="258" y="209" width="4" height="4" fill="#72ff8c"/>
<rect x="262" y="209" width="4" height="4" fill="#3bffc4"/>
<rect x="266" y="209" width="4" height="4" fill="#03fffc"/>
<rect x="270" y="209" width="4" height="4" fill="#00ccff"/>
<rect x="274" y="209" width="4" height="4" fill="#009dff"/>
<rect x="278" y="209" width="4" height="4" fill="#0074ff"/>
<rect x="282" y="209" width="4" height="4" fill="#004bff"/>
<rect x="286" y="209" width="4" height="4" fill="#001eff"/>
<rect x="290" y="209" width="4" height="4" fill="#0000ec"/>
<rect x="294" y="209" width="4" height="4" fill="#0000b7"/>
<rect x="74" y="213" width="4" height="4" fill="#ffa900"/>
<rect x="78" y="213" width="4" height="4" fill="#ffba00"/>
<rect x="82" y="213" width="4" height="4" fill="#ffca00"/>
<rect x="86" y="213" width="4" height="4" fill="#ffd900"/>
<rect x="90" y="213" width="4" height="4" fill="#ffe600"/>
<rect x="94" y="213" width="4" height="4" fill="#fff100"/>
<rect x="98" y="213" width="4" height="4" fill="#fff800"/>
<rect x="102" y="213" width="4" height="4" fill="#fffd00"/>
<rect x="106" y="213" width="4" height="4" fill="#feff01"/>
<rect x="110" y="213" width="4" height="4" fill="#fbff04"/>
<rect x="114" y="213" width="8" height="4" fill="#f9ff06"/>
<rect x="122" y="213" width="4" height="4" fill="#faff05"/>
<rect x="126" y="213" width="4" height="4" fill="#feff01"/>
<rect x="130" y="213" width="4" height="4" fill="#fffc00"/>
<rect x="134" y="213" width="4" height="4" fill="#fff800"/>
<rect x="138" y="213" width="4" height="4" fill="#fff300"/>
<rect x="142" y="213" width="4" height="4" fill="#ffec00"/>
<rect x="146" y="213" width="4" height="4" fill="#ffe200"/>
<rect x="150" y="213" width="4" height="4" fill="#ffd900"/>
<rect x="154" y="213" width="4" height="4" fill="#ffd200"/>
<rect x="158" y="213" width="4" height="4" fill="#ffce00"/>
<rect x="162" y="213" width="4" height="4" fill="#ffc900"/>
<rect x="166" y="213" width="4" height="4" fill="#ffc400"/>
<rect x="170" y="213" width="4" height="4" fill="#ffbf00"/>
<rect x="174" y="213" width="4" height="4" fill="#ffbb00"/>
<rect x="178" y="213" width="4" height="4" fill="#ffb800"/>
<rect x="182" y="213" width="4" height="4" fill="#ffb500"/>
<rect x="186" y="213" width="4" height="4" fill="#ffaf00"/>
<rect x="190" y="213" width="4" height="4" fill="#ffa800"/>
<rect x="194" y="213" width="4" height="4" fill="#ffa200"/>
<rect x="198" y="213" width="4" height="4" fill="#ff9f00"/>
<rect x="202" y="213" width="8" height="4" fill="#ff9e00"/>
<rect x="210" y="213" width="4" height="4" fill="#ff9f00"/>
<rect x="214" y="213" width="4" height="4" fill="#ffa200"/>
<rect x="218" y="213" width="4" height="4" fill="#ffa400"/>
<rect x="222" y="213" width="4" height="4" fill="#ffa700"/>
<rect x="226" y="213" width="4" height="4" fill="#ffad00"/>
<rect x="230" y="213" width="4" height="4" fill="#ffba00"/>
<rect x="234" y="213" width="4" height="4" fill="#ffcd00"/>
<rect x="238" y="213" width="4" height="4" fill="#ffe600"/>
<rect x="242" y="213" width="4" height="4" fill="#fcff03"/>
<rect x="246" y="213" width="4" height="4" fill="#dbff24"/>
<rect x="250" y="213" width="4" height="4" fill="#aeff50"/>
<rect x="254" y="213" width="4" height="4" fill="#74ff8a"/>
<rect x="258" y="213" width="4" height="4" fill="#31ffcd"/>
<rect x="262" y="213" width="4" height="4" fill="#00f4ff"/>
<rect x="266" y="213" width="4" height="4" fill="#00c1ff"/>
<rect x="270" y="213" width="4" height="4" fill="#0094ff"/>
<rect x="274" y="213" width="4" height="4" fill="#0069ff"/>
<rect x="278" y="213" width="4" height="4" fill="#0042ff"/>
<rect x="282" y="213" width="4" height="4" fill="#0018ff"/>
<rect x="286" y="213" width="4" height="4" fill="#0000e7"/>
<rect x="290" y="213" width="4" height="4" fill="#0000b1"/>
<rect x="294" y="213" width="4" height="4" fill="#00005c"/>
<rect x="74" y="217" width="4" height="4" fill="#ffa400"/>
<rect x="78" y="217" width="4" height="4" fill="#ffb500"/>
<rect x="82" y="217" width="4" height="4" fill="#ffc500"/>
<rect x="86" y="217" width="4" height="4" fill="#ffd400"/>
<rect x="90" y="217" width="4" height="4" fill="#ffe200"/>
<rect x="94" y="217" width="4" height="4" fill="#ffed00"/>
<rect x="98" y="217" width="4" height="4" fill="#fff600"/>
<rect x="102" y="217" width="4" height="4" fill="#fffb00"/>
<rect x="106" y="217" width="4" height="4" fill="#ffff00"/>
<rect x="110" y="217" width="4" height="4" fill="#fbff04"/>
<rect x="114" y="217" width="4" height="4" fill="#f7ff07"/>
<rect x="118" y="217" width="4" height="4" fill="#f6ff09"/>
<rect x="122" y="217" width="4" height="4" fill="#f7ff08"/>
<rect x="126" y="217" width="4" height="4" fill="#faff05"/>
<rect x="130" y="217" width="4" height="4" fill="#feff01"/>
<rect x="134" y="217" width="4" height="4" fill="#fffd00"/>
<rect x="138" y="217" width="4" height="4" fill="#fff800"/>
<rect x="142" y="217" width="4" height="4" fill="#fff000"/>
<rect x="146" y="217" width="4" height="4" fill="#ffe500"/>
<rect x="150" y="217" width="4" height="4" fill="#ffdc00"/>
<rect x="154" y="217" width="4" height="4" fill="#ffd500"/>
<rect x="158" y="217" width="4" height="4" fill="#ffd200"/>
<rect x="162" y="217" width="4" height="4" fill="#ffce00"/>
<rect x="166" y="217" width="4" height="4" fill="#ffca00"/>
<rect x="170" y="217" width="4" height="4" fill="#ffc500"/>
<rect x="174" y="217" width="4" height="4" fill="#ffc000"/>
<rect x="178" y="217" width="4" height="4" fill="#ffbb00"/>
<rect x="182" y="217" width="4" height="4" fill="#ffb600"/>
<rect x="186" y="217" width="4" height="4" fill="#ffae00"/>
<rect x="190" y="217" width="4" height="4" fill="#ffa600"/>
<rect x="194" y="217" width="4" height="4" fill="#ff9f00"/>
<rect x="198" y="217" width="4" height="4" fill="#ff9c00"/>
<rect x="202" y="217" width="4" height="4" fill="#ff9e00"/>
<rect x="206" y="217" width="4" height="4" fill="#ffa000"/>
<rect x="210" y="217" width="4" height="4" fill="#ffa200"/>
<rect x="214" y="217" width="4" height="4" fill="#ffa400"/>
<rect x="218" y="217" width="4" height="4" fill="#ffa800"/>
<rect x="222" y="217" width="4" height="4" fill="#ffae00"/>
<rect x="226" y="217" width="4" height="4" fill="#ffb700"/>
<rect x="230" y="217" width="4" height="4" fill="#ffc800"/>
<rect x="234" y="217" width="4" height="4" fill="#ffdf00"/>
<rect x="238" y="217" width="4" height="4" fill="#fffd00"/>
<rect x="242" y="217" width="4" height="4" fill="#deff21"/>
<rect x="246" y="217" width="4" height="4" fill="#b5ff49"/>
<rect x="250" y="217" width="4" height="4" fill="#82ff7c"/>
<rect x="254" y="217" width="4" height="4" fill="#43ffbc"/>
<rect x="258" y="217" width="4" height="4" fill="#00fbff"/>
<rect x="262" y="217" width="4" height="4" fill="#00beff"/>
<rect x="266" y="217" width="4" height="4" fill="#008cff"/>
<rect x="270" y="217" width="4" height="4" fill="#0063ff"/>
<rect x="274" y="217" width="4" height="4" fill="#003aff"/>
<rect x="278" y="217" width="4" height="4" fill="#0012ff"/>
<rect x="282" y="217" width="4" height="4" fill="#0000e6"/>
<rect x="286" y="217" width="4" height="4" fill="#0000b4"/>
<rect x="290" y="217" width="4" height="4" fill="#000078"/>
<rect x="294" y="217" width="4" height="4" fill="#00000b"/>
<rect x="74" y="221" width="4" height="4" fill="#ffa500"/>
<rect x="78" y="221" width="4" height="4" fill="#ffb500"/>
<rect x="82" y="221" width="4" height="4" fill="#ffc600"/>
<rect x="86" y="221" width="4" height="4" fill="#ffd600"/>
<rect x="90" y="221" width="4" height="4" fill="#ffe500"/>
<rect x="94" y="221" width="4" height="4" fill="#fff400"/>
<rect x="98" y="221" width="4" height="4" fill="#ffff00"/>
<rect x="102" y="221" width="4" height="4" fill="#f8ff07"/>
<rect x="106" y="221" width="4" height="4" fill="#f3ff0c"/>
<rect x="110" y="221" width="4" height="4" fill="#eeff11"/>
<rect x="114" y="221" width="4" height="4" fill="#eaff15"/>
<rect x="118" y="221" width="4" height="4" fill="#e9ff16"/>
<rect x="122" y="221" width="4" height="4" fill="#edff12"/>
<rect x="126" y="221" width="4" height="4" fill="#f3ff0b"/>
<rect x="130" y="221" width="4" height="4" fill="#f9ff06"/>
<rect x="134" y="221" width="4" height="4" fill="#feff01"/>
<rect x="138" y="221" width="4" height="4" fill="#fffb00"/>
<rect x="142" y="221" width="4" height="4" fill="#fff300"/>
<rect x="146" y="221" width="4" height="4" fill="#ffe800"/>
<rect x="150" y="221" width="4" height="4" fill="#ffde00"/>
<rect x="154" y="221" width="4" height="4" fill="#ffd800"/>
<rect x="158" y="221" width="4" height="4" fill="#ffd600"/>
<rect x="162" y="221" width="4" height="4" fill="#ffd400"/>
<rect x="166" y="221" width="4" height="4" fill="#ffd000"/>
<rect x="170" y="221" width="4" height="4" fill="#ffcb00"/>
<rect x="174" y="221" width="4" height="4" fill="#ffc500"/>
<rect x="178" y="221" width="4" height="4" fill="#ffbe00"/>
<rect x="182" y="221" width="4" height="4" fill="#ffb600"/>
<rect x="186" y="221" width="4" height="4" fill="#ffae00"/>
<rect x="190" y="221" width="4" height="4" fill="#ffa500"/>
<rect x="194" y="221" width="4" height="4" fill="#ff9e00"/>
<rect x="198" y="221" width="4" height="4" fill="#ff9c00"/>
<rect x="202" y="221" width="4" height="4" fill="#ff9e00"/>
<rect x="206" y="221" width="4" height="4" fill="#ffa000"/>
<rect x="210" y="221" width="4" height="4" fill="#ffa200"/>
<rect x="214" y="221" width="4" height="4" fill="#ffa400"/>
<rect x="218" y="221" width="4" height="4" fill="#ffa900"/>
<rect x="222" y="221" width="4" height="4" fill="#ffb300"/>
<rect x="226" y="221" width="4" height="4" fill="#ffc100"/>
<rect x="230" y="221" width="4" height="4" fill="#ffd700"/>
<rect x="234" y="221" width="4" height="4" fill="#fff300"/>
<rect x="238" y="221" width="4" height="4" fill="#e7ff18"/>
<rect x="242" y="221" width="4" height="4" fill="#bcff43"/>
<rect x="246" y="221" width="4" height="4" fill="#89ff75"/>
<rect x="250" y="221" width="4" height="4" fill="#50ffae"/>
<rect x="254" y="221" width="4" height="4" fill="#12ffec"/>
<rect x="258" y="221" width="4" height="4" fill="#00d0ff"/>
<rect x="262" y="221" width="4" height="4" fill="#0097ff"/>
<rect x="266" y="221" width="4" height="4" fill="#0066ff"/>
<rect x="270" y="221" width="4" height="4" fill="#003aff"/>
<rect x="274" y="221" width="4" height="4" fill="#000fff"/>
<rect x="278" y="221" width="4" height="4" fill="#0000e4"/>
<rect x="282" y="221" width="4" height="4" fill="#0000b7"/>
<rect x="286" y="221" width="4" height="4" fill="#000086"/>
<rect x="290" y="221" width="4" height="4" fill="#000018"/>
<rect x="294" y="221" width="4" height="4" fill="#000000"/>
<rect x="74" y="225" width="4" height="3" fill="#ffab00"/>
<rect x="78" y="225" width="4" height="3" fill="#ffba00"/>
<rect x="82" y="225" width="4" height="3" fill="#ffca00"/>
<rect x="86" y="225" width="4" height="3" fill="#ffdc00"/>
<rect x="90" y="225" width="4" height="3" fill="#ffef00"/>
<rect x="94" y="225" width="4" height="3" fill="#fdff02"/>
<rect x="98" y="225" width="4" height="3" fill="#efff10"/>
<rect x="102" y="225" width="4" height="3" fill="#e5ff1a"/>
<rect x="106" y="225" width="4" height="3" fill="#deff21"/>
<rect x="110" y="225" width="4" height="3" fill="#d8ff27"/>
<rect x="114" y="225" width="4" height="3" fill="#d4ff2b"/>
<rect x="118" y="225" width="4" height="3" fill="#d6ff29"/>
<rect x="122" y="225" width="4" height="3" fill="#deff21"/>
<rect x="126" y="225" width="4" height="3" fill="#ebff14"/>
<rect x="130" y="225" width="4" height="3" fill="#f5ff0a"/>
<rect x="134" y="225" width="4" height="3" fill="#fcff03"/>
<rect x="138" y="225" width="4" height="3" fill="#fffc00"/>
<rect x="142" y="225" width="4" height="3" fill="#fff400"/>
<rect x="146" y="225" width="4" height="3" fill="#ffe900"/>
<rect x="150" y="225" width="4" height="3" fill="#ffe000"/>
<rect x="154" y="225" width="4" height="3" fill="#ffdb00"/>
<rect x="158" y="225" width="4" height="3" fill="#ffda00"/>
<rect x="162" y="225" width="4" height="3" fill="#ffd800"/>
<rect x="166" y="225" width="4" height="3" fill="#ffd500"/>
<rect x="170" y="225" width="4" height="3" fill="#ffd000"/>
<rect x="174" y="225" width="4" height="3" fill="#ffc900"/>
<rect x="178" y="225" width="4" height="3" fill="#ffc100"/>
<rect x="182" y="225" width="4" height="3" fill="#ffb700"/>
<rect x="186" y="225" width="4" height="3" fill="#ffae00"/>
<rect x="190" y="225" width="4" height="3" fill="#ffa500"/>
<rect x="194" y="225" width="4" height="3" fill="#ffa000"/>
<rect x="198" y="225" width="4" height="3" fill="#ff9d00"/>
<rect x="202" y="225" width="4" height="3" fill="#ff9e00"/>
<rect x="206" y="225" width="4" height="3" fill="#ff9f00"/>
<rect x="210" y="225" width="4" height="3" fill="#ffa000"/>
<rect x="214" y="225" width="4" height="3" fill="#ffa100"/>
<rect x="218" y="225" width="4" height="3" fill="#ffa800"/>
<rect x="222" y="225" width="4" height="3" fill="#ffb600"/>
<rect x="226" y="225" width="4" height="3" fill="#ffca00"/>
<rect x="230" y="225" width="4" height="3" fill="#ffe500"/>
<rect x="234" y="225" width="4" height="3" fill="#f9ff06"/>
<rect x="238" y="225" width="4" height="3" fill="#cfff30"/>
<rect x="242" y="225" width="4" height="3" fill="#9bff64"/>
<rect x="246" y="225" width="4" height="3" fill="#5dffa2"/>
<rect x="250" y="225" width="4" height="3" fill="#21ffde"/>
<rect x="254" y="225" width="4" height="3" fill="#00e8ff"/>
<rect x="258" y="225" width="4" height="3" fill="#00b5ff"/>
<rect x="262" y="225" width="4" height="3" fill="#0081ff"/>
<rect x="266" y="225" width="4" height="3" fill="#004eff"/>
<rect x="270" y="225" width="4" height="3" fill="#001cff"/>
<rect x="274" y="225" width="4" height="3" fill="#0000eb"/>
<rect x="278" y="225" width="4" height="3" fill="#0000be"/>
<rect x="282" y="225" width="4" height="3" fill="#000090"/>
<rect x="286" y="225" width="4" height="3" fill="#000025"/>
<rect x="290" y="225" width="8" height="3" fill="#000000"/>
<rect x="74" y="161" width="6" height="2" fill="#fff"/>
<rect x="291" y="161" width="7" height="2" fill="#fff"/>
<rect x="295" y="163" width="3" height="1" fill="#fff"/></g>
<g filter="url(#bl)"><rect x="316" y="161" width="4" height="4" fill="#ff0d00"/>
<rect x="320" y="161" width="4" height="4" fill="#ff1800"/>
<rect x="324" y="161" width="4" height="4" fill="#ff2700"/>
<rect x="328" y="161" width="4" height="4" fill="#ff3800"/>
<rect x="332" y="161" width="4" height="4" fill="#ff4b00"/>
<rect x="336" y="161" width="4" height="4" fill="#ff5e00"/>
<rect x="340" y="161" width="4" height="4" fill="#ff6f00"/>
<rect x="344" y="161" width="4" height="4" fill="#ff7d00"/>
<rect x="348" y="161" width="4" height="4" fill="#ff8b00"/>
<rect x="352" y="161" width="4" height="4" fill="#ff9900"/>
<rect x="356" y="161" width="4" height="4" fill="#ffa700"/>
<rect x="360" y="161" width="4" height="4" fill="#ffb300"/>
<rect x="364" y="161" width="4" height="4" fill="#ffbd00"/>
<rect x="368" y="161" width="4" height="4" fill="#ffc500"/>
<rect x="372" y="161" width="4" height="4" fill="#ffce00"/>
<rect x="376" y="161" width="4" height="4" fill="#ffd900"/>
<rect x="380" y="161" width="4" height="4" fill="#ffe300"/>
<rect x="384" y="161" width="4" height="4" fill="#ffec00"/>
<rect x="388" y="161" width="4" height="4" fill="#fff200"/>
<rect x="392" y="161" width="4" height="4" fill="#fff700"/>
<rect x="396" y="161" width="4" height="4" fill="#ffff00"/>
<rect x="400" y="161" width="4" height="4" fill="#f6ff09"/>
<rect x="404" y="161" width="4" height="4" fill="#eaff15"/>
<rect x="408" y="161" width="4" height="4" fill="#dbff24"/>
<rect x="412" y="161" width="4" height="4" fill="#c9ff36"/>
<rect x="416" y="161" width="4" height="4" fill="#b5ff49"/>
<rect x="420" y="161" width="4" height="4" fill="#a0ff5e"/>
<rect x="424" y="161" width="4" height="4" fill="#88ff76"/>
<rect x="428" y="161" width="4" height="4" fill="#6cff92"/>
<rect x="432" y="161" width="4" height="4" fill="#4cffb3"/>
<rect x="436" y="161" width="4" height="4" fill="#30ffcf"/>
<rect x="440" y="161" width="4" height="4" fill="#1fffe0"/>
<rect x="444" y="161" width="4" height="4" fill="#17ffe8"/>
<rect x="448" y="161" width="4" height="4" fill="#15ffe9"/>
<rect x="452" y="161" width="4" height="4" fill="#19ffe6"/>
<rect x="456" y="161" width="4" height="4" fill="#22ffdd"/>
<rect x="460" y="161" width="4" height="4" fill="#31ffcd"/>
<rect x="464" y="161" width="4" height="4" fill="#48ffb6"/>
<rect x="468" y="161" width="4" height="4" fill="#62ff9c"/>
<rect x="472" y="161" width="4" height="4" fill="#78ff86"/>
<rect x="476" y="161" width="4" height="4" fill="#8aff74"/>
<rect x="480" y="161" width="4" height="4" fill="#a2ff5c"/>
<rect x="484" y="161" width="4" height="4" fill="#c4ff3a"/>
<rect x="488" y="161" width="4" height="4" fill="#f1ff0e"/>
<rect x="492" y="161" width="4" height="4" fill="#ffe600"/>
<rect x="496" y="161" width="4" height="4" fill="#ffc600"/>
<rect x="500" y="161" width="4" height="4" fill="#ffae00"/>
<rect x="504" y="161" width="4" height="4" fill="#ff9900"/>
<rect x="508" y="161" width="4" height="4" fill="#ff8900"/>
<rect x="512" y="161" width="4" height="4" fill="#ff7e00"/>
<rect x="516" y="161" width="4" height="4" fill="#ff8000"/>
<rect x="520" y="161" width="4" height="4" fill="#ff8c00"/>
<rect x="524" y="161" width="4" height="4" fill="#ffa500"/>
<rect x="528" y="161" width="4" height="4" fill="#ffcb00"/>
<rect x="532" y="161" width="4" height="4" fill="#ffff00"/>
<rect x="536" y="161" width="4" height="4" fill="#bfff40"/>
<rect x="316" y="165" width="4" height="4" fill="#ff0d00"/>
<rect x="320" y="165" width="4" height="4" fill="#ff1c00"/>
<rect x="324" y="165" width="4" height="4" fill="#ff2f00"/>
<rect x="328" y="165" width="4" height="4" fill="#ff4200"/>
<rect x="332" y="165" width="4" height="4" fill="#ff5500"/>
<rect x="336" y="165" width="4" height="4" fill="#ff6700"/>
<rect x="340" y="165" width="4" height="4" fill="#ff7800"/>
<rect x="344" y="165" width="4" height="4" fill="#ff8800"/>
<rect x="348" y="165" width="4" height="4" fill="#ff9900"/>
<rect x="352" y="165" width="4" height="4" fill="#ffab00"/>
<rect x="356" y="165" width="4" height="4" fill="#ffbd00"/>
<rect x="360" y="165" width="4" height="4" fill="#ffcc00"/>
<rect x="364" y="165" width="4" height="4" fill="#ffd500"/>
<rect x="368" y="165" width="4" height="4" fill="#ffdb00"/>
<rect x="372" y="165" width="4" height="4" fill="#ffe100"/>
<rect x="376" y="165" width="4" height="4" fill="#ffe700"/>
<rect x="380" y="165" width="4" height="4" fill="#ffed00"/>
<rect x="384" y="165" width="4" height="4" fill="#fff100"/>
<rect x="388" y="165" width="4" height="4" fill="#fff200"/>
<rect x="392" y="165" width="4" height="4" fill="#fff400"/>
<rect x="396" y="165" width="4" height="4" fill="#fff700"/>
<rect x="400" y="165" width="4" height="4" fill="#fffb00"/>
<rect x="404" y="165" width="4" height="4" fill="#fbff04"/>
<rect x="408" y="165" width="4" height="4" fill="#f1ff0e"/>
<rect x="412" y="165" width="4" height="4" fill="#e4ff1b"/>
<rect x="416" y="165" width="4" height="4" fill="#d2ff2d"/>
<rect x="420" y="165" width="4" height="4" fill="#bcff43"/>
<rect x="424" y="165" width="4" height="4" fill="#a4ff5b"/>
<rect x="428" y="165" width="4" height="4" fill="#8eff70"/>
<rect x="432" y="165" width="4" height="4" fill="#7bff83"/>
<rect x="436" y="165" width="4" height="4" fill="#6cff92"/>
<rect x="440" y="165" width="4" height="4" fill="#62ff9c"/>
<rect x="444" y="165" width="4" height="4" fill="#5dffa1"/>
<rect x="448" y="165" width="4" height="4" fill="#63ff9b"/>
<rect x="452" y="165" width="4" height="4" fill="#75ff89"/>
<rect x="456" y="165" width="4" height="4" fill="#8fff70"/>
<rect x="460" y="165" width="4" height="4" fill="#a1ff5d"/>
<rect x="464" y="165" width="4" height="4" fill="#abff53"/>
<rect x="468" y="165" width="4" height="4" fill="#b1ff4d"/>
<rect x="472" y="165" width="4" height="4" fill="#baff44"/>
<rect x="476" y="165" width="4" height="4" fill="#c7ff38"/>
<rect x="480" y="165" width="4" height="4" fill="#daff25"/>
<rect x="484" y="165" width="4" height="4" fill="#f6ff09"/>
<rect x="488" y="165" width="4" height="4" fill="#ffe300"/>
<rect x="492" y="165" width="4" height="4" fill="#ffbc00"/>
<rect x="496" y="165" width="4" height="4" fill="#ff9600"/>
<rect x="500" y="165" width="4" height="4" fill="#ff7400"/>
<rect x="504" y="165" width="4" height="4" fill="#ff6400"/>
<rect x="508" y="165" width="4" height="4" fill="#ff6500"/>
<rect x="512" y="165" width="4" height="4" fill="#ff7800"/>
<rect x="516" y="165" width="4" height="4" fill="#ff9800"/>
<rect x="520" y="165" width="4" height="4" fill="#ffc500"/>
<rect x="524" y="165" width="4" height="4" fill="#fff600"/>
<rect x="528" y="165" width="4" height="4" fill="#dbff23"/>
<rect x="532" y="165" width="4" height="4" fill="#b2ff4c"/>
<rect x="536" y="165" width="4" height="4" fill="#8dff71"/>
<rect x="316" y="169" width="4" height="4" fill="#ff1200"/>
<rect x="320" y="169" width="4" height="4" fill="#ff2900"/>
<rect x="324" y="169" width="4" height="4" fill="#ff3e00"/>
<rect x="328" y="169" width="4" height="4" fill="#ff5300"/>
<rect x="332" y="169" width="4" height="4" fill="#ff6600"/>
<rect x="336" y="169" width="4" height="4" fill="#ff7800"/>
<rect x="340" y="169" width="4" height="4" fill="#ff8900"/>
<rect x="344" y="169" width="4" height="4" fill="#ff9a00"/>
<rect x="348" y="169" width="4" height="4" fill="#ffaa00"/>
<rect x="352" y="169" width="4" height="4" fill="#ffbc00"/>
<rect x="356" y="169" width="4" height="4" fill="#ffcd00"/>
<rect x="360" y="169" width="4" height="4" fill="#ffdb00"/>
<rect x="364" y="169" width="4" height="4" fill="#ffe300"/>
<rect x="368" y="169" width="4" height="4" fill="#ffe700"/>
<rect x="372" y="169" width="4" height="4" fill="#ffeb00"/>
<rect x="376" y="169" width="4" height="4" fill="#fff000"/>
<rect x="380" y="169" width="4" height="4" fill="#fff200"/>
<rect x="384" y="169" width="4" height="4" fill="#fff100"/>
<rect x="388" y="169" width="4" height="4" fill="#ffeb00"/>
<rect x="392" y="169" width="8" height="4" fill="#ffe500"/>
<rect x="400" y="169" width="4" height="4" fill="#ffe800"/>
<rect x="404" y="169" width="4" height="4" fill="#ffef00"/>
<rect x="408" y="169" width="4" height="4" fill="#fff900"/>
<rect x="412" y="169" width="4" height="4" fill="#f8ff07"/>
<rect x="416" y="169" width="4" height="4" fill="#e6ff18"/>
<rect x="420" y="169" width="4" height="4" fill="#d1ff2e"/>
<rect x="424" y="169" width="4" height="4" fill="#bcff43"/>
<rect x="428" y="169" width="4" height="4" fill="#acff52"/>
<rect x="432" y="169" width="4" height="4" fill="#a3ff5b"/>
<rect x="436" y="169" width="4" height="4" fill="#9eff60"/>
<rect x="440" y="169" width="4" height="4" fill="#9aff65"/>
<rect x="444" y="169" width="4" height="4" fill="#98ff66"/>
<rect x="448" y="169" width="4" height="4" fill="#a3ff5b"/>
<rect x="452" y="169" width="4" height="4" fill="#c0ff3f"/>
<rect x="456" y="169" width="4" height="4" fill="#e5ff1a"/>
<rect x="460" y="169" width="4" height="4" fill="#f9ff06"/>
<rect x="464" y="169" width="4" height="4" fill="#f8ff07"/>
<rect x="468" y="169" width="4" height="4" fill="#eeff11"/>
<rect x="472" y="169" width="4" height="4" fill="#ebff14"/>
<rect x="476" y="169" width="4" height="4" fill="#efff10"/>
<rect x="480" y="169" width="4" height="4" fill="#fdff02"/>
<rect x="484" y="169" width="4" height="4" fill="#ffe800"/>
<rect x="488" y="169" width="4" height="4" fill="#ffc600"/>
<rect x="492" y="169" width="4" height="4" fill="#ffa100"/>
<rect x="496" y="169" width="4" height="4" fill="#ff7c00"/>
<rect x="500" y="169" width="4" height="4" fill="#ff5c00"/>
<rect x="504" y="169" width="4" height="4" fill="#ff5400"/>
<rect x="508" y="169" width="4" height="4" fill="#ff6600"/>
<rect x="512" y="169" width="4" height="4" fill="#ff8d00"/>
<rect x="516" y="169" width="4" height="4" fill="#ffc300"/>
<rect x="520" y="169" width="4" height="4" fill="#f6ff09"/>
<rect x="524" y="169" width="4" height="4" fill="#b6ff48"/>
<rect x="528" y="169" width="4" height="4" fill="#88ff76"/>
<rect x="532" y="169" width="4" height="4" fill="#6bff93"/>
<rect x="536" y="169" width="4" height="4" fill="#61ff9e"/>
<rect x="316" y="173" width="4" height="4" fill="#ff2400"/>
<rect x="320" y="173" width="4" height="4" fill="#ff3e00"/>
<rect x="324" y="173" width="4" height="4" fill="#ff5500"/>
<rect x="328" y="173" width="4" height="4" fill="#ff6b00"/>
<rect x="332" y="173" width="4" height="4" fill="#ff7f00"/>
<rect x="336" y="173" width="4" height="4" fill="#ff9100"/>
<rect x="340" y="173" width="4" height="4" fill="#ffa200"/>
<rect x="344" y="173" width="4" height="4" fill="#ffb100"/>
<rect x="348" y="173" width="4" height="4" fill="#ffc000"/>
<rect x="352" y="173" width="4" height="4" fill="#ffcd00"/>
<rect x="356" y="173" width="4" height="4" fill="#ffd800"/>
<rect x="360" y="173" width="4" height="4" fill="#ffe100"/>
<rect x="364" y="173" width="4" height="4" fill="#ffe600"/>
<rect x="368" y="173" width="4" height="4" fill="#ffe900"/>
<rect x="372" y="173" width="4" height="4" fill="#ffec00"/>
<rect x="376" y="173" width="4" height="4" fill="#fff200"/>
<rect x="380" y="173" width="4" height="4" fill="#fff400"/>
<rect x="384" y="173" width="4" height="4" fill="#ffec00"/>
<rect x="388" y="173" width="4" height="4" fill="#ffda00"/>
<rect x="392" y="173" width="4" height="4" fill="#ffcc00"/>
<rect x="396" y="173" width="4" height="4" fill="#ffc800"/>
<rect x="400" y="173" width="4" height="4" fill="#ffcf00"/>
<rect x="404" y="173" width="4" height="4" fill="#ffdb00"/>
<rect x="408" y="173" width="4" height="4" fill="#ffe900"/>
<rect x="412" y="173" width="4" height="4" fill="#fffa00"/>
<rect x="416" y="173" width="4" height="4" fill="#f3ff0c"/>
<rect x="420" y="173" width="4" height="4" fill="#e0ff1f"/>
<rect x="424" y="173" width="4" height="4" fill="#cfff2f"/>
<rect x="428" y="173" width="4" height="4" fill="#c6ff38"/>
<rect x="432" y="173" width="4" height="4" fill="#c4ff3a"/>
<rect x="436" y="173" width="4" height="4" fill="#c5ff3a"/>
<rect x="440" y="173" width="4" height="4" fill="#c5ff39"/>
<rect x="444" y="173" width="4" height="4" fill="#c7ff37"/>
<rect x="448" y="173" width="4" height="4" fill="#d7ff27"/>
<rect x="452" y="173" width="4" height="4" fill="#f9ff06"/>
<rect x="456" y="173" width="4" height="4" fill="#ffd900"/>
<rect x="460" y="173" width="4" height="4" fill="#ffc700"/>
<rect x="464" y="173" width="4" height="4" fill="#ffd000"/>
<rect x="468" y="173" width="4" height="4" fill="#ffe700"/>
<rect x="472" y="173" width="4" height="4" fill="#fff600"/>
<rect x="476" y="173" width="4" height="4" fill="#fffa00"/>
<rect x="480" y="173" width="4" height="4" fill="#fff200"/>
<rect x="484" y="173" width="4" height="4" fill="#ffdb00"/>
<rect x="488" y="173" width="4" height="4" fill="#ffb600"/>
<rect x="492" y="173" width="4" height="4" fill="#ff9400"/>
<rect x="496" y="173" width="4" height="4" fill="#ff7800"/>
<rect x="500" y="173" width="4" height="4" fill="#ff6600"/>
<rect x="504" y="173" width="4" height="4" fill="#ff6b00"/>
<rect x="508" y="173" width="4" height="4" fill="#ff8a00"/>
<rect x="512" y="173" width="4" height="4" fill="#ffbe00"/>
<rect x="516" y="173" width="4" height="4" fill="#fdff02"/>
<rect x="520" y="173" width="4" height="4" fill="#aaff55"/>
<rect x="524" y="173" width="4" height="4" fill="#63ff9c"/>
<rect x="528" y="173" width="4" height="4" fill="#38ffc6"/>
<rect x="532" y="173" width="4" height="4" fill="#2bffd4"/>
<rect x="536" y="173" width="4" height="4" fill="#39ffc5"/>
<rect x="316" y="177" width="4" height="4" fill="#ff4000"/>
<rect x="320" y="177" width="4" height="4" fill="#ff5b00"/>
<rect x="324" y="177" width="4" height="4" fill="#ff7400"/>
<rect x="328" y="177" width="4" height="4" fill="#ff8b00"/>
<rect x="332" y="177" width="4" height="4" fill="#ffa000"/>
<rect x="336" y="177" width="4" height="4" fill="#ffb200"/>
<rect x="340" y="177" width="4" height="4" fill="#ffc200"/>
<rect x="344" y="177" width="4" height="4" fill="#ffd000"/>
<rect x="348" y="177" width="4" height="4" fill="#ffd900"/>
<rect x="352" y="177" width="16" height="4" fill="#ffde00"/>
<rect x="368" y="177" width="4" height="4" fill="#ffe000"/>
<rect x="372" y="177" width="4" height="4" fill="#ffe500"/>
<rect x="376" y="177" width="4" height="4" fill="#ffed00"/>
<rect x="380" y="177" width="4" height="4" fill="#fff100"/>
<rect x="384" y="177" width="4" height="4" fill="#ffe200"/>
<rect x="388" y="177" width="4" height="4" fill="#ffc200"/>
<rect x="392" y="177" width="4" height="4" fill="#ffa700"/>
<rect x="396" y="177" width="4" height="4" fill="#ffa200"/>
<rect x="400" y="177" width="4" height="4" fill="#ffb100"/>
<rect x="404" y="177" width="4" height="4" fill="#ffc500"/>
<rect x="408" y="177" width="4" height="4" fill="#ffdc00"/>
<rect x="412" y="177" width="4" height="4" fill="#fff300"/>
<rect x="416" y="177" width="4" height="4" fill="#f8ff07"/>
<rect x="420" y="177" width="4" height="4" fill="#e9ff16"/>
<rect x="424" y="177" width="4" height="4" fill="#e0ff1f"/>
<rect x="428" y="177" width="4" height="4" fill="#dcff23"/>
<rect x="432" y="177" width="4" height="4" fill="#ddff22"/>
<rect x="436" y="177" width="4" height="4" fill="#e1ff1e"/>
<rect x="440" y="177" width="4" height="4" fill="#e5ff1a"/>
<rect x="444" y="177" width="4" height="4" fill="#ebff14"/>
<rect x="448" y="177" width="4" height="4" fill="#feff01"/>
<rect x="452" y="177" width="4" height="4" fill="#ffdc00"/>
<rect x="456" y="177" width="4" height="4" fill="#ffb100"/>
<rect x="460" y="177" width="4" height="4" fill="#ffa200"/>
<rect x="464" y="177" width="4" height="4" fill="#ffb200"/>
<rect x="468" y="177" width="4" height="4" fill="#ffd200"/>
<rect x="472" y="177" width="4" height="4" fill="#ffea00"/>
<rect x="476" y="177" width="4" height="4" fill="#fffa00"/>
<rect x="480" y="177" width="4" height="4" fill="#fff800"/>
<rect x="484" y="177" width="4" height="4" fill="#ffe000"/>
<rect x="488" y="177" width="4" height="4" fill="#ffb400"/>
<rect x="492" y="177" width="4" height="4" fill="#ff9400"/>
<rect x="496" y="177" width="4" height="4" fill="#ff8900"/>
<rect x="500" y="177" width="4" height="4" fill="#ff9000"/>
<rect x="504" y="177" width="4" height="4" fill="#ffa800"/>
<rect x="508" y="177" width="4" height="4" fill="#ffd100"/>
<rect x="512" y="177" width="4" height="4" fill="#f4ff0b"/>
<rect x="516" y="177" width="4" height="4" fill="#acff52"/>
<rect x="520" y="177" width="4" height="4" fill="#55ffa9"/>
<rect x="524" y="177" width="4" height="4" fill="#0ffff0"/>
<rect x="528" y="177" width="4" height="4" fill="#00ecff"/>
<rect x="532" y="177" width="4" height="4" fill="#00eeff"/>
<rect x="536" y="177" width="4" height="4" fill="#17ffe8"/>
<rect x="316" y="181" width="4" height="4" fill="#ff5e00"/>
<rect x="320" y="181" width="4" height="4" fill="#ff7b00"/>
<rect x="324" y="181" width="4" height="4" fill="#ff9600"/>
<rect x="328" y="181" width="4" height="4" fill="#ffaf00"/>
<rect x="332" y="181" width="4" height="4" fill="#ffc600"/>
<rect x="336" y="181" width="4" height="4" fill="#ffda00"/>
<rect x="340" y="181" width="4" height="4" fill="#ffe700"/>
<rect x="344" y="181" width="4" height="4" fill="#ffee00"/>
<rect x="348" y="181" width="4" height="4" fill="#ffef00"/>
<rect x="352" y="181" width="4" height="4" fill="#ffea00"/>
<rect x="356" y="181" width="4" height="4" fill="#ffe100"/>
<rect x="360" y="181" width="4" height="4" fill="#ffd900"/>
<rect x="364" y="181" width="8" height="4" fill="#ffd600"/>
<rect x="372" y="181" width="4" height="4" fill="#ffdc00"/>
<rect x="376" y="181" width="4" height="4" fill="#ffe700"/>
<rect x="380" y="181" width="4" height="4" fill="#ffec00"/>
<rect x="384" y="181" width="4" height="4" fill="#ffdb00"/>
<rect x="388" y="181" width="4" height="4" fill="#ffb200"/>
<rect x="392" y="181" width="4" height="4" fill="#ff9100"/>
<rect x="396" y="181" width="4" height="4" fill="#ff8a00"/>
<rect x="400" y="181" width="4" height="4" fill="#ff9b00"/>
<rect x="404" y="181" width="4" height="4" fill="#ffb500"/>
<rect x="408" y="181" width="4" height="4" fill="#ffd200"/>
<rect x="412" y="181" width="4" height="4" fill="#fff000"/>
<rect x="416" y="181" width="4" height="4" fill="#faff05"/>
<rect x="420" y="181" width="4" height="4" fill="#f0ff0f"/>
<rect x="424" y="181" width="4" height="4" fill="#eeff11"/>
<rect x="428" y="181" width="4" height="4" fill="#efff10"/>
<rect x="432" y="181" width="4" height="4" fill="#f5ff0a"/>
<rect x="436" y="181" width="4" height="4" fill="#fcff03"/>
<rect x="440" y="181" width="4" height="4" fill="#fffb00"/>
<rect x="444" y="181" width="4" height="4" fill="#fff300"/>
<rect x="448" y="181" width="4" height="4" fill="#ffe000"/>
<rect x="452" y="181" width="4" height="4" fill="#ffbf00"/>
<rect x="456" y="181" width="4" height="4" fill="#ff9a00"/>
<rect x="460" y="181" width="4" height="4" fill="#ff8f00"/>
<rect x="464" y="181" width="4" height="4" fill="#ffa200"/>
<rect x="468" y="181" width="4" height="4" fill="#ffc600"/>
<rect x="472" y="181" width="4" height="4" fill="#ffe200"/>
<rect x="476" y="181" width="4" height="4" fill="#fff600"/>
<rect x="480" y="181" width="4" height="4" fill="#fff900"/>
<rect x="484" y="181" width="4" height="4" fill="#ffe300"/>
<rect x="488" y="181" width="4" height="4" fill="#ffb800"/>
<rect x="492" y="181" width="4" height="4" fill="#ffa100"/>
<rect x="496" y="181" width="4" height="4" fill="#ffa700"/>
<rect x="500" y="181" width="4" height="4" fill="#ffc600"/>
<rect x="504" y="181" width="4" height="4" fill="#ffee00"/>
<rect x="508" y="181" width="4" height="4" fill="#e3ff1c"/>
<rect x="512" y="181" width="4" height="4" fill="#acff52"/>
<rect x="516" y="181" width="4" height="4" fill="#69ff95"/>
<rect x="520" y="181" width="4" height="4" fill="#19ffe6"/>
<rect x="524" y="181" width="4" height="4" fill="#00d9ff"/>
<rect x="528" y="181" width="4" height="4" fill="#00c1ff"/>
<rect x="532" y="181" width="4" height="4" fill="#00ceff"/>
<rect x="536" y="181" width="4" height="4" fill="#02fffd"/>
<rect x="316" y="185" width="4" height="4" fill="#ff7b00"/>
<rect x="320" y="185" width="4" height="4" fill="#ff9b00"/>
<rect x="324" y="185" width="4" height="4" fill="#ffb900"/>
<rect x="328" y="185" width="4" height="4" fill="#ffd600"/>
<rect x="332" y="185" width="4" height="4" fill="#fff200"/>
<rect x="336" y="185" width="4" height="4" fill="#f7ff08"/>
<rect x="340" y="185" width="4" height="4" fill="#efff10"/>
<rect x="344" y="185" width="4" height="4" fill="#f5ff0a"/>
<rect x="348" y="185" width="4" height="4" fill="#fffd00"/>
<rect x="352" y="185" width="4" height="4" fill="#fff000"/>
<rect x="356" y="185" width="4" height="4" fill="#ffe200"/>
<rect x="360" y="185" width="4" height="4" fill="#ffd800"/>
<rect x="364" y="185" width="4" height="4" fill="#ffd300"/>
<rect x="368" y="185" width="4" height="4" fill="#ffd200"/>
<rect x="372" y="185" width="4" height="4" fill="#ffd700"/>
<rect x="376" y="185" width="4" height="4" fill="#ffe200"/>
<rect x="380" y="185" width="4" height="4" fill="#ffe800"/>
<rect x="384" y="185" width="4" height="4" fill="#ffda00"/>
<rect x="388" y="185" width="4" height="4" fill="#ffb700"/>
<rect x="392" y="185" width="4" height="4" fill="#ff9900"/>
<rect x="396" y="185" width="4" height="4" fill="#ff8f00"/>
<rect x="400" y="185" width="4" height="4" fill="#ff9900"/>
<rect x="404" y="185" width="4" height="4" fill="#ffae00"/>
<rect x="408" y="185" width="4" height="4" fill="#ffca00"/>
<rect x="412" y="185" width="4" height="4" fill="#ffeb00"/>
<rect x="416" y="185" width="4" height="4" fill="#feff01"/>
<rect x="420" y="185" width="4" height="4" fill="#f7ff07"/>
<rect x="424" y="185" width="4" height="4" fill="#fbff04"/>
<rect x="428" y="185" width="4" height="4" fill="#fffb00"/>
<rect x="432" y="185" width="4" height="4" fill="#ffef00"/>
<rect x="436" y="185" width="4" height="4" fill="#ffe300"/>
<rect x="440" y="185" width="4" height="4" fill="#ffd900"/>
<rect x="444" y="185" width="4" height="4" fill="#ffd200"/>
<rect x="448" y="185" width="4" height="4" fill="#ffc300"/>
<rect x="452" y="185" width="4" height="4" fill="#ffaa00"/>
<rect x="456" y="185" width="4" height="4" fill="#ff8f00"/>
<rect x="460" y="185" width="4" height="4" fill="#ff8a00"/>
<rect x="464" y="185" width="4" height="4" fill="#ff9e00"/>
<rect x="468" y="185" width="4" height="4" fill="#ffbe00"/>
<rect x="472" y="185" width="4" height="4" fill="#ffd500"/>
<rect x="476" y="185" width="4" height="4" fill="#ffe200"/>
<rect x="480" y="185" width="4" height="4" fill="#ffe300"/>
<rect x="484" y="185" width="4" height="4" fill="#ffd500"/>
<rect x="488" y="185" width="4" height="4" fill="#ffbd00"/>
<rect x="492" y="185" width="4" height="4" fill="#ffb700"/>
<rect x="496" y="185" width="4" height="4" fill="#ffce00"/>
<rect x="500" y="185" width="4" height="4" fill="#fffa00"/>
<rect x="504" y="185" width="4" height="4" fill="#d7ff28"/>
<rect x="508" y="185" width="4" height="4" fill="#aaff54"/>
<rect x="512" y="185" width="4" height="4" fill="#7cff82"/>
<rect x="516" y="185" width="4" height="4" fill="#46ffb8"/>
<rect x="520" y="185" width="4" height="4" fill="#0afff5"/>
<rect x="524" y="185" width="4" height="4" fill="#00dbff"/>
<rect x="528" y="185" width="4" height="4" fill="#00caff"/>
<rect x="532" y="185" width="4" height="4" fill="#00d6ff"/>
<rect x="536" y="185" width="4" height="4" fill="#01fffe"/>
<rect x="316" y="189" width="4" height="4" fill="#ff9500"/>
<rect x="320" y="189" width="4" height="4" fill="#ffb900"/>
<rect x="324" y="189" width="4" height="4" fill="#ffdc00"/>
<rect x="328" y="189" width="4" height="4" fill="#fffe00"/>
<rect x="332" y="189" width="4" height="4" fill="#dfff20"/>
<rect x="336" y="189" width="8" height="4" fill="#c7ff37"/>
<rect x="344" y="189" width="4" height="4" fill="#dfff20"/>
<rect x="348" y="189" width="4" height="4" fill="#faff05"/>
<rect x="352" y="189" width="4" height="4" fill="#fff000"/>
<rect x="356" y="189" width="4" height="4" fill="#ffe300"/>
<rect x="360" y="189" width="4" height="4" fill="#ffda00"/>
<rect x="364" y="189" width="4" height="4" fill="#ffd500"/>
<rect x="368" y="189" width="4" height="4" fill="#ffd300"/>
<rect x="372" y="189" width="4" height="4" fill="#ffd600"/>
<rect x="376" y="189" width="4" height="4" fill="#ffdd00"/>
<rect x="380" y="189" width="4" height="4" fill="#ffe400"/>
<rect x="384" y="189" width="4" height="4" fill="#ffdf00"/>
<rect x="388" y="189" width="4" height="4" fill="#ffce00"/>
<rect x="392" y="189" width="4" height="4" fill="#ffbc00"/>
<rect x="396" y="189" width="4" height="4" fill="#ffaf00"/>
<rect x="400" y="189" width="4" height="4" fill="#ffa800"/>
<rect x="404" y="189" width="4" height="4" fill="#ffaf00"/>
<rect x="408" y="189" width="4" height="4" fill="#ffc600"/>
<rect x="412" y="189" width="4" height="4" fill="#ffe700"/>
<rect x="416" y="189" width="4" height="4" fill="#fffa00"/>
<rect x="420" y="189" width="4" height="4" fill="#fffe00"/>
<rect x="424" y="189" width="4" height="4" fill="#fff500"/>
<rect x="428" y="189" width="4" height="4" fill="#ffe700"/>
<rect x="432" y="189" width="4" height="4" fill="#ffd200"/>
<rect x="436" y="189" width="4" height="4" fill="#ffbf00"/>
<rect x="440" y="189" width="4" height="4" fill="#ffb500"/>
<rect x="444" y="189" width="4" height="4" fill="#ffb100"/>
<rect x="448" y="189" width="4" height="4" fill="#ffa900"/>
<rect x="452" y="189" width="4" height="4" fill="#ff9d00"/>
<rect x="456" y="189" width="4" height="4" fill="#ff8f00"/>
<rect x="460" y="189" width="4" height="4" fill="#ff9000"/>
<rect x="464" y="189" width="4" height="4" fill="#ffa200"/>
<rect x="468" y="189" width="4" height="4" fill="#ffba00"/>
<rect x="472" y="189" width="4" height="4" fill="#ffc300"/>
<rect x="476" y="189" width="4" height="4" fill="#ffbf00"/>
<rect x="480" y="189" width="4" height="4" fill="#ffb900"/>
<rect x="484" y="189" width="4" height="4" fill="#ffba00"/>
<rect x="488" y="189" width="4" height="4" fill="#ffc100"/>
<rect x="492" y="189" width="4" height="4" fill="#ffd600"/>
<rect x="496" y="189" width="4" height="4" fill="#fffa00"/>
<rect x="500" y="189" width="4" height="4" fill="#d5ff29"/>
<rect x="504" y="189" width="4" height="4" fill="#aaff54"/>
<rect x="508" y="189" width="4" height="4" fill="#85ff79"/>
<rect x="512" y="189" width="4" height="4" fill="#63ff9b"/>
<rect x="516" y="189" width="4" height="4" fill="#43ffbb"/>
<rect x="520" y="189" width="4" height="4" fill="#25ffda"/>
<rect x="524" y="189" width="4" height="4" fill="#0efff1"/>
<rect x="528" y="189" width="4" height="4" fill="#03fffc"/>
<rect x="532" y="189" width="4" height="4" fill="#04fffb"/>
<rect x="536" y="189" width="4" height="4" fill="#10ffef"/>
<rect x="316" y="193" width="4" height="4" fill="#ffa500"/>
<rect x="320" y="193" width="4" height="4" fill="#ffcc00"/>
<rect x="324" y="193" width="4" height="4" fill="#fff100"/>
<rect x="328" y="193" width="4" height="4" fill="#eaff15"/>
<rect x="332" y="193" width="4" height="4" fill="#c9ff36"/>
<rect x="336" y="193" width="4" height="4" fill="#b3ff4b"/>
<rect x="340" y="193" width="4" height="4" fill="#b8ff47"/>
<rect x="344" y="193" width="4" height="4" fill="#d7ff28"/>
<rect x="348" y="193" width="4" height="4" fill="#f8ff06"/>
<rect x="352" y="193" width="4" height="4" fill="#fff000"/>
<rect x="356" y="193" width="4" height="4" fill="#ffe600"/>
<rect x="360" y="193" width="4" height="4" fill="#ffdf00"/>
<rect x="364" y="193" width="4" height="4" fill="#ffda00"/>
<rect x="368" y="193" width="4" height="4" fill="#ffd800"/>
<rect x="372" y="193" width="4" height="4" fill="#ffd900"/>
<rect x="376" y="193" width="4" height="4" fill="#ffde00"/>
<rect x="380" y="193" width="4" height="4" fill="#ffe400"/>
<rect x="384" y="193" width="4" height="4" fill="#ffe600"/>
<rect x="388" y="193" width="4" height="4" fill="#ffe300"/>
<rect x="392" y="193" width="4" height="4" fill="#ffdb00"/>
<rect x="396" y="193" width="4" height="4" fill="#ffce00"/>
<rect x="400" y="193" width="4" height="4" fill="#ffbd00"/>
<rect x="404" y="193" width="4" height="4" fill="#ffb900"/>
<rect x="408" y="193" width="4" height="4" fill="#ffc700"/>
<rect x="412" y="193" width="4" height="4" fill="#ffe000"/>
<rect x="416" y="193" width="4" height="4" fill="#ffee00"/>
<rect x="420" y="193" width="4" height="4" fill="#ffed00"/>
<rect x="424" y="193" width="4" height="4" fill="#ffe100"/>
<rect x="428" y="193" width="4" height="4" fill="#ffcf00"/>
<rect x="432" y="193" width="4" height="4" fill="#ffb700"/>
<rect x="436" y="193" width="4" height="4" fill="#ffa300"/>
<rect x="440" y="193" width="4" height="4" fill="#ff9700"/>
<rect x="444" y="193" width="4" height="4" fill="#ff9500"/>
<rect x="448" y="193" width="4" height="4" fill="#ff9200"/>
<rect x="452" y="193" width="4" height="4" fill="#ff8e00"/>
<rect x="456" y="193" width="4" height="4" fill="#ff8900"/>
<rect x="460" y="193" width="4" height="4" fill="#ff8e00"/>
<rect x="464" y="193" width="4" height="4" fill="#ff9b00"/>
<rect x="468" y="193" width="8" height="4" fill="#ffaa00"/>
<rect x="476" y="193" width="4" height="4" fill="#ff9e00"/>
<rect x="480" y="193" width="4" height="4" fill="#ff9700"/>
<rect x="484" y="193" width="4" height="4" fill="#ffa300"/>
<rect x="488" y="193" width="4" height="4" fill="#ffc100"/>
<rect x="492" y="193" width="4" height="4" fill="#ffe500"/>
<rect x="496" y="193" width="4" height="4" fill="#efff10"/>
<rect x="500" y="193" width="4" height="4" fill="#c3ff3c"/>
<rect x="504" y="193" width="4" height="4" fill="#9cff62"/>
<rect x="508" y="193" width="4" height="4" fill="#7dff81"/>
<rect x="512" y="193" width="4" height="4" fill="#63ff9b"/>
<rect x="516" y="193" width="4" height="4" fill="#50ffaf"/>
<rect x="520" y="193" width="4" height="4" fill="#41ffbd"/>
<rect x="524" y="193" width="4" height="4" fill="#36ffc9"/>
<rect x="528" y="193" width="4" height="4" fill="#2bffd4"/>
<rect x="532" y="193" width="4" height="4" fill="#22ffdd"/>
<rect x="536" y="193" width="4" height="4" fill="#19ffe5"/>
<rect x="316" y="197" width="4" height="4" fill="#ffac00"/>
<rect x="320" y="197" width="4" height="4" fill="#ffd400"/>
<rect x="324" y="197" width="4" height="4" fill="#fff700"/>
<rect x="328" y="197" width="4" height="4" fill="#e9ff15"/>
<rect x="332" y="197" width="4" height="4" fill="#d1ff2e"/>
<rect x="336" y="197" width="4" height="4" fill="#c3ff3c"/>
<rect x="340" y="197" width="4" height="4" fill="#c8ff37"/>
<rect x="344" y="197" width="4" height="4" fill="#e0ff1e"/>
<rect x="348" y="197" width="4" height="4" fill="#faff05"/>
<rect x="352" y="197" width="4" height="4" fill="#fff300"/>
<rect x="356" y="197" width="4" height="4" fill="#ffeb00"/>
<rect x="360" y="197" width="4" height="4" fill="#ffe600"/>
<rect x="364" y="197" width="4" height="4" fill="#ffe300"/>
<rect x="368" y="197" width="4" height="4" fill="#ffe200"/>
<rect x="372" y="197" width="4" height="4" fill="#ffe300"/>
<rect x="376" y="197" width="4" height="4" fill="#ffe600"/>
<rect x="380" y="197" width="4" height="4" fill="#ffea00"/>
<rect x="384" y="197" width="4" height="4" fill="#ffed00"/>
<rect x="388" y="197" width="4" height="4" fill="#fff100"/>
<rect x="392" y="197" width="4" height="4" fill="#ffee00"/>
<rect x="396" y="197" width="4" height="4" fill="#ffe400"/>
<rect x="400" y="197" width="4" height="4" fill="#ffd200"/>
<rect x="404" y="197" width="4" height="4" fill="#ffc900"/>
<rect x="408" y="197" width="4" height="4" fill="#ffcc00"/>
<rect x="412" y="197" width="4" height="4" fill="#ffd800"/>
<rect x="416" y="197" width="4" height="4" fill="#ffdb00"/>
<rect x="420" y="197" width="4" height="4" fill="#ffd300"/>
<rect x="424" y="197" width="4" height="4" fill="#ffc300"/>
<rect x="428" y="197" width="4" height="4" fill="#ffb200"/>
<rect x="432" y="197" width="4" height="4" fill="#ff9f00"/>
<rect x="436" y="197" width="4" height="4" fill="#ff8f00"/>
<rect x="440" y="197" width="4" height="4" fill="#ff8500"/>
<rect x="444" y="197" width="4" height="4" fill="#ff8000"/>
<rect x="448" y="197" width="4" height="4" fill="#ff7d00"/>
<rect x="452" y="197" width="4" height="4" fill="#ff7b00"/>
<rect x="456" y="197" width="4" height="4" fill="#ff7a00"/>
<rect x="460" y="197" width="4" height="4" fill="#ff7d00"/>
<rect x="464" y="197" width="4" height="4" fill="#ff8400"/>
<rect x="468" y="197" width="8" height="4" fill="#ff8a00"/>
<rect x="476" y="197" width="4" height="4" fill="#ff8300"/>
<rect x="480" y="197" width="4" height="4" fill="#ff8400"/>
<rect x="484" y="197" width="4" height="4" fill="#ff9700"/>
<rect x="488" y="197" width="4" height="4" fill="#ffba00"/>
<rect x="492" y="197" width="4" height="4" fill="#ffe000"/>
<rect x="496" y="197" width="4" height="4" fill="#f8ff07"/>
<rect x="500" y="197" width="4" height="4" fill="#d3ff2c"/>
<rect x="504" y="197" width="4" height="4" fill="#b2ff4c"/>
<rect x="508" y="197" width="4" height="4" fill="#96ff68"/>
<rect x="512" y="197" width="4" height="4" fill="#7dff81"/>
<rect x="516" y="197" width="4" height="4" fill="#68ff96"/>
<rect x="520" y="197" width="4" height="4" fill="#55ffa9"/>
<rect x="524" y="197" width="4" height="4" fill="#44ffba"/>
<rect x="528" y="197" width="4" height="4" fill="#34ffcb"/>
<rect x="532" y="197" width="4" height="4" fill="#25ffda"/>
<rect x="536" y="197" width="4" height="4" fill="#16ffe9"/>
<rect x="316" y="201" width="4" height="4" fill="#ffa900"/>
<rect x="320" y="201" width="4" height="4" fill="#ffd000"/>
<rect x="324" y="201" width="4" height="4" fill="#ffee00"/>
<rect x="328" y="201" width="4" height="4" fill="#fbff04"/>
<rect x="332" y="201" width="4" height="4" fill="#efff0f"/>
<rect x="336" y="201" width="4" height="4" fill="#ecff13"/>
<rect x="340" y="201" width="4" height="4" fill="#eeff10"/>
<rect x="344" y="201" width="4" height="4" fill="#f7ff08"/>
<rect x="348" y="201" width="4" height="4" fill="#fffe00"/>
<rect x="352" y="201" width="4" height="4" fill="#fff700"/>
<rect x="356" y="201" width="4" height="4" fill="#fff100"/>
<rect x="360" y="201" width="4" height="4" fill="#ffee00"/>
<rect x="364" y="201" width="4" height="4" fill="#ffed00"/>
<rect x="368" y="201" width="4" height="4" fill="#ffee00"/>
<rect x="372" y="201" width="4" height="4" fill="#ffef00"/>
<rect x="376" y="201" width="4" height="4" fill="#fff000"/>
<rect x="380" y="201" width="4" height="4" fill="#fff200"/>
<rect x="384" y="201" width="4" height="4" fill="#fff400"/>
<rect x="388" y="201" width="4" height="4" fill="#fff600"/>
<rect x="392" y="201" width="4" height="4" fill="#fff500"/>
<rect x="396" y="201" width="4" height="4" fill="#ffef00"/>
<rect x="400" y="201" width="4" height="4" fill="#ffe500"/>
<rect x="404" y="201" width="4" height="4" fill="#ffdb00"/>
<rect x="408" y="201" width="4" height="4" fill="#ffd400"/>
<rect x="412" y="201" width="4" height="4" fill="#ffcd00"/>
<rect x="416" y="201" width="4" height="4" fill="#ffc200"/>
<rect x="420" y="201" width="4" height="4" fill="#ffb100"/>
<rect x="424" y="201" width="4" height="4" fill="#ff9f00"/>
<rect x="428" y="201" width="4" height="4" fill="#ff9100"/>
<rect x="432" y="201" width="4" height="4" fill="#ff8800"/>
<rect x="436" y="201" width="4" height="4" fill="#ff8100"/>
<rect x="440" y="201" width="4" height="4" fill="#ff7900"/>
<rect x="444" y="201" width="4" height="4" fill="#ff7100"/>
<rect x="448" y="201" width="4" height="4" fill="#ff6a00"/>
<rect x="452" y="201" width="4" height="4" fill="#ff6500"/>
<rect x="456" y="201" width="4" height="4" fill="#ff6300"/>
<rect x="460" y="201" width="4" height="4" fill="#ff6100"/>
<rect x="464" y="201" width="4" height="4" fill="#ff6000"/>
<rect x="468" y="201" width="4" height="4" fill="#ff6100"/>
<rect x="472" y="201" width="4" height="4" fill="#ff6600"/>
<rect x="476" y="201" width="4" height="4" fill="#ff6f00"/>
<rect x="480" y="201" width="4" height="4" fill="#ff7d00"/>
<rect x="484" y="201" width="4" height="4" fill="#ff9200"/>
<rect x="488" y="201" width="4" height="4" fill="#ffae00"/>
<rect x="492" y="201" width="4" height="4" fill="#ffcb00"/>
<rect x="496" y="201" width="4" height="4" fill="#ffe700"/>
<rect x="500" y="201" width="4" height="4" fill="#fcff03"/>
<rect x="504" y="201" width="4" height="4" fill="#e0ff1e"/>
<rect x="508" y="201" width="4" height="4" fill="#c4ff3a"/>
<rect x="512" y="201" width="4" height="4" fill="#a7ff57"/>
<rect x="516" y="201" width="4" height="4" fill="#86ff78"/>
<rect x="520" y="201" width="4" height="4" fill="#61ff9d"/>
<rect x="524" y="201" width="4" height="4" fill="#3fffbf"/>
<rect x="528" y="201" width="4" height="4" fill="#25ffd9"/>
<rect x="532" y="201" width="4" height="4" fill="#13ffec"/>
<rect x="536" y="201" width="4" height="4" fill="#09fff6"/>
<rect x="316" y="205" width="4" height="4" fill="#ffa400"/>
<rect x="320" y="205" width="4" height="4" fill="#ffc800"/>
<rect x="324" y="205" width="4" height="4" fill="#ffe200"/>
<rect x="328" y="205" width="4" height="4" fill="#fff100"/>
<rect x="332" y="205" width="4" height="4" fill="#fff400"/>
<rect x="336" y="205" width="8" height="4" fill="#fff200"/>
<rect x="344" y="205" width="4" height="4" fill="#fff500"/>
<rect x="348" y="205" width="8" height="4" fill="#fff700"/>
<rect x="356" y="205" width="4" height="4" fill="#fff500"/>
<rect x="360" y="205" width="4" height="4" fill="#fff300"/>
<rect x="364" y="205" width="16" height="4" fill="#fff200"/>
<rect x="380" y="205" width="16" height="4" fill="#fff100"/>
<rect x="396" y="205" width="4" height="4" fill="#ffee00"/>
<rect x="400" y="205" width="4" height="4" fill="#ffe800"/>
<rect x="404" y="205" width="4" height="4" fill="#ffde00"/>
<rect x="408" y="205" width="4" height="4" fill="#ffcf00"/>
<rect x="412" y="205" width="4" height="4" fill="#ffbb00"/>
<rect x="416" y="205" width="4" height="4" fill="#ffa600"/>
<rect x="420" y="205" width="4" height="4" fill="#ff9100"/>
<rect x="424" y="205" width="4" height="4" fill="#ff7e00"/>
<rect x="428" y="205" width="4" height="4" fill="#ff7300"/>
<rect x="432" y="205" width="4" height="4" fill="#ff7100"/>
<rect x="436" y="205" width="4" height="4" fill="#ff6f00"/>
<rect x="440" y="205" width="4" height="4" fill="#ff6800"/>
<rect x="444" y="205" width="4" height="4" fill="#ff5c00"/>
<rect x="448" y="205" width="4" height="4" fill="#ff5300"/>
<rect x="452" y="205" width="4" height="4" fill="#ff4c00"/>
<rect x="456" y="205" width="4" height="4" fill="#ff4800"/>
<rect x="460" y="205" width="4" height="4" fill="#ff4400"/>
<rect x="464" y="205" width="4" height="4" fill="#ff4100"/>
<rect x="468" y="205" width="4" height="4" fill="#ff4200"/>
<rect x="472" y="205" width="4" height="4" fill="#ff4d00"/>
<rect x="476" y="205" width="4" height="4" fill="#ff6100"/>
<rect x="480" y="205" width="4" height="4" fill="#ff7900"/>
<rect x="484" y="205" width="4" height="4" fill="#ff9000"/>
<rect x="488" y="205" width="4" height="4" fill="#ffa600"/>
<rect x="492" y="205" width="4" height="4" fill="#ffbc00"/>
<rect x="496" y="205" width="4" height="4" fill="#ffd100"/>
<rect x="500" y="205" width="4" height="4" fill="#ffe700"/>
<rect x="504" y="205" width="4" height="4" fill="#feff01"/>
<rect x="508" y="205" width="4" height="4" fill="#dfff20"/>
<rect x="512" y="205" width="4" height="4" fill="#bbff43"/>
<rect x="516" y="205" width="4" height="4" fill="#92ff6c"/>
<rect x="520" y="205" width="4" height="4" fill="#64ff9a"/>
<rect x="524" y="205" width="4" height="4" fill="#3affc4"/>
<rect x="528" y="205" width="4" height="4" fill="#1bffe3"/>
<rect x="532" y="205" width="4" height="4" fill="#07fff8"/>
<rect x="536" y="205" width="4" height="4" fill="#00fcff"/>
<rect x="316" y="209" width="4" height="4" fill="#ff9d00"/>
<rect x="320" y="209" width="4" height="4" fill="#ffbd00"/>
<rect x="324" y="209" width="4" height="4" fill="#ffd200"/>
<rect x="328" y="209" width="4" height="4" fill="#ffdf00"/>
<rect x="332" y="209" width="4" height="4" fill="#ffe100"/>
<rect x="336" y="209" width="4" height="4" fill="#ffdf00"/>
<rect x="340" y="209" width="4" height="4" fill="#ffe100"/>
<rect x="344" y="209" width="4" height="4" fill="#ffe700"/>
<rect x="348" y="209" width="4" height="4" fill="#ffee00"/>
<rect x="352" y="209" width="4" height="4" fill="#fff200"/>
<rect x="356" y="209" width="8" height="4" fill="#fff400"/>
<rect x="364" y="209" width="4" height="4" fill="#fff300"/>
<rect x="368" y="209" width="4" height="4" fill="#ffef00"/>
<rect x="372" y="209" width="4" height="4" fill="#ffec00"/>
<rect x="376" y="209" width="4" height="4" fill="#ffe900"/>
<rect x="380" y="209" width="4" height="4" fill="#ffe700"/>
<rect x="384" y="209" width="4" height="4" fill="#ffe500"/>
<rect x="388" y="209" width="4" height="4" fill="#ffe300"/>
<rect x="392" y="209" width="4" height="4" fill="#ffe100"/>
<rect x="396" y="209" width="4" height="4" fill="#ffde00"/>
<rect x="400" y="209" width="4" height="4" fill="#ffda00"/>
<rect x="404" y="209" width="4" height="4" fill="#ffcf00"/>
<rect x="408" y="209" width="4" height="4" fill="#ffbc00"/>
<rect x="412" y="209" width="4" height="4" fill="#ffa200"/>
<rect x="416" y="209" width="4" height="4" fill="#ff8900"/>
<rect x="420" y="209" width="4" height="4" fill="#ff7200"/>
<rect x="424" y="209" width="4" height="4" fill="#ff6000"/>
<rect x="428" y="209" width="12" height="4" fill="#ff5800"/>
<rect x="440" y="209" width="4" height="4" fill="#ff5000"/>
<rect x="444" y="209" width="4" height="4" fill="#ff4300"/>
<rect x="448" y="209" width="4" height="4" fill="#ff3700"/>
<rect x="452" y="209" width="4" height="4" fill="#ff2f00"/>
<rect x="456" y="209" width="4" height="4" fill="#ff2b00"/>
<rect x="460" y="209" width="4" height="4" fill="#ff2900"/>
<rect x="464" y="209" width="4" height="4" fill="#ff2a00"/>
<rect x="468" y="209" width="4" height="4" fill="#ff3000"/>
<rect x="472" y="209" width="4" height="4" fill="#ff4000"/>
<rect x="476" y="209" width="4" height="4" fill="#ff5a00"/>
<rect x="480" y="209" width="4" height="4" fill="#ff7600"/>
<rect x="484" y="209" width="4" height="4" fill="#ff8e00"/>
<rect x="488" y="209" width="4" height="4" fill="#ffa300"/>
<rect x="492" y="209" width="4" height="4" fill="#ffb600"/>
<rect x="496" y="209" width="4" height="4" fill="#ffc900"/>
<rect x="500" y="209" width="4" height="4" fill="#ffdc00"/>
<rect x="504" y="209" width="4" height="4" fill="#fff800"/>
<rect x="508" y="209" width="4" height="4" fill="#e1ff1e"/>
<rect x="512" y="209" width="4" height="4" fill="#b6ff48"/>
<rect x="516" y="209" width="4" height="4" fill="#8bff74"/>
<rect x="520" y="209" width="4" height="4" fill="#5fffa0"/>
<rect x="524" y="209" width="4" height="4" fill="#38ffc7"/>
<rect x="528" y="209" width="4" height="4" fill="#19ffe6"/>
<rect x="532" y="209" width="4" height="4" fill="#03fffc"/>
<rect x="536" y="209" width="4" height="4" fill="#00f4ff"/>
<rect x="316" y="213" width="4" height="4" fill="#ff9900"/>
<rect x="320" y="213" width="4" height="4" fill="#ffb200"/>
<rect x="324" y="213" width="4" height="4" fill="#ffc500"/>
<rect x="328" y="213" width="4" height="4" fill="#ffd100"/>
<rect x="332" y="213" width="4" height="4" fill="#ffd600"/>
<rect x="336" y="213" width="4" height="4" fill="#ffd800"/>
<rect x="340" y="213" width="4" height="4" fill="#ffdb00"/>
<rect x="344" y="213" width="4" height="4" fill="#ffe000"/>
<rect x="348" y="213" width="4" height="4" fill="#ffe600"/>
<rect x="352" y="213" width="4" height="4" fill="#ffec00"/>
<rect x="356" y="213" width="4" height="4" fill="#fff100"/>
<rect x="360" y="213" width="4" height="4" fill="#fff300"/>
<rect x="364" y="213" width="4" height="4" fill="#ffef00"/>
<rect x="368" y="213" width="4" height="4" fill="#ffe800"/>
<rect x="372" y="213" width="4" height="4" fill="#ffe100"/>
<rect x="376" y="213" width="4" height="4" fill="#ffdd00"/>
<rect x="380" y="213" width="4" height="4" fill="#ffd900"/>
<rect x="384" y="213" width="4" height="4" fill="#ffd500"/>
<rect x="388" y="213" width="4" height="4" fill="#ffd100"/>
<rect x="392" y="213" width="4" height="4" fill="#ffcd00"/>
<rect x="396" y="213" width="4" height="4" fill="#ffc900"/>
<rect x="400" y="213" width="4" height="4" fill="#ffc500"/>
<rect x="404" y="213" width="4" height="4" fill="#ffb900"/>
<rect x="408" y="213" width="4" height="4" fill="#ffa500"/>
<rect x="412" y="213" width="4" height="4" fill="#ff8a00"/>
<rect x="416" y="213" width="4" height="4" fill="#ff7200"/>
<rect x="420" y="213" width="4" height="4" fill="#ff5d00"/>
<rect x="424" y="213" width="4" height="4" fill="#ff4d00"/>
<rect x="428" y="213" width="4" height="4" fill="#ff4500"/>
<rect x="432" y="213" width="8" height="4" fill="#ff4700"/>
<rect x="440" y="213" width="4" height="4" fill="#ff3e00"/>
<rect x="444" y="213" width="4" height="4" fill="#ff2d00"/>
<rect x="448" y="213" width="4" height="4" fill="#ff1f00"/>
<rect x="452" y="213" width="4" height="4" fill="#ff1600"/>
<rect x="456" y="213" width="4" height="4" fill="#ff1200"/>
<rect x="460" y="213" width="4" height="4" fill="#ff1400"/>
<rect x="464" y="213" width="4" height="4" fill="#ff1b00"/>
<rect x="468" y="213" width="4" height="4" fill="#ff2800"/>
<rect x="472" y="213" width="4" height="4" fill="#ff3d00"/>
<rect x="476" y="213" width="4" height="4" fill="#ff5a00"/>
<rect x="480" y="213" width="4" height="4" fill="#ff7600"/>
<rect x="484" y="213" width="4" height="4" fill="#ff9000"/>
<rect x="488" y="213" width="4" height="4" fill="#ffa600"/>
<rect x="492" y="213" width="4" height="4" fill="#ffba00"/>
<rect x="496" y="213" width="4" height="4" fill="#ffcd00"/>
<rect x="500" y="213" width="4" height="4" fill="#ffe100"/>
<rect x="504" y="213" width="4" height="4" fill="#feff01"/>
<rect x="508" y="213" width="4" height="4" fill="#d2ff2d"/>
<rect x="512" y="213" width="4" height="4" fill="#a1ff5d"/>
<rect x="516" y="213" width="4" height="4" fill="#76ff89"/>
<rect x="520" y="213" width="4" height="4" fill="#50ffaf"/>
<rect x="524" y="213" width="4" height="4" fill="#2effd1"/>
<rect x="528" y="213" width="4" height="4" fill="#11ffee"/>
<rect x="532" y="213" width="4" height="4" fill="#00f7ff"/>
<rect x="536" y="213" width="4" height="4" fill="#00e1ff"/>
<rect x="316" y="217" width="4" height="4" fill="#ff9a00"/>
<rect x="320" y="217" width="4" height="4" fill="#ffb100"/>
<rect x="324" y="217" width="4" height="4" fill="#ffc200"/>
<rect x="328" y="217" width="4" height="4" fill="#ffce00"/>
<rect x="332" y="217" width="4" height="4" fill="#ffd500"/>
<rect x="336" y="217" width="4" height="4" fill="#ffd800"/>
<rect x="340" y="217" width="4" height="4" fill="#ffdc00"/>
<rect x="344" y="217" width="4" height="4" fill="#ffdf00"/>
<rect x="348" y="217" width="4" height="4" fill="#ffe400"/>
<rect x="352" y="217" width="4" height="4" fill="#ffe900"/>
<rect x="356" y="217" width="4" height="4" fill="#fff000"/>
<rect x="360" y="217" width="4" height="4" fill="#fff100"/>
<rect x="364" y="217" width="4" height="4" fill="#ffec00"/>
<rect x="368" y="217" width="4" height="4" fill="#ffe200"/>
<rect x="372" y="217" width="4" height="4" fill="#ffda00"/>
<rect x="376" y="217" width="4" height="4" fill="#ffd500"/>
<rect x="380" y="217" width="4" height="4" fill="#ffd100"/>
<rect x="384" y="217" width="4" height="4" fill="#ffcd00"/>
<rect x="388" y="217" width="4" height="4" fill="#ffc700"/>
<rect x="392" y="217" width="4" height="4" fill="#ffc200"/>
<rect x="396" y="217" width="4" height="4" fill="#ffbe00"/>
<rect x="400" y="217" width="4" height="4" fill="#ffb900"/>
<rect x="404" y="217" width="4" height="4" fill="#ffae00"/>
<rect x="408" y="217" width="4" height="4" fill="#ff9b00"/>
<rect x="412" y="217" width="4" height="4" fill="#ff8200"/>
<rect x="416" y="217" width="4" height="4" fill="#ff6c00"/>
<rect x="420" y="217" width="4" height="4" fill="#ff5900"/>
<rect x="424" y="217" width="4" height="4" fill="#ff4c00"/>
<rect x="428" y="217" width="4" height="4" fill="#ff4800"/>
<rect x="432" y="217" width="4" height="4" fill="#ff4d00"/>
<rect x="436" y="217" width="4" height="4" fill="#ff4e00"/>
<rect x="440" y="217" width="4" height="4" fill="#ff4300"/>
<rect x="444" y="217" width="4" height="4" fill="#ff2c00"/>
<rect x="448" y="217" width="4" height="4" fill="#ff1800"/>
<rect x="452" y="217" width="12" height="4" fill="#ff0d00"/>
<rect x="464" y="217" width="4" height="4" fill="#ff1800"/>
<rect x="468" y="217" width="4" height="4" fill="#ff2b00"/>
<rect x="472" y="217" width="4" height="4" fill="#ff4200"/>
<rect x="476" y="217" width="4" height="4" fill="#ff5e00"/>
<rect x="480" y="217" width="4" height="4" fill="#ff7b00"/>
<rect x="484" y="217" width="4" height="4" fill="#ff9600"/>
<rect x="488" y="217" width="4" height="4" fill="#ffb000"/>
<rect x="492" y="217" width="4" height="4" fill="#ffc700"/>
<rect x="496" y="217" width="4" height="4" fill="#ffdc00"/>
<rect x="500" y="217" width="4" height="4" fill="#fff100"/>
<rect x="504" y="217" width="4" height="4" fill="#ebff13"/>
<rect x="508" y="217" width="4" height="4" fill="#beff41"/>
<rect x="512" y="217" width="4" height="4" fill="#8bff73"/>
<rect x="516" y="217" width="4" height="4" fill="#5dffa1"/>
<rect x="520" y="217" width="4" height="4" fill="#34ffca"/>
<rect x="524" y="217" width="4" height="4" fill="#0fffef"/>
<rect x="528" y="217" width="4" height="4" fill="#00ecff"/>
<rect x="532" y="217" width="4" height="4" fill="#00ccff"/>
<rect x="536" y="217" width="4" height="4" fill="#00aeff"/>
<rect x="316" y="221" width="4" height="4" fill="#ffa300"/>
<rect x="320" y="221" width="4" height="4" fill="#ffb900"/>
<rect x="324" y="221" width="4" height="4" fill="#ffca00"/>
<rect x="328" y="221" width="4" height="4" fill="#ffd600"/>
<rect x="332" y="221" width="4" height="4" fill="#ffdd00"/>
<rect x="336" y="221" width="4" height="4" fill="#ffe100"/>
<rect x="340" y="221" width="4" height="4" fill="#ffe400"/>
<rect x="344" y="221" width="4" height="4" fill="#ffe600"/>
<rect x="348" y="221" width="4" height="4" fill="#ffe800"/>
<rect x="352" y="221" width="4" height="4" fill="#ffeb00"/>
<rect x="356" y="221" width="8" height="4" fill="#ffef00"/>
<rect x="364" y="221" width="4" height="4" fill="#ffe900"/>
<rect x="368" y="221" width="4" height="4" fill="#ffdf00"/>
<rect x="372" y="221" width="4" height="4" fill="#ffd700"/>
<rect x="376" y="221" width="4" height="4" fill="#ffd200"/>
<rect x="380" y="221" width="4" height="4" fill="#ffcf00"/>
<rect x="384" y="221" width="4" height="4" fill="#ffcb00"/>
<rect x="388" y="221" width="4" height="4" fill="#ffc500"/>
<rect x="392" y="221" width="4" height="4" fill="#ffc000"/>
<rect x="396" y="221" width="4" height="4" fill="#ffbb00"/>
<rect x="400" y="221" width="4" height="4" fill="#ffb700"/>
<rect x="404" y="221" width="4" height="4" fill="#ffae00"/>
<rect x="408" y="221" width="4" height="4" fill="#ff9e00"/>
<rect x="412" y="221" width="4" height="4" fill="#ff8a00"/>
<rect x="416" y="221" width="4" height="4" fill="#ff7800"/>
<rect x="420" y="221" width="4" height="4" fill="#ff6800"/>
<rect x="424" y="221" width="4" height="4" fill="#ff5e00"/>
<rect x="428" y="221" width="4" height="4" fill="#ff5f00"/>
<rect x="432" y="221" width="4" height="4" fill="#ff6b00"/>
<rect x="436" y="221" width="4" height="4" fill="#ff6f00"/>
<rect x="440" y="221" width="4" height="4" fill="#ff5f00"/>
<rect x="444" y="221" width="4" height="4" fill="#ff3e00"/>
<rect x="448" y="221" width="4" height="4" fill="#ff2300"/>
<rect x="452" y="221" width="4" height="4" fill="#ff1300"/>
<rect x="456" y="221" width="4" height="4" fill="#ff0e00"/>
<rect x="460" y="221" width="4" height="4" fill="#ff1300"/>
<rect x="464" y="221" width="4" height="4" fill="#ff2200"/>
<rect x="468" y="221" width="4" height="4" fill="#ff3800"/>
<rect x="472" y="221" width="4" height="4" fill="#ff4f00"/>
<rect x="476" y="221" width="4" height="4" fill="#ff6800"/>
<rect x="480" y="221" width="4" height="4" fill="#ff8400"/>
<rect x="484" y="221" width="4" height="4" fill="#ffa200"/>
<rect x="488" y="221" width="4" height="4" fill="#ffc100"/>
<rect x="492" y="221" width="4" height="4" fill="#ffde00"/>
<rect x="496" y="221" width="4" height="4" fill="#fff700"/>
<rect x="500" y="221" width="4" height="4" fill="#f0ff0f"/>
<rect x="504" y="221" width="4" height="4" fill="#d0ff2f"/>
<rect x="508" y="221" width="4" height="4" fill="#a5ff5a"/>
<rect x="512" y="221" width="4" height="4" fill="#73ff8b"/>
<rect x="516" y="221" width="4" height="4" fill="#41ffbe"/>
<rect x="520" y="221" width="4" height="4" fill="#0dfff2"/>
<rect x="524" y="221" width="4" height="4" fill="#00daff"/>
<rect x="528" y="221" width="4" height="4" fill="#00acff"/>
<rect x="532" y="221" width="4" height="4" fill="#0081ff"/>
<rect x="536" y="221" width="4" height="4" fill="#005aff"/>
<rect x="316" y="225" width="4" height="3" fill="#ffb000"/>
<rect x="320" y="225" width="4" height="3" fill="#ffc700"/>
<rect x="324" y="225" width="4" height="3" fill="#ffd900"/>
<rect x="328" y="225" width="4" height="3" fill="#ffe500"/>
<rect x="332" y="225" width="4" height="3" fill="#ffec00"/>
<rect x="336" y="225" width="4" height="3" fill="#ffef00"/>
<rect x="340" y="225" width="4" height="3" fill="#fff000"/>
<rect x="344" y="225" width="8" height="3" fill="#fff100"/>
<rect x="352" y="225" width="8" height="3" fill="#fff000"/>
<rect x="360" y="225" width="4" height="3" fill="#ffec00"/>
<rect x="364" y="225" width="4" height="3" fill="#ffe600"/>
<rect x="368" y="225" width="4" height="3" fill="#ffdd00"/>
<rect x="372" y="225" width="4" height="3" fill="#ffd700"/>
<rect x="376" y="225" width="4" height="3" fill="#ffd400"/>
<rect x="380" y="225" width="4" height="3" fill="#ffd300"/>
<rect x="384" y="225" width="4" height="3" fill="#ffcf00"/>
<rect x="388" y="225" width="4" height="3" fill="#ffca00"/>
<rect x="392" y="225" width="4" height="3" fill="#ffc500"/>
<rect x="396" y="225" width="4" height="3" fill="#ffc100"/>
<rect x="400" y="225" width="4" height="3" fill="#ffbd00"/>
<rect x="404" y="225" width="4" height="3" fill="#ffb700"/>
<rect x="408" y="225" width="4" height="3" fill="#ffac00"/>
<rect x="412" y="225" width="4" height="3" fill="#ff9e00"/>
<rect x="416" y="225" width="4" height="3" fill="#ff9100"/>
<rect x="420" y="225" width="4" height="3" fill="#ff8400"/>
<rect x="424" y="225" width="4" height="3" fill="#ff7e00"/>
<rect x="428" y="225" width="4" height="3" fill="#ff8400"/>
<rect x="432" y="225" width="4" height="3" fill="#ff9800"/>
<rect x="436" y="225" width="4" height="3" fill="#ff9f00"/>
<rect x="440" y="225" width="4" height="3" fill="#ff8b00"/>
<rect x="444" y="225" width="4" height="3" fill="#ff6000"/>
<rect x="448" y="225" width="4" height="3" fill="#ff3b00"/>
<rect x="452" y="225" width="4" height="3" fill="#ff2600"/>
<rect x="456" y="225" width="4" height="3" fill="#ff2000"/>
<rect x="460" y="225" width="4" height="3" fill="#ff2500"/>
<rect x="464" y="225" width="4" height="3" fill="#ff3500"/>
<rect x="468" y="225" width="4" height="3" fill="#ff4b00"/>
<rect x="472" y="225" width="4" height="3" fill="#ff6000"/>
<rect x="476" y="225" width="4" height="3" fill="#ff7600"/>
<rect x="480" y="225" width="4" height="3" fill="#ff8f00"/>
<rect x="484" y="225" width="4" height="3" fill="#ffb000"/>
<rect x="488" y="225" width="4" height="3" fill="#ffd700"/>
<rect x="492" y="225" width="4" height="3" fill="#fffa00"/>
<rect x="496" y="225" width="4" height="3" fill="#e7ff18"/>
<rect x="500" y="225" width="4" height="3" fill="#ceff31"/>
<rect x="504" y="225" width="4" height="3" fill="#afff4f"/>
<rect x="508" y="225" width="4" height="3" fill="#8bff73"/>
<rect x="512" y="225" width="4" height="3" fill="#5effa1"/>
<rect x="516" y="225" width="4" height="3" fill="#25ffda"/>
<rect x="520" y="225" width="4" height="3" fill="#00dfff"/>
<rect x="524" y="225" width="4" height="3" fill="#009aff"/>
<rect x="528" y="225" width="4" height="3" fill="#005dff"/>
<rect x="532" y="225" width="4" height="3" fill="#0026ff"/>
<rect x="536" y="225" width="4" height="3" fill="#0000f6"/>
<rect x="316" y="161" width="2" height="2" fill="#fff"/></g>
<rect x="73" y="10" width="182" height="2" fill="#000"/>
<rect x="255" y="10" width="45" height="1" fill="#a8a8a8"/>
<rect x="255" y="11" width="44" height="1" fill="#fff"/>
<rect x="72" y="79" width="183" height="2" fill="#000"/>
<rect x="255" y="80" width="45" height="1" fill="#a8a8a8"/>
<rect x="255" y="79" width="44" height="1" fill="#fff"/>
<rect x="72" y="10" width="1" height="20" fill="#a8a8a8"/>
<rect x="73" y="12" width="1" height="18" fill="#fff"/>
<rect x="72" y="30" width="2" height="51" fill="#000"/>
<rect x="299" y="10" width="1" height="20" fill="#a8a8a8"/>
<rect x="298" y="11" width="1" height="19" fill="#fff"/>
<rect x="298" y="30" width="2" height="51" fill="#000"/>
<rect x="95" y="5" width="1" height="5" fill="#5a5a5a"/>
<rect x="95" y="81" width="1" height="5" fill="#5a5a5a"/>
<rect x="175" y="5" width="1" height="5" fill="#5a5a5a"/>
<rect x="175" y="81" width="1" height="5" fill="#5a5a5a"/>
<rect x="254" y="5" width="1" height="5" fill="#5a5a5a"/>
<rect x="254" y="81" width="1" height="5" fill="#5a5a5a"/>
<rect x="67" y="29" width="5" height="1" fill="#5a5a5a"/>
<rect x="300" y="29" width="5" height="1" fill="#5a5a5a"/>
<rect x="67" y="50" width="5" height="1" fill="#5a5a5a"/>
<rect x="300" y="50" width="5" height="1" fill="#5a5a5a"/>
<rect x="67" y="69" width="5" height="1" fill="#5a5a5a"/>
<rect x="300" y="69" width="5" height="1" fill="#5a5a5a"/>
<rect x="315" y="10" width="182" height="2" fill="#000"/>
<rect x="497" y="10" width="45" height="1" fill="#a8a8a8"/>
<rect x="497" y="11" width="44" height="1" fill="#fff"/>
<rect x="314" y="79" width="183" height="2" fill="#000"/>
<rect x="497" y="80" width="45" height="1" fill="#a8a8a8"/>
<rect x="497" y="79" width="44" height="1" fill="#fff"/>
<rect x="314" y="10" width="1" height="20" fill="#a8a8a8"/>
<rect x="315" y="12" width="1" height="18" fill="#fff"/>
<rect x="314" y="30" width="2" height="51" fill="#000"/>
<rect x="541" y="10" width="1" height="20" fill="#a8a8a8"/>
<rect x="540" y="11" width="1" height="19" fill="#fff"/>
<rect x="540" y="30" width="2" height="51" fill="#000"/>
<rect x="337" y="5" width="1" height="5" fill="#5a5a5a"/>
<rect x="337" y="81" width="1" height="5" fill="#5a5a5a"/>
<rect x="417" y="5" width="1" height="5" fill="#5a5a5a"/>
<rect x="417" y="81" width="1" height="5" fill="#5a5a5a"/>
<rect x="496" y="5" width="1" height="5" fill="#5a5a5a"/>
<rect x="496" y="81" width="1" height="5" fill="#5a5a5a"/>
<rect x="309" y="29" width="5" height="1" fill="#5a5a5a"/>
<rect x="542" y="29" width="5" height="1" fill="#5a5a5a"/>
<rect x="309" y="50" width="5" height="1" fill="#5a5a5a"/>
<rect x="542" y="50" width="5" height="1" fill="#5a5a5a"/>
<rect x="309" y="69" width="5" height="1" fill="#5a5a5a"/>
<rect x="542" y="69" width="5" height="1" fill="#5a5a5a"/>
<rect x="73" y="159" width="182" height="2" fill="#000"/>
<rect x="255" y="159" width="45" height="1" fill="#a8a8a8"/>
<rect x="255" y="160" width="44" height="1" fill="#fff"/>
<rect x="72" y="228" width="183" height="2" fill="#000"/>
<rect x="255" y="229" width="45" height="1" fill="#a8a8a8"/>
<rect x="255" y="228" width="44" height="1" fill="#fff"/>
<rect x="72" y="159" width="1" height="20" fill="#a8a8a8"/>
<rect x="73" y="161" width="1" height="18" fill="#fff"/>
<rect x="72" y="179" width="2" height="51" fill="#000"/>
<rect x="299" y="159" width="1" height="20" fill="#a8a8a8"/>
<rect x="298" y="160" width="1" height="19" fill="#fff"/>
<rect x="298" y="179" width="2" height="51" fill="#000"/>
<rect x="95" y="154" width="1" height="5" fill="#5a5a5a"/>
<rect x="95" y="230" width="1" height="5" fill="#5a5a5a"/>
<rect x="175" y="154" width="1" height="5" fill="#5a5a5a"/>
<rect x="175" y="230" width="1" height="5" fill="#5a5a5a"/>
<rect x="254" y="154" width="1" height="5" fill="#5a5a5a"/>
<rect x="254" y="230" width="1" height="5" fill="#5a5a5a"/>
<rect x="67" y="178" width="5" height="1" fill="#5a5a5a"/>
<rect x="300" y="178" width="5" height="1" fill="#5a5a5a"/>
<rect x="67" y="199" width="5" height="1" fill="#5a5a5a"/>
<rect x="300" y="199" width="5" height="1" fill="#5a5a5a"/>
<rect x="67" y="218" width="5" height="1" fill="#5a5a5a"/>
<rect x="300" y="218" width="5" height="1" fill="#5a5a5a"/>
<rect x="315" y="159" width="182" height="2" fill="#000"/>
<rect x="497" y="159" width="45" height="1" fill="#a8a8a8"/>
<rect x="497" y="160" width="44" height="1" fill="#fff"/>
<rect x="314" y="228" width="183" height="2" fill="#000"/>
<rect x="497" y="229" width="45" height="1" fill="#a8a8a8"/>
<rect x="497" y="228" width="44" height="1" fill="#fff"/>
<rect x="314" y="159" width="1" height="20" fill="#a8a8a8"/>
<rect x="315" y="161" width="1" height="18" fill="#fff"/>
<rect x="314" y="179" width="2" height="51" fill="#000"/>
<rect x="541" y="159" width="1" height="20" fill="#a8a8a8"/>
<rect x="540" y="160" width="1" height="19" fill="#fff"/>
<rect x="540" y="179" width="2" height="51" fill="#000"/>
<rect x="337" y="154" width="1" height="5" fill="#5a5a5a"/>
<rect x="337" y="230" width="1" height="5" fill="#5a5a5a"/>
<rect x="417" y="154" width="1" height="5" fill="#5a5a5a"/>
<rect x="417" y="230" width="1" height="5" fill="#5a5a5a"/>
<rect x="496" y="154" width="1" height="5" fill="#5a5a5a"/>
<rect x="496" y="230" width="1" height="5" fill="#5a5a5a"/>
<rect x="309" y="178" width="5" height="1" fill="#5a5a5a"/>
<rect x="542" y="178" width="5" height="1" fill="#5a5a5a"/>
<rect x="309" y="199" width="5" height="1" fill="#5a5a5a"/>
<rect x="542" y="199" width="5" height="1" fill="#5a5a5a"/>
<rect x="309" y="218" width="5" height="1" fill="#5a5a5a"/>
<rect x="542" y="218" width="5" height="1" fill="#5a5a5a"/>
<text x="294.6" y="26.0" font-size="18.2" text-anchor="end" style="stroke-width:0.2px" textLength="20.7" lengthAdjust="spacingAndGlyphs">(a)</text>
<text x="536.6" y="26.0" font-size="18.2" text-anchor="end" style="stroke-width:0.2px" textLength="20.7" lengthAdjust="spacingAndGlyphs">(b)</text>
<text x="294.6" y="175.0" font-size="18.2" text-anchor="end" style="stroke-width:0.2px" textLength="20.7" lengthAdjust="spacingAndGlyphs">(c)</text>
<text x="536.6" y="175.0" font-size="18.2" text-anchor="end" style="stroke-width:0.2px" textLength="20.7" lengthAdjust="spacingAndGlyphs">(d)</text>
<text x="61.3" y="34.6" font-size="13.3" text-anchor="end">54°54'00&quot;</text>
<text x="61.3" y="55.1" font-size="13.3" text-anchor="end">54°52'48&quot;</text>
<text x="61.3" y="74.69999999999999" font-size="13.3" text-anchor="end">54°51'36&quot;</text>
<text x="61.3" y="183.6" font-size="13.3" text-anchor="end">54°54'00&quot;</text>
<text x="61.3" y="204.1" font-size="13.3" text-anchor="end">54°52'48&quot;</text>
<text x="61.3" y="223.7" font-size="13.3" text-anchor="end">54°51'36&quot;</text>
<text x="95.6" y="250.6" font-size="13.3" text-anchor="middle">13°50'24&quot;</text>
<text x="175.4" y="250.6" font-size="13.3" text-anchor="middle">13°55'12&quot;</text>
<text x="254.5" y="250.6" font-size="13.3" text-anchor="middle">14°00'00&quot;</text>
<text x="337.6" y="250.6" font-size="13.3" text-anchor="middle">13°50'24&quot;</text>
<text x="417.4" y="250.6" font-size="13.3" text-anchor="middle">13°55'12&quot;</text>
<text x="496.5" y="250.6" font-size="13.3" text-anchor="middle">14°00'00&quot;</text>
<rect x="166.0" y="96.2" width="299.8" height="5.5" fill="#000" shape-rendering="geometricPrecision"/>
<defs><linearGradient id="g96" x1="0" x2="1" y1="0" y2="0"><stop offset="0.0000" stop-color="#ff00ff"/><stop offset="0.0167" stop-color="#ea00ff"/><stop offset="0.0333" stop-color="#d400ff"/><stop offset="0.0500" stop-color="#bf00ff"/><stop offset="0.0667" stop-color="#aa00ff"/><stop offset="0.0833" stop-color="#9500ff"/><stop offset="0.1000" stop-color="#8000ff"/><stop offset="0.1167" stop-color="#6a00ff"/><stop offset="0.1333" stop-color="#5500ff"/><stop offset="0.1500" stop-color="#4000ff"/><stop offset="0.1667" stop-color="#2b00ff"/><stop offset="0.1833" stop-color="#1500ff"/><stop offset="0.2000" stop-color="#0000ff"/><stop offset="0.2167" stop-color="#0015ff"/><stop offset="0.2333" stop-color="#002bff"/><stop offset="0.2500" stop-color="#0040ff"/><stop offset="0.2667" stop-color="#0055ff"/><stop offset="0.2833" stop-color="#006aff"/><stop offset="0.3000" stop-color="#0080ff"/><stop offset="0.3167" stop-color="#0095ff"/><stop offset="0.3333" stop-color="#00aaff"/><stop offset="0.3500" stop-color="#00bfff"/><stop offset="0.3667" stop-color="#00d4ff"/><stop offset="0.3833" stop-color="#00eaff"/><stop offset="0.4000" stop-color="#00ffff"/><stop offset="0.4167" stop-color="#00ffea"/><stop offset="0.4333" stop-color="#00ffd4"/><stop offset="0.4500" stop-color="#00ffbf"/><stop offset="0.4667" stop-color="#00ffaa"/><stop offset="0.4833" stop-color="#00ff95"/><stop offset="0.5000" stop-color="#00ff80"/><stop offset="0.5167" stop-color="#00ff6a"/><stop offset="0.5333" stop-color="#00ff55"/><stop offset="0.5500" stop-color="#00ff40"/><stop offset="0.5667" stop-color="#00ff2b"/><stop offset="0.5833" stop-color="#00ff15"/><stop offset="0.6000" stop-color="#00ff00"/><stop offset="0.6167" stop-color="#15ff00"/><stop offset="0.6333" stop-color="#2aff00"/><stop offset="0.6500" stop-color="#40ff00"/><stop offset="0.6667" stop-color="#55ff00"/><stop offset="0.6833" stop-color="#6aff00"/><stop offset="0.7000" stop-color="#80ff00"/><stop offset="0.7167" stop-color="#95ff00"/><stop offset="0.7333" stop-color="#aaff00"/><stop offset="0.7500" stop-color="#bfff00"/><stop offset="0.7667" stop-color="#d5ff00"/><stop offset="0.7833" stop-color="#eaff00"/><stop offset="0.8000" stop-color="#ffff00"/><stop offset="0.8167" stop-color="#ffea00"/><stop offset="0.8333" stop-color="#ffd400"/><stop offset="0.8500" stop-color="#ffbf00"/><stop offset="0.8667" stop-color="#ffaa00"/><stop offset="0.8833" stop-color="#ff9500"/><stop offset="0.9000" stop-color="#ff8000"/><stop offset="0.9167" stop-color="#ff6a00"/><stop offset="0.9333" stop-color="#ff5500"/><stop offset="0.9500" stop-color="#ff4000"/><stop offset="0.9667" stop-color="#ff2b00"/><stop offset="0.9833" stop-color="#ff1500"/><stop offset="1.0000" stop-color="#ff0000"/></linearGradient></defs>
<rect x="167.6" y="98.6" width="297.0" height="1.9" fill="url(#g96)" shape-rendering="geometricPrecision"/>
<rect x="166.80" y="101.7" width="1" height="6.2" fill="#444" shape-rendering="geometricPrecision"/>
<rect x="173.42" y="101.7" width="1" height="3.0" fill="#444" shape-rendering="geometricPrecision"/>
<rect x="180.04" y="101.7" width="1" height="3.0" fill="#444" shape-rendering="geometricPrecision"/>
<rect x="186.66" y="101.7" width="1" height="3.0" fill="#444" shape-rendering="geometricPrecision"/>
<rect x="193.28" y="101.7" width="1" height="3.0" fill="#444" shape-rendering="geometricPrecision"/>
<rect x="199.90" y="101.7" width="1" height="6.2" fill="#444" shape-rendering="geometricPrecision"/>
<rect x="206.52" y="101.7" width="1" height="3.0" fill="#444" shape-rendering="geometricPrecision"/>
<rect x="213.14" y="101.7" width="1" height="3.0" fill="#444" shape-rendering="geometricPrecision"/>
<rect x="219.76" y="101.7" width="1" height="3.0" fill="#444" shape-rendering="geometricPrecision"/>
<rect x="226.38" y="101.7" width="1" height="3.0" fill="#444" shape-rendering="geometricPrecision"/>
<rect x="233.00" y="101.7" width="1" height="6.2" fill="#444" shape-rendering="geometricPrecision"/>
<rect x="239.62" y="101.7" width="1" height="3.0" fill="#444" shape-rendering="geometricPrecision"/>
<rect x="246.24" y="101.7" width="1" height="3.0" fill="#444" shape-rendering="geometricPrecision"/>
<rect x="252.86" y="101.7" width="1" height="3.0" fill="#444" shape-rendering="geometricPrecision"/>
<rect x="259.48" y="101.7" width="1" height="3.0" fill="#444" shape-rendering="geometricPrecision"/>
<rect x="266.10" y="101.7" width="1" height="6.2" fill="#444" shape-rendering="geometricPrecision"/>
<rect x="272.72" y="101.7" width="1" height="3.0" fill="#444" shape-rendering="geometricPrecision"/>
<rect x="279.34" y="101.7" width="1" height="3.0" fill="#444" shape-rendering="geometricPrecision"/>
<rect x="285.96" y="101.7" width="1" height="3.0" fill="#444" shape-rendering="geometricPrecision"/>
<rect x="292.58" y="101.7" width="1" height="3.0" fill="#444" shape-rendering="geometricPrecision"/>
<rect x="299.20" y="101.7" width="1" height="6.2" fill="#444" shape-rendering="geometricPrecision"/>
<rect x="305.82" y="101.7" width="1" height="3.0" fill="#444" shape-rendering="geometricPrecision"/>
<rect x="312.44" y="101.7" width="1" height="3.0" fill="#444" shape-rendering="geometricPrecision"/>
<rect x="319.06" y="101.7" width="1" height="3.0" fill="#444" shape-rendering="geometricPrecision"/>
<rect x="325.68" y="101.7" width="1" height="3.0" fill="#444" shape-rendering="geometricPrecision"/>
<rect x="332.30" y="101.7" width="1" height="6.2" fill="#444" shape-rendering="geometricPrecision"/>
<rect x="338.92" y="101.7" width="1" height="3.0" fill="#444" shape-rendering="geometricPrecision"/>
<rect x="345.54" y="101.7" width="1" height="3.0" fill="#444" shape-rendering="geometricPrecision"/>
<rect x="352.16" y="101.7" width="1" height="3.0" fill="#444" shape-rendering="geometricPrecision"/>
<rect x="358.78" y="101.7" width="1" height="3.0" fill="#444" shape-rendering="geometricPrecision"/>
<rect x="365.40" y="101.7" width="1" height="6.2" fill="#444" shape-rendering="geometricPrecision"/>
<rect x="372.02" y="101.7" width="1" height="3.0" fill="#444" shape-rendering="geometricPrecision"/>
<rect x="378.64" y="101.7" width="1" height="3.0" fill="#444" shape-rendering="geometricPrecision"/>
<rect x="385.26" y="101.7" width="1" height="3.0" fill="#444" shape-rendering="geometricPrecision"/>
<rect x="391.88" y="101.7" width="1" height="3.0" fill="#444" shape-rendering="geometricPrecision"/>
<rect x="398.50" y="101.7" width="1" height="6.2" fill="#444" shape-rendering="geometricPrecision"/>
<rect x="405.12" y="101.7" width="1" height="3.0" fill="#444" shape-rendering="geometricPrecision"/>
<rect x="411.74" y="101.7" width="1" height="3.0" fill="#444" shape-rendering="geometricPrecision"/>
<rect x="418.36" y="101.7" width="1" height="3.0" fill="#444" shape-rendering="geometricPrecision"/>
<rect x="424.98" y="101.7" width="1" height="3.0" fill="#444" shape-rendering="geometricPrecision"/>
<rect x="431.60" y="101.7" width="1" height="6.2" fill="#444" shape-rendering="geometricPrecision"/>
<rect x="438.22" y="101.7" width="1" height="3.0" fill="#444" shape-rendering="geometricPrecision"/>
<rect x="444.84" y="101.7" width="1" height="3.0" fill="#444" shape-rendering="geometricPrecision"/>
<rect x="451.46" y="101.7" width="1" height="3.0" fill="#444" shape-rendering="geometricPrecision"/>
<rect x="458.08" y="101.7" width="1" height="3.0" fill="#444" shape-rendering="geometricPrecision"/>
<rect x="464.70" y="101.7" width="1" height="6.2" fill="#444" shape-rendering="geometricPrecision"/>
<text x="167.3" y="124.0" font-size="13.3" text-anchor="middle">−19</text>
<text x="200.4" y="124.0" font-size="13.3" text-anchor="middle">−18</text>
<text x="233.5" y="124.0" font-size="13.3" text-anchor="middle">−17</text>
<text x="266.6" y="124.0" font-size="13.3" text-anchor="middle">−16</text>
<text x="299.7" y="124.0" font-size="13.3" text-anchor="middle">−15</text>
<text x="332.8" y="124.0" font-size="13.3" text-anchor="middle">−14</text>
<text x="365.9" y="124.0" font-size="13.3" text-anchor="middle">−13</text>
<text x="399.0" y="124.0" font-size="13.3" text-anchor="middle">−12</text>
<text x="432.1" y="124.0" font-size="13.3" text-anchor="middle">−11</text>
<text x="465.2" y="124.0" font-size="13.3" text-anchor="middle">−10</text>
<text x="472.1" y="104.1" font-size="13.3" text-anchor="start">(mGal)</text>
<rect x="166.0" y="264.2" width="299.8" height="5.5" fill="#000" shape-rendering="geometricPrecision"/>
<defs><linearGradient id="g264" x1="0" x2="1" y1="0" y2="0"><stop offset="0.0000" stop-color="#00007f"/><stop offset="0.0167" stop-color="#000090"/><stop offset="0.0333" stop-color="#0000a1"/><stop offset="0.0500" stop-color="#0000b2"/><stop offset="0.0667" stop-color="#0000c3"/><stop offset="0.0833" stop-color="#0000d4"/><stop offset="0.1000" stop-color="#0000e5"/><stop offset="0.1167" stop-color="#0000f6"/><stop offset="0.1333" stop-color="#0008ff"/><stop offset="0.1500" stop-color="#0019ff"/><stop offset="0.1667" stop-color="#002aff"/><stop offset="0.1833" stop-color="#003bff"/><stop offset="0.2000" stop-color="#004cff"/><stop offset="0.2167" stop-color="#005dff"/><stop offset="0.2333" stop-color="#006eff"/><stop offset="0.2500" stop-color="#007fff"/><stop offset="0.2667" stop-color="#0090ff"/><stop offset="0.2833" stop-color="#00a1ff"/><stop offset="0.3000" stop-color="#00b2ff"/><stop offset="0.3167" stop-color="#00c3ff"/><stop offset="0.3333" stop-color="#00d4ff"/><stop offset="0.3500" stop-color="#00e5ff"/><stop offset="0.3667" stop-color="#00f6ff"/><stop offset="0.3833" stop-color="#08fff6"/><stop offset="0.4000" stop-color="#19ffe5"/><stop offset="0.4167" stop-color="#2affd4"/><stop offset="0.4333" stop-color="#3bffc3"/><stop offset="0.4500" stop-color="#4cffb2"/><stop offset="0.4667" stop-color="#5dffa1"/><stop offset="0.4833" stop-color="#6eff90"/><stop offset="0.5000" stop-color="#7fff7f"/><stop offset="0.5167" stop-color="#90ff6e"/><stop offset="0.5333" stop-color="#a1ff5d"/><stop offset="0.5500" stop-color="#b2ff4c"/><stop offset="0.5667" stop-color="#c3ff3b"/><stop offset="0.5833" stop-color="#d4ff2a"/><stop offset="0.6000" stop-color="#e5ff19"/><stop offset="0.6167" stop-color="#f6ff08"/><stop offset="0.6333" stop-color="#fff600"/><stop offset="0.6500" stop-color="#ffe500"/><stop offset="0.6667" stop-color="#ffd400"/><stop offset="0.6833" stop-color="#ffc300"/><stop offset="0.7000" stop-color="#ffb200"/><stop offset="0.7167" stop-color="#ffa100"/><stop offset="0.7333" stop-color="#ff9000"/><stop offset="0.7500" stop-color="#ff7f00"/><stop offset="0.7667" stop-color="#ff6e00"/><stop offset="0.7833" stop-color="#ff5d00"/><stop offset="0.8000" stop-color="#ff4c00"/><stop offset="0.8167" stop-color="#ff3b00"/><stop offset="0.8333" stop-color="#ff2a00"/><stop offset="0.8500" stop-color="#ff1900"/><stop offset="0.8667" stop-color="#ff0800"/><stop offset="0.8833" stop-color="#f60000"/><stop offset="0.9000" stop-color="#e50000"/><stop offset="0.9167" stop-color="#d40000"/><stop offset="0.9333" stop-color="#c30000"/><stop offset="0.9500" stop-color="#b20000"/><stop offset="0.9667" stop-color="#a10000"/><stop offset="0.9833" stop-color="#900000"/><stop offset="1.0000" stop-color="#7f0000"/></linearGradient></defs>
<rect x="167.6" y="266.6" width="297.0" height="1.9" fill="url(#g264)" shape-rendering="geometricPrecision"/>
<rect x="166.80" y="269.7" width="1" height="6.2" fill="#444" shape-rendering="geometricPrecision"/>
<rect x="176.73" y="269.7" width="1" height="3.0" fill="#444" shape-rendering="geometricPrecision"/>
<rect x="186.66" y="269.7" width="1" height="3.0" fill="#444" shape-rendering="geometricPrecision"/>
<rect x="196.59" y="269.7" width="1" height="3.0" fill="#444" shape-rendering="geometricPrecision"/>
<rect x="206.52" y="269.7" width="1" height="3.0" fill="#444" shape-rendering="geometricPrecision"/>
<rect x="216.45" y="269.7" width="1" height="6.2" fill="#444" shape-rendering="geometricPrecision"/>
<rect x="226.38" y="269.7" width="1" height="3.0" fill="#444" shape-rendering="geometricPrecision"/>
<rect x="236.31" y="269.7" width="1" height="3.0" fill="#444" shape-rendering="geometricPrecision"/>
<rect x="246.24" y="269.7" width="1" height="3.0" fill="#444" shape-rendering="geometricPrecision"/>
<rect x="256.17" y="269.7" width="1" height="3.0" fill="#444" shape-rendering="geometricPrecision"/>
<rect x="266.10" y="269.7" width="1" height="6.2" fill="#444" shape-rendering="geometricPrecision"/>
<rect x="276.03" y="269.7" width="1" height="3.0" fill="#444" shape-rendering="geometricPrecision"/>
<rect x="285.96" y="269.7" width="1" height="3.0" fill="#444" shape-rendering="geometricPrecision"/>
<rect x="295.89" y="269.7" width="1" height="3.0" fill="#444" shape-rendering="geometricPrecision"/>
<rect x="305.82" y="269.7" width="1" height="3.0" fill="#444" shape-rendering="geometricPrecision"/>
<rect x="315.75" y="269.7" width="1" height="6.2" fill="#444" shape-rendering="geometricPrecision"/>
<rect x="325.68" y="269.7" width="1" height="3.0" fill="#444" shape-rendering="geometricPrecision"/>
<rect x="335.61" y="269.7" width="1" height="3.0" fill="#444" shape-rendering="geometricPrecision"/>
<rect x="345.54" y="269.7" width="1" height="3.0" fill="#444" shape-rendering="geometricPrecision"/>
<rect x="355.47" y="269.7" width="1" height="3.0" fill="#444" shape-rendering="geometricPrecision"/>
<rect x="365.40" y="269.7" width="1" height="6.2" fill="#444" shape-rendering="geometricPrecision"/>
<rect x="375.33" y="269.7" width="1" height="3.0" fill="#444" shape-rendering="geometricPrecision"/>
<rect x="385.26" y="269.7" width="1" height="3.0" fill="#444" shape-rendering="geometricPrecision"/>
<rect x="395.19" y="269.7" width="1" height="3.0" fill="#444" shape-rendering="geometricPrecision"/>
<rect x="405.12" y="269.7" width="1" height="3.0" fill="#444" shape-rendering="geometricPrecision"/>
<rect x="415.05" y="269.7" width="1" height="6.2" fill="#444" shape-rendering="geometricPrecision"/>
<rect x="424.98" y="269.7" width="1" height="3.0" fill="#444" shape-rendering="geometricPrecision"/>
<rect x="434.91" y="269.7" width="1" height="3.0" fill="#444" shape-rendering="geometricPrecision"/>
<rect x="444.84" y="269.7" width="1" height="3.0" fill="#444" shape-rendering="geometricPrecision"/>
<rect x="454.77" y="269.7" width="1" height="3.0" fill="#444" shape-rendering="geometricPrecision"/>
<rect x="464.70" y="269.7" width="1" height="6.2" fill="#444" shape-rendering="geometricPrecision"/>
<text x="167.3" y="292.0" font-size="13.3" text-anchor="middle">−65</text>
<text x="216.95" y="292.0" font-size="13.3" text-anchor="middle">−60</text>
<text x="266.6" y="292.0" font-size="13.3" text-anchor="middle">−55</text>
<text x="316.25" y="292.0" font-size="13.3" text-anchor="middle">−50</text>
<text x="365.9" y="292.0" font-size="13.3" text-anchor="middle">−45</text>
<text x="415.55" y="292.0" font-size="13.3" text-anchor="middle">−40</text>
<text x="465.2" y="292.0" font-size="13.3" text-anchor="middle">−35</text>
<text x="472.1" y="271.8" font-size="13.3" text-anchor="start">(m)</text>
</svg>
</body></html>
